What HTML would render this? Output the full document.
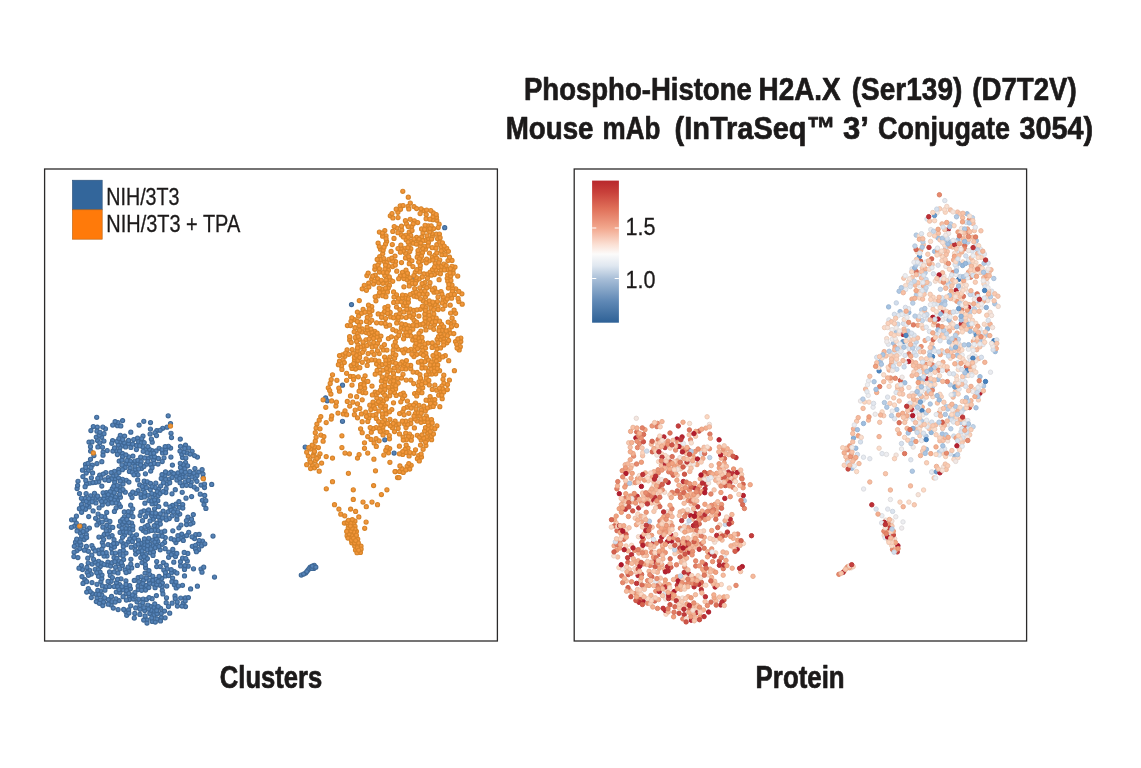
<!DOCTYPE html>
<html><head><meta charset="utf-8"><title>Phospho-Histone H2A.X</title>
<style>
html,body{margin:0;padding:0;background:#fff;}
body{width:1141px;height:768px;overflow:hidden;font-family:"Liberation Sans",sans-serif;}
svg{display:block;will-change:transform;}
text{font-family:"Liberation Sans",sans-serif;fill:#1c1a1a;}
.r{stroke:#1c1a1a;stroke-width:0.3px;}
.b{font-weight:bold;stroke:#1c1a1a;stroke-width:0.7px;stroke-linejoin:round;}
</style></head><body>
<svg width="1141" height="768" viewBox="0 0 1141 768">
<defs><linearGradient id="cb" x1="0" y1="0" x2="0" y2="1"><stop offset="0.000" stop-color="#b8282c"/><stop offset="0.080" stop-color="#c8403a"/><stop offset="0.200" stop-color="#e0715a"/><stop offset="0.333" stop-color="#f2a78d"/><stop offset="0.450" stop-color="#fbe0d4"/><stop offset="0.517" stop-color="#fcfbfa"/><stop offset="0.600" stop-color="#dfe7f0"/><stop offset="0.690" stop-color="#a9bfd8"/><stop offset="0.850" stop-color="#5f88b5"/><stop offset="1.000" stop-color="#2e6196"/></linearGradient></defs>
<rect width="1141" height="768" fill="#fff"/>
<g opacity="0.999"><!-- title -->
<text class="b" x="524.0" y="99.5" font-size="31.6" textLength="227.8" lengthAdjust="spacingAndGlyphs">Phospho-Histone</text>
<text class="b" x="758.5" y="99.5" font-size="31.6" textLength="82.2" lengthAdjust="spacingAndGlyphs">H2A.X</text>
<text class="b" x="851.8" y="99.5" font-size="31.6" textLength="110.5" lengthAdjust="spacingAndGlyphs">(Ser139)</text>
<text class="b" x="972.3" y="99.5" font-size="31.6" textLength="104.4" lengthAdjust="spacingAndGlyphs">(D7T2V)</text>
<text class="b" x="505.7" y="139" font-size="31.6" textLength="87.8" lengthAdjust="spacingAndGlyphs">Mouse</text>
<text class="b" x="602.6" y="139" font-size="31.6" textLength="57.8" lengthAdjust="spacingAndGlyphs">mAb</text>
<text class="b" x="674.6" y="139" font-size="31.6" textLength="160.9" lengthAdjust="spacingAndGlyphs">(InTraSeq&#8482;</text>
<text class="b" x="843.1" y="139" font-size="31.6" textLength="25.9" lengthAdjust="spacingAndGlyphs">3&#8217;</text>
<text class="b" x="878.0" y="139" font-size="31.6" textLength="131.9" lengthAdjust="spacingAndGlyphs">Conjugate</text>
<text class="b" x="1019.6" y="139" font-size="31.6" textLength="73.6" lengthAdjust="spacingAndGlyphs">3054)</text>
</g><!-- frames -->
<rect x="44.6" y="169" width="452.8" height="472" fill="none" stroke="#2b2a2a" stroke-width="1.3"/>
<rect x="574.2" y="169" width="452.4" height="472" fill="none" stroke="#2b2a2a" stroke-width="1.3"/>
<!-- legend left -->
<rect x="72.4" y="180.2" width="29.8" height="29.6" fill="#33669b" stroke="#2a4f78" stroke-width="0.6"/>
<rect x="72.4" y="209.8" width="29.8" height="29.4" fill="#ff7a0a" stroke="#b9600f" stroke-width="0.6"/>
<g opacity="0.999"><text class="r" x="106.3" y="204.9" font-size="23.4" textLength="73.2" lengthAdjust="spacingAndGlyphs">NIH/3T3</text>
<text class="r" x="106.3" y="232.2" font-size="23.4" textLength="133.9" lengthAdjust="spacingAndGlyphs">NIH/3T3 + TPA</text>
<!-- colour bar -->
<rect x="592.1" y="180.6" width="26.8" height="142.1" fill="url(#cb)"/>
<path d="M592.1 228h4.2M614.7 228h4.2M592.1 278.5h4.2M614.7 278.5h4.2" stroke="#fff" stroke-width="1.1"/>
<text class="r" x="625.4" y="234.6" font-size="24.2" textLength="30" lengthAdjust="spacingAndGlyphs">1.5</text>
<text class="r" x="625.4" y="287.5" font-size="24.2" textLength="30" lengthAdjust="spacingAndGlyphs">1.0</text>
<!-- axis titles -->
<text class="b" x="219.8" y="688" font-size="31" textLength="102.4" lengthAdjust="spacingAndGlyphs">Clusters</text>
<text class="b" x="755.6" y="688" font-size="31" textLength="89" lengthAdjust="spacingAndGlyphs">Protein</text>
</g><!-- points -->
<g fill="#5583b8" stroke="#3f6896" stroke-width="1.15"><circle cx="136.4" cy="449.5" r="2.05"/><circle cx="140.7" cy="457" r="2.05"/><circle cx="93.3" cy="426.5" r="2.05"/><circle cx="129.8" cy="528.6" r="2.05"/><circle cx="136.5" cy="445.4" r="2.05"/><circle cx="174.4" cy="571.6" r="2.05"/><circle cx="89.1" cy="506.9" r="2.05"/><circle cx="150.8" cy="457" r="2.05"/><circle cx="185.4" cy="597.9" r="2.05"/><circle cx="180.5" cy="467.4" r="2.05"/><circle cx="153.3" cy="584.1" r="2.05"/><circle cx="165.8" cy="492.5" r="2.05"/><circle cx="161.5" cy="532" r="2.05"/><circle cx="172.2" cy="515.8" r="2.05"/><circle cx="111.4" cy="548.6" r="2.05"/><circle cx="143" cy="436.1" r="2.05"/><circle cx="165.6" cy="479.3" r="2.05"/><circle cx="146.3" cy="464.2" r="2.05"/><circle cx="109.1" cy="536.9" r="2.05"/><circle cx="97" cy="597.8" r="2.05"/><circle cx="131.6" cy="523" r="2.05"/><circle cx="137.5" cy="438.2" r="2.05"/><circle cx="180.7" cy="598" r="2.05"/><circle cx="92.3" cy="465.1" r="2.05"/><circle cx="89.9" cy="483" r="2.05"/><circle cx="86.8" cy="505.1" r="2.05"/><circle cx="95.2" cy="569.3" r="2.05"/><circle cx="351.5" cy="304.6" r="2.05"/><circle cx="97.3" cy="427.1" r="2.05"/><circle cx="155.1" cy="587.7" r="2.05"/><circle cx="95.5" cy="498.2" r="2.05"/><circle cx="142" cy="562.6" r="2.05"/><circle cx="152.9" cy="545.8" r="2.05"/><circle cx="118.7" cy="469.4" r="2.05"/><circle cx="170.6" cy="448.1" r="2.05"/><circle cx="80.4" cy="532.9" r="2.05"/><circle cx="135.4" cy="550.3" r="2.05"/><circle cx="140.8" cy="557.6" r="2.05"/><circle cx="175" cy="595.9" r="2.05"/><circle cx="111.2" cy="581.3" r="2.05"/><circle cx="75.5" cy="542.2" r="2.05"/><circle cx="117.5" cy="425.7" r="2.05"/><circle cx="120.4" cy="497.2" r="2.05"/><circle cx="138.1" cy="490.6" r="2.05"/><circle cx="159.1" cy="448.3" r="2.05"/><circle cx="98.7" cy="481.8" r="2.05"/><circle cx="152.2" cy="442.2" r="2.05"/><circle cx="127" cy="525.7" r="2.05"/><circle cx="176.9" cy="480" r="2.05"/><circle cx="162.1" cy="586.7" r="2.05"/><circle cx="185.5" cy="462.5" r="2.05"/><circle cx="168.6" cy="557.3" r="2.05"/><circle cx="142.5" cy="553.8" r="2.05"/><circle cx="184.5" cy="575.9" r="2.05"/><circle cx="122.4" cy="565.4" r="2.05"/><circle cx="112.6" cy="440.6" r="2.05"/><circle cx="126" cy="553.1" r="2.05"/><circle cx="138.6" cy="441.7" r="2.05"/><circle cx="143.6" cy="542.3" r="2.05"/><circle cx="179.4" cy="507.4" r="2.05"/><circle cx="137.7" cy="463.2" r="2.05"/><circle cx="120.1" cy="442.2" r="2.05"/><circle cx="128.9" cy="571.5" r="2.05"/><circle cx="195.7" cy="534.5" r="2.05"/><circle cx="97.9" cy="446.9" r="2.05"/><circle cx="135.7" cy="607.9" r="2.05"/><circle cx="106.2" cy="519.8" r="2.05"/><circle cx="114.3" cy="571.9" r="2.05"/><circle cx="152" cy="450.7" r="2.05"/><circle cx="171.4" cy="572.7" r="2.05"/><circle cx="199.1" cy="534.4" r="2.05"/><circle cx="198.3" cy="543.9" r="2.05"/><circle cx="86.3" cy="534.6" r="2.05"/><circle cx="171.2" cy="472.1" r="2.05"/><circle cx="88.2" cy="470.4" r="2.05"/><circle cx="152.3" cy="621.4" r="2.05"/><circle cx="120" cy="551.7" r="2.05"/><circle cx="128.7" cy="456.8" r="2.05"/><circle cx="122.2" cy="445.7" r="2.05"/><circle cx="102.3" cy="542.6" r="2.05"/><circle cx="88.3" cy="588.5" r="2.05"/><circle cx="132.9" cy="463" r="2.05"/><circle cx="180.1" cy="475.2" r="2.05"/><circle cx="74.5" cy="526.1" r="2.05"/><circle cx="82.5" cy="470.2" r="2.05"/><circle cx="87.8" cy="558.2" r="2.05"/><circle cx="107.2" cy="450.5" r="2.05"/><circle cx="89.1" cy="502.5" r="2.05"/><circle cx="153.3" cy="519.2" r="2.05"/><circle cx="178.9" cy="527.8" r="2.05"/><circle cx="187.9" cy="517.1" r="2.05"/><circle cx="135" cy="461" r="2.05"/><circle cx="143.8" cy="510.9" r="2.05"/><circle cx="160" cy="520.2" r="2.05"/><circle cx="163.2" cy="511.1" r="2.05"/><circle cx="148.1" cy="458.6" r="2.05"/><circle cx="122.5" cy="524" r="2.05"/><circle cx="122.4" cy="453.4" r="2.05"/><circle cx="120.5" cy="521.2" r="2.05"/><circle cx="202.4" cy="500.3" r="2.05"/><circle cx="147.1" cy="619.9" r="2.05"/><circle cx="91.9" cy="545.7" r="2.05"/><circle cx="144.7" cy="545" r="2.05"/><circle cx="180.6" cy="565.9" r="2.05"/><circle cx="147.7" cy="513" r="2.05"/><circle cx="155.5" cy="516.3" r="2.05"/><circle cx="313.8" cy="568.4" r="2.05"/><circle cx="112.3" cy="488.7" r="2.05"/><circle cx="201" cy="569" r="2.05"/><circle cx="165.4" cy="575.9" r="2.05"/><circle cx="144.4" cy="538.9" r="2.05"/><circle cx="172.1" cy="603.2" r="2.05"/><circle cx="149.2" cy="527.8" r="2.05"/><circle cx="130.9" cy="559.3" r="2.05"/><circle cx="169.4" cy="479" r="2.05"/><circle cx="108.1" cy="544.6" r="2.05"/><circle cx="161.4" cy="617.6" r="2.05"/><circle cx="111.2" cy="604.9" r="2.05"/><circle cx="149.7" cy="544.1" r="2.05"/><circle cx="162.4" cy="583.1" r="2.05"/><circle cx="92.2" cy="564" r="2.05"/><circle cx="182.3" cy="485.7" r="2.05"/><circle cx="119.7" cy="584.6" r="2.05"/><circle cx="156.8" cy="430.6" r="2.05"/><circle cx="172.6" cy="578.1" r="2.05"/><circle cx="157.8" cy="500.7" r="2.05"/><circle cx="124.4" cy="516.8" r="2.05"/><circle cx="154.9" cy="432.8" r="2.05"/><circle cx="97" cy="584.3" r="2.05"/><circle cx="117.5" cy="500.6" r="2.05"/><circle cx="107.2" cy="498" r="2.05"/><circle cx="111.8" cy="443.3" r="2.05"/><circle cx="185.5" cy="445.1" r="2.05"/><circle cx="99.1" cy="507.9" r="2.05"/><circle cx="129.3" cy="596.3" r="2.05"/><circle cx="164.6" cy="542.4" r="2.05"/><circle cx="144.3" cy="587.4" r="2.05"/><circle cx="103.1" cy="452.1" r="2.05"/><circle cx="115.5" cy="497.2" r="2.05"/><circle cx="191.2" cy="482.3" r="2.05"/><circle cx="83.3" cy="500.7" r="2.05"/><circle cx="96.9" cy="463.5" r="2.05"/><circle cx="116.3" cy="592.1" r="2.05"/><circle cx="325.6" cy="397.9" r="2.05"/><circle cx="73.9" cy="556.5" r="2.05"/><circle cx="130.7" cy="605.8" r="2.05"/><circle cx="204.5" cy="487.5" r="2.05"/><circle cx="107" cy="556.1" r="2.05"/><circle cx="145.1" cy="573.1" r="2.05"/><circle cx="167.2" cy="484.1" r="2.05"/><circle cx="98.5" cy="550.1" r="2.05"/><circle cx="159.6" cy="585.1" r="2.05"/><circle cx="194.5" cy="538.6" r="2.05"/><circle cx="101.6" cy="437.3" r="2.05"/><circle cx="108.2" cy="477.5" r="2.05"/><circle cx="152.9" cy="580.2" r="2.05"/><circle cx="130.4" cy="588.7" r="2.05"/><circle cx="172" cy="493.8" r="2.05"/><circle cx="106.3" cy="492.6" r="2.05"/><circle cx="137" cy="601.8" r="2.05"/><circle cx="172.4" cy="465.1" r="2.05"/><circle cx="198.7" cy="472.1" r="2.05"/><circle cx="116.3" cy="450.8" r="2.05"/><circle cx="132.8" cy="526.2" r="2.05"/><circle cx="156.4" cy="595.6" r="2.05"/><circle cx="143.2" cy="530.5" r="2.05"/><circle cx="140.6" cy="548.4" r="2.05"/><circle cx="130.2" cy="468.3" r="2.05"/><circle cx="182.7" cy="504.5" r="2.05"/><circle cx="79.4" cy="508.7" r="2.05"/><circle cx="124.6" cy="535.1" r="2.05"/><circle cx="161.2" cy="478.4" r="2.05"/><circle cx="119.1" cy="600.6" r="2.05"/><circle cx="168.5" cy="606.5" r="2.05"/><circle cx="156.1" cy="450.9" r="2.05"/><circle cx="164.9" cy="475.6" r="2.05"/><circle cx="94.5" cy="493.3" r="2.05"/><circle cx="153.6" cy="460.3" r="2.05"/><circle cx="92.4" cy="593.6" r="2.05"/><circle cx="93.3" cy="548.4" r="2.05"/><circle cx="180.3" cy="439.1" r="2.05"/><circle cx="196.8" cy="489.2" r="2.05"/><circle cx="148.6" cy="531.2" r="2.05"/><circle cx="156.8" cy="523.1" r="2.05"/><circle cx="126.3" cy="480.3" r="2.05"/><circle cx="160.6" cy="608.3" r="2.05"/><circle cx="119.2" cy="461.1" r="2.05"/><circle cx="95.7" cy="482.3" r="2.05"/><circle cx="77" cy="550.6" r="2.05"/><circle cx="188.7" cy="532.3" r="2.05"/><circle cx="141.3" cy="442.7" r="2.05"/><circle cx="103.1" cy="492.8" r="2.05"/><circle cx="148.6" cy="509.9" r="2.05"/><circle cx="156.7" cy="561.5" r="2.05"/><circle cx="157.3" cy="526.2" r="2.05"/><circle cx="202.1" cy="469.7" r="2.05"/><circle cx="152.1" cy="598.7" r="2.05"/><circle cx="165.9" cy="504.2" r="2.05"/><circle cx="114.4" cy="547.1" r="2.05"/><circle cx="145.3" cy="560.6" r="2.05"/><circle cx="160.6" cy="486" r="2.05"/><circle cx="81.5" cy="504.5" r="2.05"/><circle cx="301.3" cy="575" r="2.05"/><circle cx="122.6" cy="456.7" r="2.05"/><circle cx="154.2" cy="463.5" r="2.05"/><circle cx="126.7" cy="615.3" r="2.05"/><circle cx="101.8" cy="595.2" r="2.05"/><circle cx="97.5" cy="440.5" r="2.05"/><circle cx="99.2" cy="553.5" r="2.05"/><circle cx="176.4" cy="475.9" r="2.05"/><circle cx="116.4" cy="489.7" r="2.05"/><circle cx="99.1" cy="523" r="2.05"/><circle cx="125.3" cy="492.2" r="2.05"/><circle cx="121" cy="578.8" r="2.05"/><circle cx="153.6" cy="607.5" r="2.05"/><circle cx="126.1" cy="463.4" r="2.05"/><circle cx="162.3" cy="590.6" r="2.05"/><circle cx="114" cy="557.6" r="2.05"/><circle cx="108.4" cy="500.5" r="2.05"/><circle cx="128.2" cy="541.9" r="2.05"/><circle cx="169.7" cy="613.2" r="2.05"/><circle cx="139.9" cy="614.4" r="2.05"/><circle cx="205.9" cy="508.4" r="2.05"/><circle cx="152.7" cy="540.2" r="2.05"/><circle cx="119.9" cy="447.7" r="2.05"/><circle cx="125.9" cy="454.9" r="2.05"/><circle cx="85.5" cy="464.3" r="2.05"/><circle cx="155.5" cy="503.4" r="2.05"/><circle cx="151.6" cy="515.8" r="2.05"/><circle cx="202.5" cy="541" r="2.05"/><circle cx="104.2" cy="496" r="2.05"/><circle cx="111.6" cy="495.9" r="2.05"/><circle cx="156.9" cy="544.2" r="2.05"/><circle cx="92" cy="582.6" r="2.05"/><circle cx="138.2" cy="589.6" r="2.05"/><circle cx="125.8" cy="611.5" r="2.05"/><circle cx="155.2" cy="547.7" r="2.05"/><circle cx="100.5" cy="591" r="2.05"/><circle cx="327.3" cy="400.8" r="2.05"/><circle cx="130.9" cy="447.4" r="2.05"/><circle cx="135.7" cy="554.1" r="2.05"/><circle cx="168.2" cy="415.8" r="2.05"/><circle cx="90.2" cy="591.5" r="2.05"/><circle cx="174.9" cy="509.5" r="2.05"/><circle cx="86.5" cy="484" r="2.05"/><circle cx="85.1" cy="486.7" r="2.05"/><circle cx="150.3" cy="552.8" r="2.05"/><circle cx="77.1" cy="544.9" r="2.05"/><circle cx="182.5" cy="457.6" r="2.05"/><circle cx="141.5" cy="468.4" r="2.05"/><circle cx="182.8" cy="508.1" r="2.05"/><circle cx="92.2" cy="498.5" r="2.05"/><circle cx="89.7" cy="570.3" r="2.05"/><circle cx="96.2" cy="594.2" r="2.05"/><circle cx="184.9" cy="468.7" r="2.05"/><circle cx="145.6" cy="567.8" r="2.05"/><circle cx="162.5" cy="452.9" r="2.05"/><circle cx="116.1" cy="508" r="2.05"/><circle cx="99.7" cy="475.2" r="2.05"/><circle cx="111.3" cy="545.3" r="2.05"/><circle cx="119.3" cy="526" r="2.05"/><circle cx="107.9" cy="562.1" r="2.05"/><circle cx="140.1" cy="515.6" r="2.05"/><circle cx="165.3" cy="537.6" r="2.05"/><circle cx="137.9" cy="460.4" r="2.05"/><circle cx="168.6" cy="575.5" r="2.05"/><circle cx="104.7" cy="516.9" r="2.05"/><circle cx="158.6" cy="536" r="2.05"/><circle cx="112.2" cy="552.9" r="2.05"/><circle cx="129.4" cy="471.4" r="2.05"/><circle cx="169.7" cy="482.7" r="2.05"/><circle cx="189.8" cy="474.6" r="2.05"/><circle cx="131.1" cy="512.6" r="2.05"/><circle cx="183" cy="473.8" r="2.05"/><circle cx="141.1" cy="461.7" r="2.05"/><circle cx="136.3" cy="472.5" r="2.05"/><circle cx="102.3" cy="505.1" r="2.05"/><circle cx="115.5" cy="553" r="2.05"/><circle cx="162" cy="474.6" r="2.05"/><circle cx="129.3" cy="599.6" r="2.05"/><circle cx="77.1" cy="530.9" r="2.05"/><circle cx="85.7" cy="467.4" r="2.05"/><circle cx="160.2" cy="549.8" r="2.05"/><circle cx="136.5" cy="534.8" r="2.05"/><circle cx="141.2" cy="497.4" r="2.05"/><circle cx="98.6" cy="561.3" r="2.05"/><circle cx="104" cy="433.7" r="2.05"/><circle cx="153.9" cy="611.3" r="2.05"/><circle cx="108.1" cy="581.4" r="2.05"/><circle cx="132.6" cy="444.1" r="2.05"/><circle cx="143.7" cy="620.1" r="2.05"/><circle cx="140.9" cy="543.4" r="2.05"/><circle cx="149.8" cy="613.4" r="2.05"/><circle cx="150.4" cy="453.6" r="2.05"/><circle cx="185.4" cy="472.3" r="2.05"/><circle cx="89.4" cy="528.1" r="2.05"/><circle cx="154.7" cy="603.9" r="2.05"/><circle cx="147.5" cy="545.8" r="2.05"/><circle cx="384.8" cy="439.8" r="2.05"/><circle cx="115.6" cy="567.3" r="2.05"/><circle cx="187.3" cy="561" r="2.05"/><circle cx="82.9" cy="476.6" r="2.05"/><circle cx="151.4" cy="439" r="2.05"/><circle cx="123.1" cy="543.7" r="2.05"/><circle cx="173.2" cy="552.3" r="2.05"/><circle cx="114.7" cy="482.2" r="2.05"/><circle cx="193.9" cy="473.2" r="2.05"/><circle cx="168.8" cy="552.2" r="2.05"/><circle cx="140.1" cy="609.3" r="2.05"/><circle cx="80.5" cy="539" r="2.05"/><circle cx="102.7" cy="536.8" r="2.05"/><circle cx="180.5" cy="561.7" r="2.05"/><circle cx="171.1" cy="538.7" r="2.05"/><circle cx="104.9" cy="479.8" r="2.05"/><circle cx="163.3" cy="562.6" r="2.05"/><circle cx="187" cy="452.9" r="2.05"/><circle cx="156.2" cy="579.4" r="2.05"/><circle cx="144" cy="548.4" r="2.05"/><circle cx="314.2" cy="565.3" r="2.05"/><circle cx="177.9" cy="472.9" r="2.05"/><circle cx="152.9" cy="497.3" r="2.05"/><circle cx="172.1" cy="477.4" r="2.05"/><circle cx="166.3" cy="565.1" r="2.05"/><circle cx="122" cy="465" r="2.05"/><circle cx="166.1" cy="488.7" r="2.05"/><circle cx="211.7" cy="484.4" r="2.05"/><circle cx="310.3" cy="567.2" r="2.05"/><circle cx="120.3" cy="554.8" r="2.05"/><circle cx="146.3" cy="585.4" r="2.05"/><circle cx="149.5" cy="583.3" r="2.05"/><circle cx="165.2" cy="548.7" r="2.05"/><circle cx="162.7" cy="428.3" r="2.05"/><circle cx="135.2" cy="469.3" r="2.05"/><circle cx="92.6" cy="472.9" r="2.05"/><circle cx="197" cy="475.6" r="2.05"/><circle cx="171.9" cy="581.7" r="2.05"/><circle cx="96.3" cy="437.1" r="2.05"/><circle cx="167.2" cy="568.8" r="2.05"/><circle cx="118" cy="422.5" r="2.05"/><circle cx="145.1" cy="615.9" r="2.05"/><circle cx="116.8" cy="558.4" r="2.05"/><circle cx="124.2" cy="442.7" r="2.05"/><circle cx="105.5" cy="428.8" r="2.05"/><circle cx="118.9" cy="472.5" r="2.05"/><circle cx="126.3" cy="587.8" r="2.05"/><circle cx="309.2" cy="568.6" r="2.05"/><circle cx="165.1" cy="617.8" r="2.05"/><circle cx="185.2" cy="482" r="2.05"/><circle cx="100.3" cy="566.6" r="2.05"/><circle cx="183.2" cy="603.2" r="2.05"/><circle cx="138.1" cy="577.6" r="2.05"/><circle cx="86.7" cy="592.1" r="2.05"/><circle cx="203" cy="474.1" r="2.05"/><circle cx="90.5" cy="459.3" r="2.05"/><circle cx="92.9" cy="482.6" r="2.05"/><circle cx="106.8" cy="525.4" r="2.05"/><circle cx="98.1" cy="520" r="2.05"/><circle cx="154.8" cy="494.4" r="2.05"/><circle cx="98.5" cy="576.3" r="2.05"/><circle cx="170.5" cy="423.5" r="2.05"/><circle cx="85.2" cy="498.4" r="2.05"/><circle cx="145.5" cy="590" r="2.05"/><circle cx="132.2" cy="472.2" r="2.05"/><circle cx="162.5" cy="517.9" r="2.05"/><circle cx="145.7" cy="532.2" r="2.05"/><circle cx="154.6" cy="508.8" r="2.05"/><circle cx="119.8" cy="486.6" r="2.05"/><circle cx="145.6" cy="516.6" r="2.05"/><circle cx="158" cy="464.1" r="2.05"/><circle cx="129.8" cy="538.9" r="2.05"/><circle cx="88.1" cy="463.4" r="2.05"/><circle cx="111.9" cy="601.7" r="2.05"/><circle cx="99.9" cy="499.2" r="2.05"/><circle cx="126.1" cy="544.7" r="2.05"/><circle cx="98.5" cy="569.7" r="2.05"/><circle cx="174.4" cy="584.7" r="2.05"/><circle cx="154.3" cy="525.7" r="2.05"/><circle cx="109.3" cy="530.6" r="2.05"/><circle cx="143.2" cy="489.2" r="2.05"/><circle cx="88.7" cy="516.6" r="2.05"/><circle cx="141" cy="512.1" r="2.05"/><circle cx="130.5" cy="461.3" r="2.05"/><circle cx="158.5" cy="489.1" r="2.05"/><circle cx="132.4" cy="536" r="2.05"/><circle cx="138.8" cy="581.8" r="2.05"/><circle cx="183.4" cy="536.3" r="2.05"/><circle cx="128.6" cy="609.9" r="2.05"/><circle cx="103.9" cy="441" r="2.05"/><circle cx="180.1" cy="482.7" r="2.05"/><circle cx="115.9" cy="598.8" r="2.05"/><circle cx="132.9" cy="516.7" r="2.05"/><circle cx="123.3" cy="550.3" r="2.05"/><circle cx="162" cy="449.8" r="2.05"/><circle cx="108.2" cy="604.2" r="2.05"/><circle cx="164" cy="457.8" r="2.05"/><circle cx="131.3" cy="547.2" r="2.05"/><circle cx="112.1" cy="535.6" r="2.05"/><circle cx="123.6" cy="559.5" r="2.05"/><circle cx="181" cy="525" r="2.05"/><circle cx="102.8" cy="605.5" r="2.05"/><circle cx="153.5" cy="552.1" r="2.05"/><circle cx="157.8" cy="530.5" r="2.05"/><circle cx="149" cy="500.5" r="2.05"/><circle cx="82.5" cy="569.6" r="2.05"/><circle cx="131.7" cy="567.9" r="2.05"/><circle cx="120.1" cy="532.4" r="2.05"/><circle cx="121.1" cy="541.3" r="2.05"/><circle cx="150.6" cy="464.4" r="2.05"/><circle cx="85.5" cy="509.3" r="2.05"/><circle cx="160.3" cy="524" r="2.05"/><circle cx="104.1" cy="556" r="2.05"/><circle cx="149.4" cy="449.3" r="2.05"/><circle cx="176.9" cy="519.4" r="2.05"/><circle cx="122.5" cy="479.3" r="2.05"/><circle cx="114.3" cy="492.7" r="2.05"/><circle cx="152" cy="503.8" r="2.05"/><circle cx="100.9" cy="581.6" r="2.05"/><circle cx="145.1" cy="484.2" r="2.05"/><circle cx="88.2" cy="563" r="2.05"/><circle cx="150.1" cy="434" r="2.05"/><circle cx="144.2" cy="481.2" r="2.05"/><circle cx="95.6" cy="518.3" r="2.05"/><circle cx="169.3" cy="518.5" r="2.05"/><circle cx="181.7" cy="534.1" r="2.05"/><circle cx="187.8" cy="553.4" r="2.05"/><circle cx="165.8" cy="449.6" r="2.05"/><circle cx="157.3" cy="491.7" r="2.05"/><circle cx="154.5" cy="456.8" r="2.05"/><circle cx="163.8" cy="570" r="2.05"/><circle cx="101.8" cy="578.5" r="2.05"/><circle cx="123.1" cy="589.7" r="2.05"/><circle cx="105.8" cy="472.5" r="2.05"/><circle cx="444.7" cy="227.7" r="2.05"/><circle cx="123.1" cy="555.8" r="2.05"/><circle cx="151.8" cy="500.9" r="2.05"/><circle cx="194.2" cy="487" r="2.05"/><circle cx="182.2" cy="492.3" r="2.05"/><circle cx="308" cy="570" r="2.05"/><circle cx="168.3" cy="511.7" r="2.05"/><circle cx="81.1" cy="529.3" r="2.05"/><circle cx="128.8" cy="522.4" r="2.05"/><circle cx="305.6" cy="573.1" r="2.05"/><circle cx="118.2" cy="563.7" r="2.05"/><circle cx="118.3" cy="445.1" r="2.05"/><circle cx="102.4" cy="585.9" r="2.05"/><circle cx="145.6" cy="449.7" r="2.05"/><circle cx="183.2" cy="464.7" r="2.05"/><circle cx="119.8" cy="568.8" r="2.05"/><circle cx="123.3" cy="546.6" r="2.05"/><circle cx="96.9" cy="524.9" r="2.05"/><circle cx="168.4" cy="446.3" r="2.05"/><circle cx="184.5" cy="569.4" r="2.05"/><circle cx="125.8" cy="528.7" r="2.05"/><circle cx="123" cy="484.1" r="2.05"/><circle cx="157.8" cy="541.3" r="2.05"/><circle cx="188.4" cy="597.6" r="2.05"/><circle cx="139.7" cy="484.9" r="2.05"/><circle cx="100.4" cy="600.2" r="2.05"/><circle cx="185.8" cy="458" r="2.05"/><circle cx="79.8" cy="548.5" r="2.05"/><circle cx="100.7" cy="477.9" r="2.05"/><circle cx="192" cy="536.8" r="2.05"/><circle cx="158.4" cy="516.9" r="2.05"/><circle cx="112.9" cy="451.1" r="2.05"/><circle cx="158.1" cy="495.7" r="2.05"/><circle cx="102.8" cy="427" r="2.05"/><circle cx="186.6" cy="524.6" r="2.05"/><circle cx="125.2" cy="467.6" r="2.05"/><circle cx="143.5" cy="580.3" r="2.05"/><circle cx="128.3" cy="515.8" r="2.05"/><circle cx="311.9" cy="568.4" r="2.05"/><circle cx="106.1" cy="586.7" r="2.05"/><circle cx="134.8" cy="613.4" r="2.05"/><circle cx="150.3" cy="606.4" r="2.05"/><circle cx="160.1" cy="493.4" r="2.05"/><circle cx="114.4" cy="500.2" r="2.05"/><circle cx="192.3" cy="546.3" r="2.05"/><circle cx="138.8" cy="599.3" r="2.05"/><circle cx="114.5" cy="471.3" r="2.05"/><circle cx="115.1" cy="478.7" r="2.05"/><circle cx="182.6" cy="558.2" r="2.05"/><circle cx="85.8" cy="480.4" r="2.05"/><circle cx="133.7" cy="439.5" r="2.05"/><circle cx="76.4" cy="516.2" r="2.05"/><circle cx="102.9" cy="527.2" r="2.05"/><circle cx="89" cy="442.1" r="2.05"/><circle cx="148.8" cy="580" r="2.05"/><circle cx="192.9" cy="522.8" r="2.05"/><circle cx="123.6" cy="531.8" r="2.05"/><circle cx="191.6" cy="496.5" r="2.05"/><circle cx="77.1" cy="488.6" r="2.05"/><circle cx="112.7" cy="425" r="2.05"/><circle cx="153" cy="555.4" r="2.05"/><circle cx="172.8" cy="549.4" r="2.05"/><circle cx="305.2" cy="447" r="2.05"/><circle cx="138.5" cy="540.2" r="2.05"/><circle cx="160.1" cy="430.3" r="2.05"/><circle cx="91" cy="467.7" r="2.05"/><circle cx="125.1" cy="569.9" r="2.05"/><circle cx="135.7" cy="493.4" r="2.05"/><circle cx="181.8" cy="454.3" r="2.05"/><circle cx="201.6" cy="545.8" r="2.05"/><circle cx="185.8" cy="558.5" r="2.05"/><circle cx="77.8" cy="526.7" r="2.05"/><circle cx="117.1" cy="441.4" r="2.05"/><circle cx="145.4" cy="473.8" r="2.05"/><circle cx="195.3" cy="478.8" r="2.05"/><circle cx="80.9" cy="544.9" r="2.05"/><circle cx="114.2" cy="586.5" r="2.05"/><circle cx="167" cy="427.2" r="2.05"/><circle cx="86.7" cy="530.1" r="2.05"/><circle cx="147" cy="623.1" r="2.05"/><circle cx="102" cy="575.1" r="2.05"/><circle cx="97.8" cy="564.5" r="2.05"/><circle cx="110" cy="526.8" r="2.05"/><circle cx="116.3" cy="475.8" r="2.05"/><circle cx="202" cy="572.2" r="2.05"/><circle cx="158.2" cy="606.5" r="2.05"/><circle cx="156.2" cy="538.7" r="2.05"/><circle cx="117.7" cy="586.7" r="2.05"/><circle cx="121.9" cy="586.8" r="2.05"/><circle cx="134.9" cy="592.5" r="2.05"/><circle cx="95" cy="562" r="2.05"/><circle cx="74.3" cy="546.3" r="2.05"/><circle cx="98.1" cy="514" r="2.05"/><circle cx="101.7" cy="563.1" r="2.05"/><circle cx="99" cy="594.5" r="2.05"/><circle cx="138.1" cy="586.1" r="2.05"/><circle cx="160.3" cy="513.8" r="2.05"/><circle cx="165.6" cy="452.8" r="2.05"/><circle cx="135.6" cy="545.7" r="2.05"/><circle cx="173.8" cy="562.2" r="2.05"/><circle cx="100.1" cy="572.1" r="2.05"/><circle cx="92" cy="441.9" r="2.05"/><circle cx="143.2" cy="599" r="2.05"/><circle cx="166.8" cy="586" r="2.05"/><circle cx="144.7" cy="457.9" r="2.05"/><circle cx="186" cy="498.2" r="2.05"/><circle cx="86.1" cy="493.5" r="2.05"/><circle cx="81.4" cy="565.5" r="2.05"/><circle cx="147.6" cy="541.6" r="2.05"/><circle cx="148.7" cy="538.3" r="2.05"/><circle cx="177" cy="515.9" r="2.05"/><circle cx="137.3" cy="565.4" r="2.05"/><circle cx="176.2" cy="587.9" r="2.05"/><circle cx="110.2" cy="491.7" r="2.05"/><circle cx="171" cy="433.3" r="2.05"/><circle cx="98.9" cy="537" r="2.05"/><circle cx="101.8" cy="461.7" r="2.05"/><circle cx="146.5" cy="599.5" r="2.05"/><circle cx="177.4" cy="606.1" r="2.05"/><circle cx="112.7" cy="527.4" r="2.05"/><circle cx="145.9" cy="554.5" r="2.05"/><circle cx="96.3" cy="601.6" r="2.05"/><circle cx="82.6" cy="507.7" r="2.05"/><circle cx="146.3" cy="577.9" r="2.05"/><circle cx="182.4" cy="477.3" r="2.05"/><circle cx="150.3" cy="489.6" r="2.05"/><circle cx="84.1" cy="525.9" r="2.05"/><circle cx="107.1" cy="565.1" r="2.05"/><circle cx="79.5" cy="493.6" r="2.05"/><circle cx="96.7" cy="417.3" r="2.05"/><circle cx="83.1" cy="531.5" r="2.05"/><circle cx="158.4" cy="458.4" r="2.05"/><circle cx="152" cy="467.7" r="2.05"/><circle cx="132.7" cy="508.8" r="2.05"/><circle cx="146.4" cy="487.7" r="2.05"/><circle cx="201.1" cy="485.1" r="2.05"/><circle cx="114.5" cy="447.9" r="2.05"/><circle cx="150.4" cy="429" r="2.05"/><circle cx="213" cy="536" r="2.05"/><circle cx="148.2" cy="495.3" r="2.05"/><circle cx="144.2" cy="442.7" r="2.05"/><circle cx="171.5" cy="437.5" r="2.05"/><circle cx="71.4" cy="527.3" r="2.05"/><circle cx="97.8" cy="590.4" r="2.05"/><circle cx="147.1" cy="452.8" r="2.05"/><circle cx="97" cy="431.2" r="2.05"/><circle cx="126.1" cy="593.6" r="2.05"/><circle cx="176" cy="504.2" r="2.05"/><circle cx="147.2" cy="549.7" r="2.05"/><circle cx="103.3" cy="545.7" r="2.05"/><circle cx="149" cy="597.6" r="2.05"/><circle cx="185.9" cy="477" r="2.05"/><circle cx="190.6" cy="485.5" r="2.05"/><circle cx="74.1" cy="552.3" r="2.05"/><circle cx="77.6" cy="485.6" r="2.05"/><circle cx="114.4" cy="511.4" r="2.05"/><circle cx="195.5" cy="545.3" r="2.05"/><circle cx="119" cy="561" r="2.05"/><circle cx="120.4" cy="506.6" r="2.05"/><circle cx="106.2" cy="552.7" r="2.05"/><circle cx="162.9" cy="593.9" r="2.05"/><circle cx="181.3" cy="471.3" r="2.05"/><circle cx="126.4" cy="600" r="2.05"/><circle cx="81.4" cy="498.3" r="2.05"/><circle cx="165.9" cy="514.9" r="2.05"/><circle cx="119.5" cy="451.1" r="2.05"/><circle cx="91.3" cy="574" r="2.05"/><circle cx="154.2" cy="615" r="2.05"/><circle cx="185.5" cy="606.6" r="2.05"/><circle cx="143.9" cy="466.6" r="2.05"/><circle cx="113.3" cy="608.1" r="2.05"/><circle cx="161.7" cy="578.4" r="2.05"/><circle cx="86.9" cy="567.4" r="2.05"/><circle cx="196.9" cy="481.3" r="2.05"/><circle cx="189.7" cy="471.7" r="2.05"/><circle cx="109.6" cy="571.9" r="2.05"/><circle cx="147.8" cy="605" r="2.05"/><circle cx="132.4" cy="541.4" r="2.05"/><circle cx="83" cy="583.4" r="2.05"/><circle cx="121.4" cy="562.7" r="2.05"/><circle cx="79" cy="568.2" r="2.05"/><circle cx="141.2" cy="528.5" r="2.05"/><circle cx="134.3" cy="580.4" r="2.05"/><circle cx="133.3" cy="599.1" r="2.05"/><circle cx="119.9" cy="592.6" r="2.05"/><circle cx="134.9" cy="596.2" r="2.05"/><circle cx="159" cy="546.5" r="2.05"/><circle cx="170.9" cy="457" r="2.05"/><circle cx="179.7" cy="514" r="2.05"/><circle cx="118.9" cy="504" r="2.05"/><circle cx="198.6" cy="549.7" r="2.05"/><circle cx="148.8" cy="587.6" r="2.05"/><circle cx="124.3" cy="511.9" r="2.05"/><circle cx="160.5" cy="620.9" r="2.05"/><circle cx="162.3" cy="536.2" r="2.05"/><circle cx="145.4" cy="564.8" r="2.05"/><circle cx="147.3" cy="481.8" r="2.05"/><circle cx="129.3" cy="464.3" r="2.05"/><circle cx="150.7" cy="471.1" r="2.05"/><circle cx="132.3" cy="595" r="2.05"/><circle cx="154.9" cy="542.1" r="2.05"/><circle cx="90.9" cy="430.6" r="2.05"/><circle cx="86.3" cy="501.4" r="2.05"/><circle cx="192.1" cy="451.3" r="2.05"/><circle cx="158.7" cy="506.7" r="2.05"/><circle cx="124.6" cy="436.1" r="2.05"/><circle cx="154.7" cy="530.3" r="2.05"/><circle cx="117.2" cy="485.5" r="2.05"/><circle cx="128.9" cy="482.1" r="2.05"/><circle cx="151.4" cy="530.4" r="2.05"/><circle cx="204.8" cy="543.8" r="2.05"/><circle cx="144.7" cy="610.5" r="2.05"/><circle cx="175.5" cy="556.6" r="2.05"/><circle cx="142.7" cy="446.8" r="2.05"/><circle cx="120.5" cy="491.2" r="2.05"/><circle cx="116" cy="503" r="2.05"/><circle cx="150" cy="520.9" r="2.05"/><circle cx="104.3" cy="534.4" r="2.05"/><circle cx="132.9" cy="456.1" r="2.05"/><circle cx="87.2" cy="572.4" r="2.05"/><circle cx="112.9" cy="476.1" r="2.05"/><circle cx="139.1" cy="425.1" r="2.05"/><circle cx="76.7" cy="539.2" r="2.05"/><circle cx="149.7" cy="574.5" r="2.05"/><circle cx="140" cy="605.3" r="2.05"/><circle cx="148.9" cy="570.6" r="2.05"/><circle cx="143.8" cy="421.3" r="2.05"/><circle cx="122.5" cy="537.3" r="2.05"/><circle cx="147.4" cy="558.6" r="2.05"/><circle cx="151.7" cy="617.9" r="2.05"/><circle cx="84.2" cy="539.6" r="2.05"/><circle cx="116.4" cy="582.5" r="2.05"/><circle cx="171.2" cy="569.7" r="2.05"/><circle cx="142" cy="550.9" r="2.05"/><circle cx="173.7" cy="473.6" r="2.05"/><circle cx="183.9" cy="452.1" r="2.05"/><circle cx="90.6" cy="495.8" r="2.05"/><circle cx="175.3" cy="598.7" r="2.05"/><circle cx="111.5" cy="478.9" r="2.05"/><circle cx="152.8" cy="576.3" r="2.05"/><circle cx="118.1" cy="609.5" r="2.05"/><circle cx="141.3" cy="576.8" r="2.05"/><circle cx="147.8" cy="446.7" r="2.05"/><circle cx="126.7" cy="590.7" r="2.05"/><circle cx="159.1" cy="576.4" r="2.05"/><circle cx="122" cy="528.3" r="2.05"/><circle cx="177.7" cy="512" r="2.05"/><circle cx="101.9" cy="549.1" r="2.05"/><circle cx="110.6" cy="566" r="2.05"/><circle cx="122.4" cy="469.7" r="2.05"/><circle cx="171.3" cy="554.7" r="2.05"/><circle cx="118" cy="572.9" r="2.05"/><circle cx="122.7" cy="519.2" r="2.05"/><circle cx="109.9" cy="521.4" r="2.05"/><circle cx="214.5" cy="577" r="2.05"/><circle cx="128.9" cy="613.1" r="2.05"/><circle cx="120.3" cy="435.3" r="2.05"/><circle cx="99.2" cy="435.2" r="2.05"/><circle cx="109.5" cy="586.4" r="2.05"/><circle cx="178.5" cy="586" r="2.05"/><circle cx="145" cy="526.9" r="2.05"/><circle cx="84.8" cy="579.6" r="2.05"/><circle cx="186.7" cy="535.6" r="2.05"/><circle cx="141.4" cy="586.8" r="2.05"/><circle cx="181.2" cy="538.5" r="2.05"/><circle cx="172.5" cy="505.4" r="2.05"/><circle cx="129.7" cy="585.5" r="2.05"/><circle cx="180" cy="451.1" r="2.05"/><circle cx="166.3" cy="519.8" r="2.05"/><circle cx="108.8" cy="480.4" r="2.05"/><circle cx="125.9" cy="580.8" r="2.05"/><circle cx="107.3" cy="534.1" r="2.05"/><circle cx="124.5" cy="521.8" r="2.05"/><circle cx="103.9" cy="499.1" r="2.05"/><circle cx="144" cy="556.6" r="2.05"/><circle cx="195.5" cy="548.9" r="2.05"/><circle cx="108.4" cy="599.6" r="2.05"/><circle cx="123" cy="489.5" r="2.05"/><circle cx="106.7" cy="512.4" r="2.05"/><circle cx="130.6" cy="494.6" r="2.05"/><circle cx="97.8" cy="478.3" r="2.05"/><circle cx="150.5" cy="483.4" r="2.05"/><circle cx="155.8" cy="483.2" r="2.05"/><circle cx="81.6" cy="512.3" r="2.05"/><circle cx="204" cy="504.6" r="2.05"/><circle cx="134.4" cy="538.2" r="2.05"/><circle cx="193.5" cy="568.8" r="2.05"/><circle cx="101.8" cy="486.1" r="2.05"/><circle cx="177.2" cy="602" r="2.05"/><circle cx="76.3" cy="523" r="2.05"/><circle cx="188.2" cy="566.2" r="2.05"/><circle cx="99.9" cy="432.3" r="2.05"/><circle cx="104.6" cy="597.8" r="2.05"/><circle cx="164.5" cy="611.1" r="2.05"/><circle cx="175.3" cy="489.7" r="2.05"/><circle cx="184.2" cy="552.4" r="2.05"/><circle cx="180.3" cy="463.3" r="2.05"/><circle cx="185" cy="565.6" r="2.05"/><circle cx="130.8" cy="432.2" r="2.05"/><circle cx="303.6" cy="574" r="2.05"/><circle cx="90.5" cy="446.7" r="2.05"/><circle cx="141.6" cy="590.3" r="2.05"/><circle cx="80" cy="542" r="2.05"/><circle cx="185.2" cy="601" r="2.05"/><circle cx="78" cy="481.3" r="2.05"/><circle cx="191.9" cy="476.9" r="2.05"/><circle cx="162.2" cy="461.5" r="2.05"/><circle cx="123.7" cy="609.4" r="2.05"/><circle cx="128.3" cy="511.7" r="2.05"/><circle cx="312.3" cy="566.2" r="2.05"/><circle cx="95.9" cy="502.9" r="2.05"/><circle cx="80.6" cy="525.8" r="2.05"/><circle cx="88.5" cy="575.3" r="2.05"/><circle cx="150.5" cy="422.5" r="2.05"/><circle cx="119" cy="589.8" r="2.05"/><circle cx="170" cy="506.9" r="2.05"/><circle cx="315.8" cy="567.2" r="2.05"/><circle cx="91.3" cy="597.6" r="2.05"/><circle cx="138" cy="474.8" r="2.05"/><circle cx="188.6" cy="448" r="2.05"/><circle cx="168.5" cy="473.3" r="2.05"/><circle cx="132.8" cy="529.7" r="2.05"/><circle cx="113.7" cy="486.2" r="2.05"/><circle cx="164.7" cy="531.2" r="2.05"/><circle cx="165.4" cy="572.6" r="2.05"/><circle cx="102.2" cy="522" r="2.05"/><circle cx="81.7" cy="536.3" r="2.05"/><circle cx="151" cy="610.3" r="2.05"/><circle cx="91.4" cy="477.8" r="2.05"/><circle cx="103.7" cy="539.5" r="2.05"/><circle cx="126.3" cy="532.2" r="2.05"/><circle cx="93.1" cy="510.9" r="2.05"/><circle cx="90.6" cy="451.1" r="2.05"/><circle cx="161.2" cy="613.4" r="2.05"/><circle cx="175.9" cy="582.1" r="2.05"/><circle cx="106.2" cy="530.7" r="2.05"/><circle cx="126.1" cy="572.5" r="2.05"/><circle cx="186.4" cy="520.7" r="2.05"/><circle cx="104.9" cy="590.2" r="2.05"/><circle cx="180.5" cy="446.3" r="2.05"/><circle cx="162.3" cy="544.3" r="2.05"/><circle cx="200.3" cy="494.2" r="2.05"/><circle cx="194.9" cy="468.5" r="2.05"/><circle cx="179.7" cy="478.4" r="2.05"/><circle cx="132.7" cy="492.2" r="2.05"/><circle cx="125.6" cy="446.9" r="2.05"/><circle cx="144.8" cy="492.5" r="2.05"/><circle cx="77.9" cy="557.6" r="2.05"/><circle cx="108.2" cy="494.6" r="2.05"/><circle cx="132" cy="497.5" r="2.05"/><circle cx="122.6" cy="420.6" r="2.05"/><circle cx="140.6" cy="464.9" r="2.05"/><circle cx="203.1" cy="477.9" r="2.05"/><circle cx="142.5" cy="520.7" r="2.05"/><circle cx="178.9" cy="501.7" r="2.05"/><circle cx="190.4" cy="524.1" r="2.05"/><circle cx="84.4" cy="550.2" r="2.05"/><circle cx="151.8" cy="493.5" r="2.05"/><circle cx="147.9" cy="461.5" r="2.05"/><circle cx="184.7" cy="448.4" r="2.05"/><circle cx="142.8" cy="602.7" r="2.05"/><circle cx="188.5" cy="480.4" r="2.05"/><circle cx="110.3" cy="575.5" r="2.05"/><circle cx="156.8" cy="618.9" r="2.05"/><circle cx="99.4" cy="603.3" r="2.05"/><circle cx="92.1" cy="501.8" r="2.05"/><circle cx="172.8" cy="530.8" r="2.05"/><circle cx="105.8" cy="501.6" r="2.05"/><circle cx="166.5" cy="597.8" r="2.05"/><circle cx="121.9" cy="460.2" r="2.05"/><circle cx="110.8" cy="498.7" r="2.05"/><circle cx="71.6" cy="519.8" r="2.05"/><circle cx="116.8" cy="543.6" r="2.05"/><circle cx="196.4" cy="551.7" r="2.05"/><circle cx="117.4" cy="454.5" r="2.05"/><circle cx="115.1" cy="421.6" r="2.05"/><circle cx="104.1" cy="564.5" r="2.05"/><circle cx="155" cy="535.8" r="2.05"/><circle cx="117.5" cy="579.4" r="2.05"/><circle cx="197.4" cy="457.1" r="2.05"/><circle cx="203.7" cy="567.2" r="2.05"/><circle cx="126" cy="584.4" r="2.05"/><circle cx="113.7" cy="543.4" r="2.05"/><circle cx="171.2" cy="510.3" r="2.05"/><circle cx="141.7" cy="438.8" r="2.05"/><circle cx="86.6" cy="581.7" r="2.05"/><circle cx="112" cy="562.7" r="2.05"/><circle cx="115.2" cy="602" r="2.05"/><circle cx="190.1" cy="454.1" r="2.05"/><circle cx="138.2" cy="544.2" r="2.05"/><circle cx="111.5" cy="596.4" r="2.05"/><circle cx="190.6" cy="588.9" r="2.05"/><circle cx="154.7" cy="499.9" r="2.05"/><circle cx="204.5" cy="484" r="2.05"/><circle cx="93.9" cy="455.5" r="2.05"/><circle cx="197.4" cy="586.2" r="2.05"/><circle cx="120.8" cy="425.9" r="2.05"/><circle cx="152.2" cy="513.1" r="2.05"/><circle cx="187.6" cy="465.8" r="2.05"/><circle cx="128.1" cy="567.2" r="2.05"/><circle cx="139.7" cy="445.8" r="2.05"/><circle cx="140.7" cy="494.2" r="2.05"/><circle cx="118.6" cy="478.1" r="2.05"/><circle cx="126.8" cy="519.4" r="2.05"/><circle cx="176.9" cy="573" r="2.05"/><circle cx="186.5" cy="485.3" r="2.05"/><circle cx="204.7" cy="495.4" r="2.05"/><circle cx="156.7" cy="566.6" r="2.05"/><circle cx="156.8" cy="584.5" r="2.05"/><circle cx="413.5" cy="279.3" r="2.05"/><circle cx="166.2" cy="602.7" r="2.05"/><circle cx="155.2" cy="487.5" r="2.05"/><circle cx="118.9" cy="438.6" r="2.05"/><circle cx="143.9" cy="607.7" r="2.05"/><circle cx="103" cy="455.2" r="2.05"/><circle cx="137.7" cy="479.9" r="2.05"/><circle cx="86.6" cy="537.5" r="2.05"/><circle cx="155.7" cy="513.3" r="2.05"/><circle cx="182.5" cy="585.3" r="2.05"/><circle cx="102.8" cy="553.2" r="2.05"/><circle cx="155.3" cy="622.1" r="2.05"/><circle cx="97.6" cy="496.2" r="2.05"/><circle cx="74.5" cy="519.8" r="2.05"/><circle cx="138.7" cy="469" r="2.05"/><circle cx="142.3" cy="486.5" r="2.05"/><circle cx="99.8" cy="442.8" r="2.05"/><circle cx="111.1" cy="472.6" r="2.05"/><circle cx="102.5" cy="447.3" r="2.05"/><circle cx="177.9" cy="535.7" r="2.05"/><circle cx="306.8" cy="571.6" r="2.05"/><circle cx="175.9" cy="542.6" r="2.05"/><circle cx="205.8" cy="500.7" r="2.05"/><circle cx="163" cy="491.5" r="2.05"/><circle cx="156.5" cy="435.5" r="2.05"/><circle cx="191.5" cy="519.2" r="2.05"/><circle cx="128.5" cy="443.5" r="2.05"/><circle cx="174.3" cy="539.9" r="2.05"/><circle cx="91.8" cy="555.2" r="2.05"/><circle cx="147.7" cy="525.4" r="2.05"/><circle cx="93.6" cy="559.3" r="2.05"/><circle cx="119.6" cy="494.3" r="2.05"/><circle cx="128.9" cy="593.4" r="2.05"/><circle cx="157" cy="613.8" r="2.05"/><circle cx="160.3" cy="566.6" r="2.05"/><circle cx="194.5" cy="455.6" r="2.05"/><circle cx="122.7" cy="439.7" r="2.05"/><circle cx="82" cy="576.6" r="2.05"/><circle cx="144.9" cy="503.2" r="2.05"/><circle cx="120.2" cy="481.1" r="2.05"/><circle cx="86.2" cy="473.1" r="2.05"/><circle cx="152" cy="486.6" r="2.05"/><circle cx="103.2" cy="474.1" r="2.05"/><circle cx="199.2" cy="540.5" r="2.05"/><circle cx="138.3" cy="552.1" r="2.05"/><circle cx="103.6" cy="602.1" r="2.05"/><circle cx="114.9" cy="561.8" r="2.05"/><circle cx="153.8" cy="453.3" r="2.05"/><circle cx="342.5" cy="421.3" r="2.05"/><circle cx="183.3" cy="540.4" r="2.05"/><circle cx="165.2" cy="446.6" r="2.05"/><circle cx="128.6" cy="440.4" r="2.05"/><circle cx="163.4" cy="482.8" r="2.05"/><circle cx="193.3" cy="514.6" r="2.05"/><circle cx="126.8" cy="460.5" r="2.05"/><circle cx="394.1" cy="453" r="2.05"/><circle cx="107.9" cy="503.8" r="2.05"/><circle cx="86.4" cy="546.4" r="2.05"/><circle cx="114" cy="539.7" r="2.05"/><circle cx="133.9" cy="474.8" r="2.05"/><circle cx="165.5" cy="471.9" r="2.05"/><circle cx="176.8" cy="553.4" r="2.05"/><circle cx="134.3" cy="618" r="2.05"/><circle cx="156.7" cy="610.6" r="2.05"/><circle cx="143.2" cy="451.3" r="2.05"/><circle cx="95.1" cy="550.9" r="2.05"/><circle cx="101.6" cy="501.5" r="2.05"/><circle cx="130.7" cy="505.2" r="2.05"/><circle cx="148.4" cy="609" r="2.05"/><circle cx="88.4" cy="551.3" r="2.05"/><circle cx="112.4" cy="577.5" r="2.05"/><circle cx="182" cy="606.1" r="2.05"/><circle cx="88.8" cy="498.6" r="2.05"/><circle cx="178.2" cy="539.5" r="2.05"/><circle cx="144.4" cy="496.9" r="2.05"/><circle cx="173.5" cy="512" r="2.05"/><circle cx="101.5" cy="516.3" r="2.05"/><circle cx="342.5" cy="385.2" r="2.05"/><circle cx="142.8" cy="583.6" r="2.05"/><circle cx="130.1" cy="533" r="2.05"/><circle cx="130.8" cy="564.2" r="2.05"/><circle cx="112.1" cy="502.9" r="2.05"/><circle cx="96.7" cy="572.8" r="2.05"/><circle cx="134.9" cy="466.2" r="2.05"/><circle cx="150.8" cy="549" r="2.05"/><circle cx="158.1" cy="581.4" r="2.05"/><circle cx="123.1" cy="596.7" r="2.05"/></g>
<g fill="#f2963a" stroke="#d78429" stroke-width="1.15"><circle cx="383.4" cy="292" r="2.05"/><circle cx="396.9" cy="228.1" r="2.05"/><circle cx="375.2" cy="392.1" r="2.05"/><circle cx="375.5" cy="470.8" r="2.05"/><circle cx="420.4" cy="309.3" r="2.05"/><circle cx="348.2" cy="528" r="2.05"/><circle cx="455.7" cy="288.8" r="2.05"/><circle cx="437.1" cy="339.3" r="2.05"/><circle cx="431.6" cy="439.7" r="2.05"/><circle cx="436.2" cy="318.2" r="2.05"/><circle cx="376.3" cy="446.4" r="2.05"/><circle cx="362.3" cy="328.9" r="2.05"/><circle cx="440.7" cy="339.4" r="2.05"/><circle cx="364.7" cy="528.3" r="2.05"/><circle cx="376.3" cy="418.4" r="2.05"/><circle cx="448.7" cy="360.7" r="2.05"/><circle cx="395.5" cy="471.6" r="2.05"/><circle cx="360.4" cy="552.4" r="2.05"/><circle cx="381.4" cy="381.1" r="2.05"/><circle cx="383.7" cy="400.8" r="2.05"/><circle cx="424.9" cy="317.9" r="2.05"/><circle cx="412.8" cy="329.2" r="2.05"/><circle cx="360.6" cy="385" r="2.05"/><circle cx="387.7" cy="371.8" r="2.05"/><circle cx="376.2" cy="394.7" r="2.05"/><circle cx="406.1" cy="317.5" r="2.05"/><circle cx="457.7" cy="276" r="2.05"/><circle cx="400.2" cy="205.8" r="2.05"/><circle cx="319.2" cy="420.2" r="2.05"/><circle cx="351.8" cy="542.8" r="2.05"/><circle cx="396.2" cy="315.1" r="2.05"/><circle cx="396.2" cy="331" r="2.05"/><circle cx="433.9" cy="364.8" r="2.05"/><circle cx="411.7" cy="226.5" r="2.05"/><circle cx="427.9" cy="343.1" r="2.05"/><circle cx="422.5" cy="252.6" r="2.05"/><circle cx="366.3" cy="506.7" r="2.05"/><circle cx="422.5" cy="341.7" r="2.05"/><circle cx="374.8" cy="269.3" r="2.05"/><circle cx="421.9" cy="347.1" r="2.05"/><circle cx="393.5" cy="373.2" r="2.05"/><circle cx="435.7" cy="373.8" r="2.05"/><circle cx="420" cy="268.4" r="2.05"/><circle cx="431.9" cy="374" r="2.05"/><circle cx="376.4" cy="403.7" r="2.05"/><circle cx="382.6" cy="404.1" r="2.05"/><circle cx="438.9" cy="354.7" r="2.05"/><circle cx="354.9" cy="521.2" r="2.05"/><circle cx="452.6" cy="288.5" r="2.05"/><circle cx="432.3" cy="305.1" r="2.05"/><circle cx="381.8" cy="347.2" r="2.05"/><circle cx="414.6" cy="393.5" r="2.05"/><circle cx="411.2" cy="465.3" r="2.05"/><circle cx="420.5" cy="445.1" r="2.05"/><circle cx="447.2" cy="278.3" r="2.05"/><circle cx="353.5" cy="523.9" r="2.05"/><circle cx="440.9" cy="391.3" r="2.05"/><circle cx="409.2" cy="232.2" r="2.05"/><circle cx="429.5" cy="253.1" r="2.05"/><circle cx="349.7" cy="339.9" r="2.05"/><circle cx="429.2" cy="286.3" r="2.05"/><circle cx="437.7" cy="364.9" r="2.05"/><circle cx="436.8" cy="220.3" r="2.05"/><circle cx="368.9" cy="418.1" r="2.05"/><circle cx="371.7" cy="279.1" r="2.05"/><circle cx="452.4" cy="291.5" r="2.05"/><circle cx="425.5" cy="348.1" r="2.05"/><circle cx="344.9" cy="356.3" r="2.05"/><circle cx="426.2" cy="214.6" r="2.05"/><circle cx="341.9" cy="447.5" r="2.05"/><circle cx="434.8" cy="385" r="2.05"/><circle cx="406.2" cy="380" r="2.05"/><circle cx="355.6" cy="511.4" r="2.05"/><circle cx="461.9" cy="293.8" r="2.05"/><circle cx="373.7" cy="342.5" r="2.05"/><circle cx="434.6" cy="288.2" r="2.05"/><circle cx="421.9" cy="260.5" r="2.05"/><circle cx="359.8" cy="408.4" r="2.05"/><circle cx="335.9" cy="406.1" r="2.05"/><circle cx="365.1" cy="375.8" r="2.05"/><circle cx="389.8" cy="357.2" r="2.05"/><circle cx="369.3" cy="343.8" r="2.05"/><circle cx="316.9" cy="424.1" r="2.05"/><circle cx="453.1" cy="269.7" r="2.05"/><circle cx="342.5" cy="354.9" r="2.05"/><circle cx="361.8" cy="331.9" r="2.05"/><circle cx="410.1" cy="309.2" r="2.05"/><circle cx="410" cy="331.7" r="2.05"/><circle cx="428.3" cy="225.8" r="2.05"/><circle cx="383.5" cy="349.9" r="2.05"/><circle cx="423.8" cy="406.2" r="2.05"/><circle cx="443.9" cy="383.3" r="2.05"/><circle cx="354.7" cy="546" r="2.05"/><circle cx="361.5" cy="313.3" r="2.05"/><circle cx="383.8" cy="455" r="2.05"/><circle cx="451.7" cy="298.2" r="2.05"/><circle cx="379.2" cy="353.5" r="2.05"/><circle cx="443" cy="300.2" r="2.05"/><circle cx="425.8" cy="240.3" r="2.05"/><circle cx="412.7" cy="340.1" r="2.05"/><circle cx="434.5" cy="368.2" r="2.05"/><circle cx="388.4" cy="270.2" r="2.05"/><circle cx="399.8" cy="309.5" r="2.05"/><circle cx="443.7" cy="338.6" r="2.05"/><circle cx="314.5" cy="467.8" r="2.05"/><circle cx="436.8" cy="244.7" r="2.05"/><circle cx="350.4" cy="537.2" r="2.05"/><circle cx="368.2" cy="360.8" r="2.05"/><circle cx="354.4" cy="414.7" r="2.05"/><circle cx="354.5" cy="360.5" r="2.05"/><circle cx="396.2" cy="395.4" r="2.05"/><circle cx="441.3" cy="269.9" r="2.05"/><circle cx="392.7" cy="362.1" r="2.05"/><circle cx="383" cy="430.3" r="2.05"/><circle cx="414" cy="206.6" r="2.05"/><circle cx="403.6" cy="305.5" r="2.05"/><circle cx="435" cy="403.6" r="2.05"/><circle cx="331.2" cy="379.5" r="2.05"/><circle cx="439.6" cy="370.7" r="2.05"/><circle cx="419.2" cy="345.3" r="2.05"/><circle cx="439.2" cy="359.5" r="2.05"/><circle cx="408.1" cy="206.4" r="2.05"/><circle cx="432.3" cy="236.4" r="2.05"/><circle cx="429" cy="312.2" r="2.05"/><circle cx="441" cy="291.5" r="2.05"/><circle cx="344.4" cy="523.1" r="2.05"/><circle cx="441.9" cy="254.7" r="2.05"/><circle cx="417.1" cy="372.4" r="2.05"/><circle cx="386.9" cy="350.1" r="2.05"/><circle cx="436.4" cy="234.2" r="2.05"/><circle cx="357.2" cy="333.3" r="2.05"/><circle cx="422.7" cy="350.7" r="2.05"/><circle cx="397.9" cy="320" r="2.05"/><circle cx="362.2" cy="288.8" r="2.05"/><circle cx="413" cy="293.1" r="2.05"/><circle cx="420.8" cy="331.2" r="2.05"/><circle cx="370.1" cy="315.2" r="2.05"/><circle cx="316.9" cy="465.5" r="2.05"/><circle cx="440.5" cy="347.9" r="2.05"/><circle cx="437.6" cy="238.8" r="2.05"/><circle cx="402.6" cy="398.6" r="2.05"/><circle cx="395" cy="471.6" r="2.05"/><circle cx="405.7" cy="235.3" r="2.05"/><circle cx="436.9" cy="348.7" r="2.05"/><circle cx="421.7" cy="236.9" r="2.05"/><circle cx="407.3" cy="276.2" r="2.05"/><circle cx="406.8" cy="305.5" r="2.05"/><circle cx="405.7" cy="368.9" r="2.05"/><circle cx="408" cy="448.1" r="2.05"/><circle cx="414.7" cy="350.5" r="2.05"/><circle cx="405.5" cy="257.9" r="2.05"/><circle cx="422.7" cy="387.7" r="2.05"/><circle cx="360.8" cy="322.1" r="2.05"/><circle cx="417.6" cy="392.9" r="2.05"/><circle cx="376.1" cy="427.5" r="2.05"/><circle cx="379.5" cy="428.7" r="2.05"/><circle cx="460.8" cy="341.6" r="2.05"/><circle cx="331.2" cy="419.1" r="2.05"/><circle cx="398.2" cy="383" r="2.05"/><circle cx="399.8" cy="471.4" r="2.05"/><circle cx="458.8" cy="301.5" r="2.05"/><circle cx="375.9" cy="414.5" r="2.05"/><circle cx="418.1" cy="253.5" r="2.05"/><circle cx="425.8" cy="353.4" r="2.05"/><circle cx="411.4" cy="241.1" r="2.05"/><circle cx="359.3" cy="300.6" r="2.05"/><circle cx="359.8" cy="367.7" r="2.05"/><circle cx="348.2" cy="524.7" r="2.05"/><circle cx="377.5" cy="278.6" r="2.05"/><circle cx="382.5" cy="417" r="2.05"/><circle cx="441.4" cy="247" r="2.05"/><circle cx="398.3" cy="370.8" r="2.05"/><circle cx="410.9" cy="349.3" r="2.05"/><circle cx="352" cy="385" r="2.05"/><circle cx="338.9" cy="509.1" r="2.05"/><circle cx="425.1" cy="225.3" r="2.05"/><circle cx="414.1" cy="296.2" r="2.05"/><circle cx="451" cy="323.7" r="2.05"/><circle cx="411.3" cy="440.2" r="2.05"/><circle cx="416.1" cy="409" r="2.05"/><circle cx="378.1" cy="392.6" r="2.05"/><circle cx="359.3" cy="339.3" r="2.05"/><circle cx="439.4" cy="234" r="2.05"/><circle cx="455" cy="267.1" r="2.05"/><circle cx="424.7" cy="361.7" r="2.05"/><circle cx="405.4" cy="220.7" r="2.05"/><circle cx="367.7" cy="436.6" r="2.05"/><circle cx="392" cy="386.3" r="2.05"/><circle cx="440.4" cy="273.8" r="2.05"/><circle cx="450.2" cy="305.2" r="2.05"/><circle cx="402.5" cy="272.3" r="2.05"/><circle cx="363.4" cy="379.1" r="2.05"/><circle cx="403" cy="374.3" r="2.05"/><circle cx="326.3" cy="488.8" r="2.05"/><circle cx="388.7" cy="365.7" r="2.05"/><circle cx="354.4" cy="357.5" r="2.05"/><circle cx="347.4" cy="325.6" r="2.05"/><circle cx="357.7" cy="539.1" r="2.05"/><circle cx="366.1" cy="358.8" r="2.05"/><circle cx="374.1" cy="442.9" r="2.05"/><circle cx="350.5" cy="325.5" r="2.05"/><circle cx="409.4" cy="259.4" r="2.05"/><circle cx="364.5" cy="442.8" r="2.05"/><circle cx="445.3" cy="301.8" r="2.05"/><circle cx="348.4" cy="473.3" r="2.05"/><circle cx="375.9" cy="300.8" r="2.05"/><circle cx="403.3" cy="366.1" r="2.05"/><circle cx="417.3" cy="435.3" r="2.05"/><circle cx="420.8" cy="353.6" r="2.05"/><circle cx="386" cy="235.8" r="2.05"/><circle cx="380.9" cy="336.1" r="2.05"/><circle cx="405.1" cy="302.8" r="2.05"/><circle cx="429.2" cy="260.8" r="2.05"/><circle cx="425.5" cy="249.2" r="2.05"/><circle cx="355.5" cy="369.1" r="2.05"/><circle cx="370.1" cy="414.8" r="2.05"/><circle cx="354.4" cy="319.6" r="2.05"/><circle cx="424.2" cy="421.4" r="2.05"/><circle cx="393.7" cy="302.4" r="2.05"/><circle cx="362.2" cy="421.7" r="2.05"/><circle cx="405.1" cy="449.4" r="2.05"/><circle cx="408.3" cy="350.7" r="2.05"/><circle cx="385.2" cy="381.7" r="2.05"/><circle cx="401.4" cy="234.9" r="2.05"/><circle cx="422.8" cy="240.7" r="2.05"/><circle cx="423.3" cy="301" r="2.05"/><circle cx="392.6" cy="266.5" r="2.05"/><circle cx="447.7" cy="275" r="2.05"/><circle cx="372.2" cy="346.9" r="2.05"/><circle cx="403.1" cy="437.1" r="2.05"/><circle cx="397.9" cy="212.3" r="2.05"/><circle cx="361" cy="546.1" r="2.05"/><circle cx="396.2" cy="209.2" r="2.05"/><circle cx="358.3" cy="376.8" r="2.05"/><circle cx="442.9" cy="309.1" r="2.05"/><circle cx="441.6" cy="324.3" r="2.05"/><circle cx="403.1" cy="205.5" r="2.05"/><circle cx="369.5" cy="322.4" r="2.05"/><circle cx="334.5" cy="504.7" r="2.05"/><circle cx="423.7" cy="210.6" r="2.05"/><circle cx="401.3" cy="327.9" r="2.05"/><circle cx="443.3" cy="297" r="2.05"/><circle cx="383" cy="407.7" r="2.05"/><circle cx="399.6" cy="413.5" r="2.05"/><circle cx="438" cy="297" r="2.05"/><circle cx="393.6" cy="291.9" r="2.05"/><circle cx="427.4" cy="278.3" r="2.05"/><circle cx="344.7" cy="515.8" r="2.05"/><circle cx="421.9" cy="392.7" r="2.05"/><circle cx="417.1" cy="421" r="2.05"/><circle cx="328.3" cy="387.8" r="2.05"/><circle cx="434" cy="292.2" r="2.05"/><circle cx="386.3" cy="326.2" r="2.05"/><circle cx="438.5" cy="336.5" r="2.05"/><circle cx="429.1" cy="374.1" r="2.05"/><circle cx="430" cy="406.9" r="2.05"/><circle cx="382.7" cy="253.7" r="2.05"/><circle cx="413.9" cy="310.4" r="2.05"/><circle cx="415.1" cy="346.2" r="2.05"/><circle cx="447.3" cy="389.5" r="2.05"/><circle cx="388.5" cy="452.8" r="2.05"/><circle cx="401.3" cy="301.8" r="2.05"/><circle cx="380.5" cy="249.2" r="2.05"/><circle cx="428.3" cy="238.5" r="2.05"/><circle cx="386.9" cy="489.8" r="2.05"/><circle cx="390.3" cy="279.9" r="2.05"/><circle cx="410.7" cy="368.7" r="2.05"/><circle cx="396.3" cy="424.9" r="2.05"/><circle cx="382.2" cy="314.2" r="2.05"/><circle cx="434" cy="358.9" r="2.05"/><circle cx="419.5" cy="341.1" r="2.05"/><circle cx="421" cy="422.3" r="2.05"/><circle cx="316.1" cy="428" r="2.05"/><circle cx="418.7" cy="455.7" r="2.05"/><circle cx="403.9" cy="286.8" r="2.05"/><circle cx="443.9" cy="249.5" r="2.05"/><circle cx="391.8" cy="409.5" r="2.05"/><circle cx="399.5" cy="332.3" r="2.05"/><circle cx="399" cy="424" r="2.05"/><circle cx="421.2" cy="440" r="2.05"/><circle cx="397.4" cy="366.2" r="2.05"/><circle cx="431.7" cy="399.7" r="2.05"/><circle cx="432.3" cy="342.9" r="2.05"/><circle cx="385.1" cy="323.4" r="2.05"/><circle cx="445.3" cy="355.7" r="2.05"/><circle cx="357.9" cy="360.4" r="2.05"/><circle cx="436.8" cy="272.8" r="2.05"/><circle cx="381.5" cy="386.6" r="2.05"/><circle cx="416.9" cy="309.8" r="2.05"/><circle cx="409.1" cy="455.9" r="2.05"/><circle cx="425.5" cy="307.6" r="2.05"/><circle cx="456.5" cy="325.5" r="2.05"/><circle cx="384.7" cy="385.4" r="2.05"/><circle cx="427.6" cy="433" r="2.05"/><circle cx="321.6" cy="463.1" r="2.05"/><circle cx="326.2" cy="422.5" r="2.05"/><circle cx="386.8" cy="283.3" r="2.05"/><circle cx="450.7" cy="276" r="2.05"/><circle cx="351.7" cy="535" r="2.05"/><circle cx="450.6" cy="313" r="2.05"/><circle cx="319.2" cy="471.2" r="2.05"/><circle cx="441.9" cy="294.1" r="2.05"/><circle cx="412.9" cy="266.5" r="2.05"/><circle cx="404" cy="329.2" r="2.05"/><circle cx="424.6" cy="431" r="2.05"/><circle cx="367.8" cy="381.4" r="2.05"/><circle cx="379.7" cy="256.7" r="2.05"/><circle cx="420.1" cy="213.5" r="2.05"/><circle cx="398.6" cy="298.7" r="2.05"/><circle cx="402" cy="368.8" r="2.05"/><circle cx="402.8" cy="411.6" r="2.05"/><circle cx="432.3" cy="389.4" r="2.05"/><circle cx="357.3" cy="321.4" r="2.05"/><circle cx="425.5" cy="427.7" r="2.05"/><circle cx="384.8" cy="390" r="2.05"/><circle cx="339.5" cy="361.1" r="2.05"/><circle cx="396.5" cy="294.8" r="2.05"/><circle cx="428.5" cy="242.6" r="2.05"/><circle cx="416.6" cy="237.4" r="2.05"/><circle cx="449.4" cy="380.1" r="2.05"/><circle cx="357.5" cy="403.8" r="2.05"/><circle cx="416.6" cy="354.6" r="2.05"/><circle cx="433.6" cy="228.6" r="2.05"/><circle cx="366.1" cy="522" r="2.05"/><circle cx="395.6" cy="261.6" r="2.05"/><circle cx="419" cy="333.4" r="2.05"/><circle cx="364.5" cy="448.3" r="2.05"/><circle cx="386.9" cy="432.4" r="2.05"/><circle cx="439.7" cy="242.2" r="2.05"/><circle cx="395.1" cy="421.2" r="2.05"/><circle cx="93.3" cy="452.9" r="2.05"/><circle cx="389.7" cy="448.6" r="2.05"/><circle cx="339.5" cy="391.2" r="2.05"/><circle cx="355.5" cy="550" r="2.05"/><circle cx="446.9" cy="342.8" r="2.05"/><circle cx="381.5" cy="317.3" r="2.05"/><circle cx="421.1" cy="208.8" r="2.05"/><circle cx="427.2" cy="274.1" r="2.05"/><circle cx="411.4" cy="280.5" r="2.05"/><circle cx="361.1" cy="549" r="2.05"/><circle cx="436.5" cy="217.3" r="2.05"/><circle cx="341.5" cy="365.9" r="2.05"/><circle cx="425.4" cy="297" r="2.05"/><circle cx="371.3" cy="432.2" r="2.05"/><circle cx="310.6" cy="449.1" r="2.05"/><circle cx="432.1" cy="347.4" r="2.05"/><circle cx="447.8" cy="281.3" r="2.05"/><circle cx="315.3" cy="460.8" r="2.05"/><circle cx="443.7" cy="342.2" r="2.05"/><circle cx="362.8" cy="392.5" r="2.05"/><circle cx="413.9" cy="356.5" r="2.05"/><circle cx="406.5" cy="223.9" r="2.05"/><circle cx="374.7" cy="334.5" r="2.05"/><circle cx="441.9" cy="386" r="2.05"/><circle cx="356.4" cy="531.4" r="2.05"/><circle cx="428.5" cy="425.2" r="2.05"/><circle cx="416.9" cy="415.9" r="2.05"/><circle cx="431.5" cy="419.5" r="2.05"/><circle cx="448.2" cy="295.7" r="2.05"/><circle cx="424.2" cy="286" r="2.05"/><circle cx="424.9" cy="282.6" r="2.05"/><circle cx="427" cy="439.7" r="2.05"/><circle cx="426.1" cy="218.7" r="2.05"/><circle cx="406" cy="427.6" r="2.05"/><circle cx="442.3" cy="303" r="2.05"/><circle cx="349.4" cy="453.8" r="2.05"/><circle cx="406.1" cy="239.7" r="2.05"/><circle cx="403.9" cy="311.9" r="2.05"/><circle cx="357.5" cy="545.3" r="2.05"/><circle cx="409.3" cy="263.7" r="2.05"/><circle cx="355" cy="526.3" r="2.05"/><circle cx="394" cy="238.4" r="2.05"/><circle cx="386.6" cy="241.6" r="2.05"/><circle cx="452.1" cy="318.2" r="2.05"/><circle cx="373.1" cy="428.7" r="2.05"/><circle cx="384.6" cy="419.9" r="2.05"/><circle cx="347.3" cy="401.4" r="2.05"/><circle cx="448" cy="260.6" r="2.05"/><circle cx="364.1" cy="349.5" r="2.05"/><circle cx="442.5" cy="388.9" r="2.05"/><circle cx="384.3" cy="261.4" r="2.05"/><circle cx="441.4" cy="266.5" r="2.05"/><circle cx="354.2" cy="331.8" r="2.05"/><circle cx="432.3" cy="257.1" r="2.05"/><circle cx="382.1" cy="289.1" r="2.05"/><circle cx="314.5" cy="446.7" r="2.05"/><circle cx="376.6" cy="364.1" r="2.05"/><circle cx="441.6" cy="335.9" r="2.05"/><circle cx="411.7" cy="436.5" r="2.05"/><circle cx="347.2" cy="522.4" r="2.05"/><circle cx="359.8" cy="354" r="2.05"/><circle cx="380.4" cy="399.1" r="2.05"/><circle cx="382.6" cy="236.2" r="2.05"/><circle cx="436.7" cy="390.2" r="2.05"/><circle cx="392.4" cy="427.7" r="2.05"/><circle cx="415.1" cy="418.9" r="2.05"/><circle cx="366.2" cy="332.5" r="2.05"/><circle cx="351" cy="321.3" r="2.05"/><circle cx="435.2" cy="263.3" r="2.05"/><circle cx="443.7" cy="345" r="2.05"/><circle cx="393.1" cy="350.3" r="2.05"/><circle cx="405.7" cy="433.1" r="2.05"/><circle cx="374.7" cy="331.3" r="2.05"/><circle cx="400.5" cy="209.3" r="2.05"/><circle cx="422.1" cy="283.6" r="2.05"/><circle cx="401.5" cy="317" r="2.05"/><circle cx="366.9" cy="275.6" r="2.05"/><circle cx="405.5" cy="295.5" r="2.05"/><circle cx="418" cy="250.5" r="2.05"/><circle cx="410.8" cy="248.7" r="2.05"/><circle cx="367.5" cy="329.9" r="2.05"/><circle cx="386.1" cy="238.8" r="2.05"/><circle cx="415.3" cy="413.5" r="2.05"/><circle cx="382.8" cy="392.7" r="2.05"/><circle cx="424" cy="273.9" r="2.05"/><circle cx="404.8" cy="363.6" r="2.05"/><circle cx="411.9" cy="260.8" r="2.05"/><circle cx="378" cy="295.9" r="2.05"/><circle cx="418.2" cy="241.8" r="2.05"/><circle cx="405.2" cy="349" r="2.05"/><circle cx="428.9" cy="400.4" r="2.05"/><circle cx="443.8" cy="375.2" r="2.05"/><circle cx="422.1" cy="365.2" r="2.05"/><circle cx="418.4" cy="412.9" r="2.05"/><circle cx="398" cy="217.5" r="2.05"/><circle cx="365.7" cy="412.2" r="2.05"/><circle cx="332.5" cy="374.8" r="2.05"/><circle cx="435" cy="255.1" r="2.05"/><circle cx="434.4" cy="274.6" r="2.05"/><circle cx="378.4" cy="401.6" r="2.05"/><circle cx="351.2" cy="342.4" r="2.05"/><circle cx="379.1" cy="262.4" r="2.05"/><circle cx="392.5" cy="261.1" r="2.05"/><circle cx="389.1" cy="362.8" r="2.05"/><circle cx="366" cy="339.8" r="2.05"/><circle cx="390.3" cy="425.7" r="2.05"/><circle cx="362.5" cy="352.3" r="2.05"/><circle cx="384.4" cy="344.7" r="2.05"/><circle cx="416.5" cy="280.4" r="2.05"/><circle cx="375" cy="360" r="2.05"/><circle cx="413.7" cy="314.7" r="2.05"/><circle cx="442.4" cy="242.8" r="2.05"/><circle cx="407" cy="407.2" r="2.05"/><circle cx="420.4" cy="298.8" r="2.05"/><circle cx="405.2" cy="298.3" r="2.05"/><circle cx="355" cy="327.7" r="2.05"/><circle cx="355.2" cy="410" r="2.05"/><circle cx="377" cy="337.2" r="2.05"/><circle cx="393.2" cy="423.4" r="2.05"/><circle cx="359.1" cy="391.2" r="2.05"/><circle cx="377.5" cy="350.8" r="2.05"/><circle cx="426.6" cy="210" r="2.05"/><circle cx="359.6" cy="357.4" r="2.05"/><circle cx="426.3" cy="416" r="2.05"/><circle cx="438" cy="267.6" r="2.05"/><circle cx="352" cy="368.4" r="2.05"/><circle cx="363" cy="502" r="2.05"/><circle cx="394.2" cy="368.1" r="2.05"/><circle cx="320" cy="428.8" r="2.05"/><circle cx="388.7" cy="360" r="2.05"/><circle cx="408.8" cy="325.9" r="2.05"/><circle cx="418.4" cy="362.2" r="2.05"/><circle cx="385.8" cy="450.4" r="2.05"/><circle cx="435.1" cy="304.7" r="2.05"/><circle cx="427.1" cy="294" r="2.05"/><circle cx="402.3" cy="298" r="2.05"/><circle cx="412" cy="230.4" r="2.05"/><circle cx="462.2" cy="304.2" r="2.05"/><circle cx="438" cy="306.7" r="2.05"/><circle cx="379.5" cy="272.1" r="2.05"/><circle cx="437.4" cy="301.5" r="2.05"/><circle cx="416.6" cy="208.6" r="2.05"/><circle cx="378.9" cy="361.2" r="2.05"/><circle cx="320.8" cy="435" r="2.05"/><circle cx="427" cy="235.8" r="2.05"/><circle cx="347.1" cy="349.8" r="2.05"/><circle cx="345" cy="453" r="2.05"/><circle cx="409.5" cy="434" r="2.05"/><circle cx="349.7" cy="406.1" r="2.05"/><circle cx="420.3" cy="324.7" r="2.05"/><circle cx="426.5" cy="357.2" r="2.05"/><circle cx="398.1" cy="428.4" r="2.05"/><circle cx="418.9" cy="316.1" r="2.05"/><circle cx="409.8" cy="405.5" r="2.05"/><circle cx="420.9" cy="291.4" r="2.05"/><circle cx="323.1" cy="399.8" r="2.05"/><circle cx="378.2" cy="313.9" r="2.05"/><circle cx="431.4" cy="436.3" r="2.05"/><circle cx="413.9" cy="453.3" r="2.05"/><circle cx="400.8" cy="401.8" r="2.05"/><circle cx="439.1" cy="279.7" r="2.05"/><circle cx="379.3" cy="366.4" r="2.05"/><circle cx="401.8" cy="230.1" r="2.05"/><circle cx="425" cy="325.9" r="2.05"/><circle cx="380.7" cy="259.4" r="2.05"/><circle cx="372" cy="386.1" r="2.05"/><circle cx="394.2" cy="377.3" r="2.05"/><circle cx="341.9" cy="435.8" r="2.05"/><circle cx="439.3" cy="388.3" r="2.05"/><circle cx="389.5" cy="438.8" r="2.05"/><circle cx="355" cy="529.2" r="2.05"/><circle cx="377.2" cy="259.4" r="2.05"/><circle cx="387.1" cy="447.3" r="2.05"/><circle cx="367.2" cy="365.4" r="2.05"/><circle cx="410.7" cy="235.4" r="2.05"/><circle cx="414.3" cy="220.8" r="2.05"/><circle cx="372" cy="352.1" r="2.05"/><circle cx="395.6" cy="388.9" r="2.05"/><circle cx="375.3" cy="275.1" r="2.05"/><circle cx="385.8" cy="378.8" r="2.05"/><circle cx="432.3" cy="247.7" r="2.05"/><circle cx="384.7" cy="424.2" r="2.05"/><circle cx="376.8" cy="398.1" r="2.05"/><circle cx="395.7" cy="363.3" r="2.05"/><circle cx="401.5" cy="226.2" r="2.05"/><circle cx="356.3" cy="355.2" r="2.05"/><circle cx="403.9" cy="408.5" r="2.05"/><circle cx="426.1" cy="400.2" r="2.05"/><circle cx="351.1" cy="365.6" r="2.05"/><circle cx="425.3" cy="411" r="2.05"/><circle cx="417.5" cy="348.8" r="2.05"/><circle cx="410.8" cy="380.1" r="2.05"/><circle cx="364.3" cy="285.3" r="2.05"/><circle cx="414.4" cy="427.9" r="2.05"/><circle cx="443.7" cy="326.8" r="2.05"/><circle cx="407.1" cy="466.3" r="2.05"/><circle cx="421.5" cy="457.1" r="2.05"/><circle cx="431.6" cy="239.1" r="2.05"/><circle cx="404.4" cy="335" r="2.05"/><circle cx="412.5" cy="317.9" r="2.05"/><circle cx="362.2" cy="432.7" r="2.05"/><circle cx="358.3" cy="542.9" r="2.05"/><circle cx="436.8" cy="252.9" r="2.05"/><circle cx="409.2" cy="282.5" r="2.05"/><circle cx="426.3" cy="262.8" r="2.05"/><circle cx="320.8" cy="416.6" r="2.05"/><circle cx="170.5" cy="426" r="2.05"/><circle cx="419" cy="381.8" r="2.05"/><circle cx="323.1" cy="441.2" r="2.05"/><circle cx="421.3" cy="361.1" r="2.05"/><circle cx="379.4" cy="232" r="2.05"/><circle cx="405.5" cy="253.3" r="2.05"/><circle cx="363.8" cy="383.4" r="2.05"/><circle cx="363.2" cy="346.1" r="2.05"/><circle cx="419.7" cy="271.9" r="2.05"/><circle cx="360.7" cy="384.5" r="2.05"/><circle cx="354.6" cy="543" r="2.05"/><circle cx="410.2" cy="219.3" r="2.05"/><circle cx="393.6" cy="345.7" r="2.05"/><circle cx="373.6" cy="485.6" r="2.05"/><circle cx="386.4" cy="398.9" r="2.05"/><circle cx="378.8" cy="411" r="2.05"/><circle cx="424.7" cy="246.3" r="2.05"/><circle cx="427.6" cy="230" r="2.05"/><circle cx="432.3" cy="289.9" r="2.05"/><circle cx="392.8" cy="329.5" r="2.05"/><circle cx="320" cy="453.8" r="2.05"/><circle cx="382.6" cy="413.9" r="2.05"/><circle cx="403.4" cy="236.9" r="2.05"/><circle cx="402.7" cy="454.4" r="2.05"/><circle cx="356.6" cy="341.4" r="2.05"/><circle cx="433.4" cy="433.9" r="2.05"/><circle cx="392.3" cy="244.5" r="2.05"/><circle cx="368.7" cy="283.1" r="2.05"/><circle cx="379.4" cy="340.1" r="2.05"/><circle cx="370.7" cy="336.3" r="2.05"/><circle cx="447.4" cy="269.6" r="2.05"/><circle cx="393.2" cy="353.5" r="2.05"/><circle cx="425.9" cy="445.6" r="2.05"/><circle cx="423.2" cy="293.9" r="2.05"/><circle cx="395" cy="256.1" r="2.05"/><circle cx="436" cy="248.2" r="2.05"/><circle cx="329.7" cy="390.5" r="2.05"/><circle cx="409.1" cy="245" r="2.05"/><circle cx="443" cy="379.3" r="2.05"/><circle cx="447.5" cy="384.6" r="2.05"/><circle cx="325.8" cy="407.3" r="2.05"/><circle cx="390.5" cy="381.9" r="2.05"/><circle cx="408.7" cy="256.6" r="2.05"/><circle cx="338.8" cy="388.1" r="2.05"/><circle cx="379.6" cy="292.6" r="2.05"/><circle cx="448.2" cy="322.1" r="2.05"/><circle cx="432.2" cy="233.5" r="2.05"/><circle cx="432.6" cy="317.8" r="2.05"/><circle cx="351.4" cy="540.3" r="2.05"/><circle cx="363.1" cy="342" r="2.05"/><circle cx="408.8" cy="413.3" r="2.05"/><circle cx="458.1" cy="298.4" r="2.05"/><circle cx="430.2" cy="272.2" r="2.05"/><circle cx="371.9" cy="310.4" r="2.05"/><circle cx="331.7" cy="415.9" r="2.05"/><circle cx="387.6" cy="423.5" r="2.05"/><circle cx="436.5" cy="258.2" r="2.05"/><circle cx="388.6" cy="387.3" r="2.05"/><circle cx="403.3" cy="472.4" r="2.05"/><circle cx="343.4" cy="413.9" r="2.05"/><circle cx="313.8" cy="453.8" r="2.05"/><circle cx="426.7" cy="287.8" r="2.05"/><circle cx="428.6" cy="360.2" r="2.05"/><circle cx="417.4" cy="458.7" r="2.05"/><circle cx="348.4" cy="520.3" r="2.05"/><circle cx="389.7" cy="395.8" r="2.05"/><circle cx="390.7" cy="316.9" r="2.05"/><circle cx="340.8" cy="514.2" r="2.05"/><circle cx="394.6" cy="358.2" r="2.05"/><circle cx="405" cy="248.3" r="2.05"/><circle cx="393.6" cy="317.8" r="2.05"/><circle cx="375.2" cy="296.8" r="2.05"/><circle cx="440.2" cy="333.4" r="2.05"/><circle cx="385.6" cy="406" r="2.05"/><circle cx="415.8" cy="340.5" r="2.05"/><circle cx="435.8" cy="270" r="2.05"/><circle cx="455.6" cy="313.3" r="2.05"/><circle cx="315.3" cy="441.2" r="2.05"/><circle cx="460.3" cy="346.7" r="2.05"/><circle cx="434.8" cy="399.6" r="2.05"/><circle cx="432.9" cy="219.7" r="2.05"/><circle cx="332.5" cy="481.7" r="2.05"/><circle cx="402.5" cy="295" r="2.05"/><circle cx="420.3" cy="265.4" r="2.05"/><circle cx="401.9" cy="468.7" r="2.05"/><circle cx="409" cy="312.9" r="2.05"/><circle cx="438.7" cy="395.2" r="2.05"/><circle cx="421.5" cy="256.1" r="2.05"/><circle cx="356.3" cy="364.6" r="2.05"/><circle cx="451.5" cy="326.8" r="2.05"/><circle cx="366.9" cy="345.5" r="2.05"/><circle cx="369.2" cy="312" r="2.05"/><circle cx="384.8" cy="275.4" r="2.05"/><circle cx="365.7" cy="392.8" r="2.05"/><circle cx="427.9" cy="422.2" r="2.05"/><circle cx="406" cy="452.4" r="2.05"/><circle cx="347.1" cy="535.7" r="2.05"/><circle cx="310.6" cy="468.6" r="2.05"/><circle cx="427.3" cy="418.9" r="2.05"/><circle cx="419.3" cy="278.8" r="2.05"/><circle cx="389.3" cy="435.5" r="2.05"/><circle cx="450.9" cy="294.5" r="2.05"/><circle cx="384.9" cy="269" r="2.05"/><circle cx="385.6" cy="318.5" r="2.05"/><circle cx="428.4" cy="429.5" r="2.05"/><circle cx="452" cy="260.4" r="2.05"/><circle cx="430.3" cy="431.7" r="2.05"/><circle cx="375.1" cy="266.2" r="2.05"/><circle cx="419.8" cy="287.8" r="2.05"/><circle cx="396.7" cy="322.9" r="2.05"/><circle cx="449.5" cy="257.2" r="2.05"/><circle cx="413.3" cy="223.7" r="2.05"/><circle cx="336.9" cy="380.3" r="2.05"/><circle cx="445.2" cy="254.6" r="2.05"/><circle cx="422.3" cy="276.9" r="2.05"/><circle cx="389.9" cy="419.3" r="2.05"/><circle cx="430.1" cy="396.6" r="2.05"/><circle cx="423.3" cy="355.3" r="2.05"/><circle cx="400.4" cy="275.9" r="2.05"/><circle cx="357.5" cy="458.1" r="2.05"/><circle cx="419.9" cy="416.1" r="2.05"/><circle cx="406.9" cy="279.6" r="2.05"/><circle cx="421.9" cy="337.4" r="2.05"/><circle cx="382.2" cy="377" r="2.05"/><circle cx="336.4" cy="402.2" r="2.05"/><circle cx="443.7" cy="392" r="2.05"/><circle cx="395.8" cy="354.9" r="2.05"/><circle cx="425.9" cy="329.9" r="2.05"/><circle cx="427.4" cy="408" r="2.05"/><circle cx="425.5" cy="367.9" r="2.05"/><circle cx="359.4" cy="330.2" r="2.05"/><circle cx="446.7" cy="248.3" r="2.05"/><circle cx="382.3" cy="422" r="2.05"/><circle cx="408.5" cy="436.6" r="2.05"/><circle cx="355.1" cy="337.5" r="2.05"/><circle cx="392.8" cy="231.4" r="2.05"/><circle cx="439.4" cy="327.6" r="2.05"/><circle cx="434.3" cy="371.3" r="2.05"/><circle cx="308.3" cy="456.1" r="2.05"/><circle cx="350.6" cy="509.1" r="2.05"/><circle cx="394.4" cy="392.5" r="2.05"/><circle cx="408.2" cy="226.6" r="2.05"/><circle cx="439.7" cy="260" r="2.05"/><circle cx="429.6" cy="304.2" r="2.05"/><circle cx="350.5" cy="376.4" r="2.05"/><circle cx="448.4" cy="251.3" r="2.05"/><circle cx="306.7" cy="464.7" r="2.05"/><circle cx="453.2" cy="273.2" r="2.05"/><circle cx="402.1" cy="361.9" r="2.05"/><circle cx="403.3" cy="393.1" r="2.05"/><circle cx="430.6" cy="403.4" r="2.05"/><circle cx="401.5" cy="262.5" r="2.05"/><circle cx="389.4" cy="285.4" r="2.05"/><circle cx="408.2" cy="237.3" r="2.05"/><circle cx="386" cy="280.1" r="2.05"/><circle cx="384.8" cy="230.6" r="2.05"/><circle cx="433.8" cy="314" r="2.05"/><circle cx="395.3" cy="341.9" r="2.05"/><circle cx="364.7" cy="388.1" r="2.05"/><circle cx="358.8" cy="516.9" r="2.05"/><circle cx="427.7" cy="323.2" r="2.05"/><circle cx="422.4" cy="306.3" r="2.05"/><circle cx="353.2" cy="353.3" r="2.05"/><circle cx="407.4" cy="401" r="2.05"/><circle cx="406.5" cy="439.7" r="2.05"/><circle cx="371" cy="439.4" r="2.05"/><circle cx="424.8" cy="314.1" r="2.05"/><circle cx="452" cy="266.3" r="2.05"/><circle cx="398" cy="349.2" r="2.05"/><circle cx="402.2" cy="350.2" r="2.05"/><circle cx="418.4" cy="385.6" r="2.05"/><circle cx="382.9" cy="370.2" r="2.05"/><circle cx="414.2" cy="320.4" r="2.05"/><circle cx="417.2" cy="257.2" r="2.05"/><circle cx="362.2" cy="399.8" r="2.05"/><circle cx="459.2" cy="349.9" r="2.05"/><circle cx="384.9" cy="307.7" r="2.05"/><circle cx="417.7" cy="222.5" r="2.05"/><circle cx="370.8" cy="409.6" r="2.05"/><circle cx="399.5" cy="314" r="2.05"/><circle cx="368.8" cy="287.1" r="2.05"/><circle cx="378.1" cy="243.1" r="2.05"/><circle cx="410.1" cy="294.5" r="2.05"/><circle cx="353.6" cy="538.3" r="2.05"/><circle cx="388.3" cy="288.1" r="2.05"/><circle cx="383.1" cy="250.3" r="2.05"/><circle cx="406.8" cy="309.3" r="2.05"/><circle cx="433.8" cy="329.3" r="2.05"/><circle cx="345" cy="410.8" r="2.05"/><circle cx="401.6" cy="323.9" r="2.05"/><circle cx="377.5" cy="343.5" r="2.05"/><circle cx="413.1" cy="372" r="2.05"/><circle cx="387" cy="262.5" r="2.05"/><circle cx="428.6" cy="371.2" r="2.05"/><circle cx="353.7" cy="363.7" r="2.05"/><circle cx="395.3" cy="265" r="2.05"/><circle cx="387" cy="375.3" r="2.05"/><circle cx="443.8" cy="264" r="2.05"/><circle cx="449.2" cy="330" r="2.05"/><circle cx="375.9" cy="346.3" r="2.05"/><circle cx="409.9" cy="452.5" r="2.05"/><circle cx="433.2" cy="406.4" r="2.05"/><circle cx="373.4" cy="338.4" r="2.05"/><circle cx="438.8" cy="262.8" r="2.05"/><circle cx="430.9" cy="368.9" r="2.05"/><circle cx="353.8" cy="532" r="2.05"/><circle cx="460.8" cy="338" r="2.05"/><circle cx="447.2" cy="299" r="2.05"/><circle cx="424.9" cy="291.1" r="2.05"/><circle cx="419.6" cy="437.2" r="2.05"/><circle cx="404.6" cy="424" r="2.05"/><circle cx="369.1" cy="333.5" r="2.05"/><circle cx="400.5" cy="394.3" r="2.05"/><circle cx="389.9" cy="462.3" r="2.05"/><circle cx="432.4" cy="269.5" r="2.05"/><circle cx="383.2" cy="272.5" r="2.05"/><circle cx="422.3" cy="381.7" r="2.05"/><circle cx="410.7" cy="420" r="2.05"/><circle cx="403.3" cy="440.1" r="2.05"/><circle cx="371.7" cy="306.5" r="2.05"/><circle cx="429.2" cy="315.5" r="2.05"/><circle cx="316.1" cy="437.3" r="2.05"/><circle cx="387.4" cy="291.9" r="2.05"/><circle cx="422.6" cy="248.5" r="2.05"/><circle cx="313" cy="456.1" r="2.05"/><circle cx="423" cy="232.8" r="2.05"/><circle cx="390.2" cy="370" r="2.05"/><circle cx="367.7" cy="453" r="2.05"/><circle cx="389" cy="259.3" r="2.05"/><circle cx="433" cy="216.8" r="2.05"/><circle cx="410.8" cy="423.6" r="2.05"/><circle cx="384.6" cy="311.6" r="2.05"/><circle cx="444.8" cy="334.8" r="2.05"/><circle cx="426.6" cy="259.1" r="2.05"/><circle cx="444.4" cy="269.9" r="2.05"/><circle cx="426.5" cy="436.9" r="2.05"/><circle cx="430.9" cy="307.9" r="2.05"/><circle cx="418.3" cy="338.1" r="2.05"/><circle cx="350.5" cy="395.9" r="2.05"/><circle cx="448.4" cy="288" r="2.05"/><circle cx="357.4" cy="312.1" r="2.05"/><circle cx="450.3" cy="333.2" r="2.05"/><circle cx="433.7" cy="309.7" r="2.05"/><circle cx="386.1" cy="413.9" r="2.05"/><circle cx="331.7" cy="400.9" r="2.05"/><circle cx="382.9" cy="283.3" r="2.05"/><circle cx="361.4" cy="413.9" r="2.05"/><circle cx="390.3" cy="215.8" r="2.05"/><circle cx="357.3" cy="350.8" r="2.05"/><circle cx="429.8" cy="231.9" r="2.05"/><circle cx="410.8" cy="335.9" r="2.05"/><circle cx="425.5" cy="382.8" r="2.05"/><circle cx="378.6" cy="282.7" r="2.05"/><circle cx="454.1" cy="310.1" r="2.05"/><circle cx="421.4" cy="409.9" r="2.05"/><circle cx="388.6" cy="266.1" r="2.05"/><circle cx="359.1" cy="325.8" r="2.05"/><circle cx="436.7" cy="356.6" r="2.05"/><circle cx="358.6" cy="316.2" r="2.05"/><circle cx="419.9" cy="374.6" r="2.05"/><circle cx="408.3" cy="197.2" r="2.05"/><circle cx="363.1" cy="309.4" r="2.05"/><circle cx="379.9" cy="373.1" r="2.05"/><circle cx="346.6" cy="380.3" r="2.05"/><circle cx="380.3" cy="431.6" r="2.05"/><circle cx="368.5" cy="305.2" r="2.05"/><circle cx="341.9" cy="369.4" r="2.05"/><circle cx="433.3" cy="212.9" r="2.05"/><circle cx="381.2" cy="323.1" r="2.05"/><circle cx="371.6" cy="359.8" r="2.05"/><circle cx="408.4" cy="302.3" r="2.05"/><circle cx="360.7" cy="387.5" r="2.05"/><circle cx="406" cy="270.2" r="2.05"/><circle cx="362.3" cy="362.3" r="2.05"/><circle cx="358" cy="345.1" r="2.05"/><circle cx="368.1" cy="353.6" r="2.05"/><circle cx="393.5" cy="383.9" r="2.05"/><circle cx="412.3" cy="283.5" r="2.05"/><circle cx="392.7" cy="281.3" r="2.05"/><circle cx="396.8" cy="271.2" r="2.05"/><circle cx="376.1" cy="438.7" r="2.05"/><circle cx="429.5" cy="319.2" r="2.05"/><circle cx="348" cy="538.1" r="2.05"/><circle cx="426.3" cy="375" r="2.05"/><circle cx="377.2" cy="333.2" r="2.05"/><circle cx="415.5" cy="403" r="2.05"/><circle cx="365" cy="312.2" r="2.05"/><circle cx="399.4" cy="446.2" r="2.05"/><circle cx="410.7" cy="365.4" r="2.05"/><circle cx="413.3" cy="243.2" r="2.05"/><circle cx="420.5" cy="378.1" r="2.05"/><circle cx="382.8" cy="295.7" r="2.05"/><circle cx="377.5" cy="504.7" r="2.05"/><circle cx="429.3" cy="384.9" r="2.05"/><circle cx="406.1" cy="332.6" r="2.05"/><circle cx="385.5" cy="265.1" r="2.05"/><circle cx="408.8" cy="463.6" r="2.05"/><circle cx="450.4" cy="268.7" r="2.05"/><circle cx="404.7" cy="395.6" r="2.05"/><circle cx="388.4" cy="338.6" r="2.05"/><circle cx="419.4" cy="259" r="2.05"/><circle cx="382.3" cy="364.6" r="2.05"/><circle cx="373" cy="402.1" r="2.05"/><circle cx="349.6" cy="336.7" r="2.05"/><circle cx="408.8" cy="208.9" r="2.05"/><circle cx="408.3" cy="299" r="2.05"/><circle cx="384.7" cy="395.2" r="2.05"/><circle cx="393.5" cy="402.8" r="2.05"/><circle cx="435.9" cy="345.6" r="2.05"/><circle cx="426.1" cy="302.7" r="2.05"/><circle cx="425" cy="321.9" r="2.05"/><circle cx="318.4" cy="447.5" r="2.05"/><circle cx="364" cy="384.9" r="2.05"/><circle cx="384.6" cy="357" r="2.05"/><circle cx="411.9" cy="354.3" r="2.05"/><circle cx="326.2" cy="456.6" r="2.05"/><circle cx="416.6" cy="322.1" r="2.05"/><circle cx="454" cy="322" r="2.05"/><circle cx="385.8" cy="360.5" r="2.05"/><circle cx="444.2" cy="246" r="2.05"/><circle cx="392.4" cy="390.1" r="2.05"/><circle cx="372.9" cy="415.3" r="2.05"/><circle cx="434.4" cy="324.6" r="2.05"/><circle cx="343" cy="360" r="2.05"/><circle cx="338.4" cy="364.7" r="2.05"/><circle cx="436.9" cy="292.2" r="2.05"/><circle cx="407.2" cy="328.4" r="2.05"/><circle cx="350.9" cy="523.5" r="2.05"/><circle cx="416" cy="343.3" r="2.05"/><circle cx="442.1" cy="330.4" r="2.05"/><circle cx="420.1" cy="246" r="2.05"/><circle cx="421.1" cy="419" r="2.05"/><circle cx="318.4" cy="456.9" r="2.05"/><circle cx="373.3" cy="406.1" r="2.05"/><circle cx="398.3" cy="317.2" r="2.05"/><circle cx="413.7" cy="383.5" r="2.05"/><circle cx="352.8" cy="402.2" r="2.05"/><circle cx="413.5" cy="405.1" r="2.05"/><circle cx="367.3" cy="317.4" r="2.05"/><circle cx="452" cy="285.2" r="2.05"/><circle cx="403.3" cy="250.9" r="2.05"/><circle cx="424.1" cy="418.3" r="2.05"/><circle cx="390.3" cy="392.1" r="2.05"/><circle cx="453.8" cy="333.6" r="2.05"/><circle cx="404.1" cy="414.8" r="2.05"/><circle cx="349.1" cy="533.9" r="2.05"/><circle cx="431.9" cy="427.7" r="2.05"/><circle cx="423" cy="323.9" r="2.05"/><circle cx="431.3" cy="362.3" r="2.05"/><circle cx="350.9" cy="530.9" r="2.05"/><circle cx="360.5" cy="347.1" r="2.05"/><circle cx="416.1" cy="292.1" r="2.05"/><circle cx="438.9" cy="330.8" r="2.05"/><circle cx="405.5" cy="324.6" r="2.05"/><circle cx="332.5" cy="458.1" r="2.05"/><circle cx="414.7" cy="288.5" r="2.05"/><circle cx="409.7" cy="469.1" r="2.05"/><circle cx="394.2" cy="226.5" r="2.05"/><circle cx="359.1" cy="454.5" r="2.05"/><circle cx="419" cy="239.1" r="2.05"/><circle cx="351.8" cy="317.8" r="2.05"/><circle cx="356.7" cy="396.7" r="2.05"/><circle cx="415.4" cy="283.4" r="2.05"/><circle cx="446.2" cy="330.9" r="2.05"/><circle cx="369.2" cy="309" r="2.05"/><circle cx="398.7" cy="278.7" r="2.05"/><circle cx="409.9" cy="277.8" r="2.05"/><circle cx="403.8" cy="278.6" r="2.05"/><circle cx="368.2" cy="273.1" r="2.05"/><circle cx="416.8" cy="325.7" r="2.05"/><circle cx="382.9" cy="427.1" r="2.05"/><circle cx="430.8" cy="210.5" r="2.05"/><circle cx="392.9" cy="217.9" r="2.05"/><circle cx="385.5" cy="244.2" r="2.05"/><circle cx="385.9" cy="296.7" r="2.05"/><circle cx="378.7" cy="421.6" r="2.05"/><circle cx="312.2" cy="445.2" r="2.05"/><circle cx="429.3" cy="300.9" r="2.05"/><circle cx="407.8" cy="424.5" r="2.05"/><circle cx="423.1" cy="449.3" r="2.05"/><circle cx="346.6" cy="373.3" r="2.05"/><circle cx="418.8" cy="390.3" r="2.05"/><circle cx="395.8" cy="385.7" r="2.05"/><circle cx="404.1" cy="275.5" r="2.05"/><circle cx="402.8" cy="191.3" r="2.05"/><circle cx="371.9" cy="332.1" r="2.05"/><circle cx="454.4" cy="294.4" r="2.05"/><circle cx="447.4" cy="335.8" r="2.05"/><circle cx="396.5" cy="307.1" r="2.05"/><circle cx="430" cy="282.7" r="2.05"/><circle cx="421.2" cy="413.2" r="2.05"/><circle cx="391.8" cy="258.1" r="2.05"/><circle cx="407.9" cy="247.7" r="2.05"/><circle cx="371" cy="329.1" r="2.05"/><circle cx="434.4" cy="267" r="2.05"/><circle cx="371.8" cy="320.3" r="2.05"/><circle cx="369.2" cy="339" r="2.05"/><circle cx="385.5" cy="288.3" r="2.05"/><circle cx="421.6" cy="228.9" r="2.05"/><circle cx="455.5" cy="341.6" r="2.05"/><circle cx="438.2" cy="309.5" r="2.05"/><circle cx="424.8" cy="344" r="2.05"/><circle cx="380.6" cy="406.2" r="2.05"/><circle cx="457.1" cy="348.1" r="2.05"/><circle cx="425.6" cy="442.3" r="2.05"/><circle cx="431.2" cy="225.8" r="2.05"/><circle cx="352.2" cy="349.5" r="2.05"/><circle cx="432.3" cy="322.3" r="2.05"/><circle cx="388" cy="306.3" r="2.05"/><circle cx="448.9" cy="284.4" r="2.05"/><circle cx="346.7" cy="531.4" r="2.05"/><circle cx="416.9" cy="296.8" r="2.05"/><circle cx="426.3" cy="378.2" r="2.05"/><circle cx="437.3" cy="368.4" r="2.05"/><circle cx="315.3" cy="432.7" r="2.05"/><circle cx="402.7" cy="451.6" r="2.05"/><circle cx="409.2" cy="285.9" r="2.05"/><circle cx="431.3" cy="275.2" r="2.05"/><circle cx="416.7" cy="395.9" r="2.05"/><circle cx="430.1" cy="365" r="2.05"/><circle cx="401.1" cy="248.2" r="2.05"/><circle cx="377.9" cy="265.3" r="2.05"/><circle cx="397.7" cy="378.5" r="2.05"/><circle cx="437.9" cy="342.7" r="2.05"/><circle cx="345.6" cy="353" r="2.05"/><circle cx="399.5" cy="433.9" r="2.05"/><circle cx="439.8" cy="406.7" r="2.05"/><circle cx="316.9" cy="458.4" r="2.05"/><circle cx="396.4" cy="346.5" r="2.05"/><circle cx="439.1" cy="224.2" r="2.05"/><circle cx="338" cy="413.1" r="2.05"/><circle cx="366.4" cy="416.4" r="2.05"/><circle cx="366.5" cy="321.4" r="2.05"/><circle cx="421.9" cy="368.1" r="2.05"/><circle cx="314.5" cy="451.4" r="2.05"/><circle cx="386.6" cy="368.4" r="2.05"/><circle cx="376.6" cy="322.8" r="2.05"/><circle cx="424.6" cy="229.5" r="2.05"/><circle cx="357.4" cy="547.8" r="2.05"/><circle cx="435.5" cy="321.7" r="2.05"/><circle cx="372.7" cy="276.2" r="2.05"/><circle cx="375.2" cy="374.2" r="2.05"/><circle cx="442.2" cy="398.7" r="2.05"/><circle cx="403.8" cy="352.8" r="2.05"/><circle cx="309.8" cy="460" r="2.05"/><circle cx="400" cy="364" r="2.05"/><circle cx="428.1" cy="245.9" r="2.05"/><circle cx="401.5" cy="378.1" r="2.05"/><circle cx="423.7" cy="438.2" r="2.05"/><circle cx="372" cy="502" r="2.05"/><circle cx="433" cy="355.6" r="2.05"/><circle cx="380.8" cy="425.1" r="2.05"/><circle cx="436.2" cy="214.5" r="2.05"/><circle cx="357.5" cy="347.9" r="2.05"/><circle cx="438.2" cy="227.5" r="2.05"/><circle cx="398" cy="248.5" r="2.05"/><circle cx="381.4" cy="494.5" r="2.05"/><circle cx="360.6" cy="428.8" r="2.05"/><circle cx="390.2" cy="312.4" r="2.05"/><circle cx="383.9" cy="258.5" r="2.05"/><circle cx="367.1" cy="327.1" r="2.05"/><circle cx="203.4" cy="478.7" r="2.05"/><circle cx="389.3" cy="276.9" r="2.05"/><circle cx="353.4" cy="376.5" r="2.05"/><circle cx="312.2" cy="464.7" r="2.05"/><circle cx="419.1" cy="294.2" r="2.05"/><circle cx="357.5" cy="417.8" r="2.05"/><circle cx="357" cy="552.7" r="2.05"/><circle cx="355.6" cy="540.6" r="2.05"/><circle cx="306.7" cy="452.2" r="2.05"/><circle cx="432.8" cy="302.2" r="2.05"/><circle cx="396.4" cy="337.7" r="2.05"/><circle cx="407.3" cy="335.6" r="2.05"/><circle cx="370.2" cy="427.5" r="2.05"/><circle cx="448.6" cy="340.4" r="2.05"/><circle cx="330.9" cy="394.1" r="2.05"/><circle cx="430.2" cy="327.2" r="2.05"/><circle cx="400.4" cy="252.2" r="2.05"/><circle cx="415.4" cy="336.9" r="2.05"/><circle cx="352.1" cy="528.2" r="2.05"/><circle cx="419" cy="405.3" r="2.05"/><circle cx="407.8" cy="365" r="2.05"/><circle cx="353.6" cy="379.5" r="2.05"/><circle cx="422" cy="434.9" r="2.05"/><circle cx="409.7" cy="251.6" r="2.05"/><circle cx="436.9" cy="425.8" r="2.05"/><circle cx="399.9" cy="465.9" r="2.05"/><circle cx="406.4" cy="360.5" r="2.05"/><circle cx="421.1" cy="454" r="2.05"/><circle cx="387.1" cy="272.7" r="2.05"/><circle cx="429.9" cy="219.2" r="2.05"/><circle cx="450.9" cy="280.4" r="2.05"/><circle cx="425.4" cy="310.5" r="2.05"/><circle cx="414" cy="416.2" r="2.05"/><circle cx="358.2" cy="336.6" r="2.05"/><circle cx="391.4" cy="336.8" r="2.05"/><circle cx="352.3" cy="519.6" r="2.05"/><circle cx="385.4" cy="409.7" r="2.05"/><circle cx="446.2" cy="265.6" r="2.05"/><circle cx="369.8" cy="405.2" r="2.05"/><circle cx="436.2" cy="353.2" r="2.05"/><circle cx="387.8" cy="309.7" r="2.05"/><circle cx="374.2" cy="281.3" r="2.05"/><circle cx="409.7" cy="316.2" r="2.05"/><circle cx="416.3" cy="277.5" r="2.05"/><circle cx="450" cy="272.9" r="2.05"/><circle cx="353.3" cy="489.8" r="2.05"/><circle cx="436.3" cy="361.1" r="2.05"/><circle cx="384" cy="247.2" r="2.05"/><circle cx="457.9" cy="338.9" r="2.05"/><circle cx="403.6" cy="338.8" r="2.05"/><circle cx="356.4" cy="535.3" r="2.05"/><circle cx="308.8" cy="447.5" r="2.05"/><circle cx="385.6" cy="364" r="2.05"/><circle cx="415.2" cy="272.3" r="2.05"/><circle cx="416.3" cy="244.1" r="2.05"/><circle cx="393.7" cy="380.9" r="2.05"/><circle cx="434.8" cy="428.8" r="2.05"/><circle cx="405.8" cy="421.2" r="2.05"/><circle cx="348.8" cy="354.3" r="2.05"/><circle cx="398.7" cy="335.5" r="2.05"/><circle cx="379.4" cy="268.8" r="2.05"/><circle cx="456.7" cy="344.3" r="2.05"/><circle cx="415.5" cy="449.8" r="2.05"/><circle cx="344.3" cy="362.6" r="2.05"/><circle cx="442.6" cy="356.9" r="2.05"/><circle cx="366.4" cy="290.3" r="2.05"/><circle cx="397.3" cy="302" r="2.05"/><circle cx="405.8" cy="469.9" r="2.05"/><circle cx="416.8" cy="269.7" r="2.05"/><circle cx="412.9" cy="325.3" r="2.05"/><circle cx="350.4" cy="526" r="2.05"/><circle cx="323.9" cy="436.6" r="2.05"/><circle cx="373.5" cy="284.1" r="2.05"/><circle cx="367.8" cy="421.4" r="2.05"/><circle cx="394" cy="297.1" r="2.05"/><circle cx="397.9" cy="232.7" r="2.05"/><circle cx="377.1" cy="370.4" r="2.05"/><circle cx="410.3" cy="203" r="2.05"/><circle cx="310.6" cy="462.3" r="2.05"/><circle cx="394.5" cy="431.6" r="2.05"/><circle cx="397.5" cy="477.5" r="2.05"/><circle cx="382.4" cy="233.1" r="2.05"/><circle cx="392" cy="213.5" r="2.05"/><circle cx="419.3" cy="460.9" r="2.05"/><circle cx="408.1" cy="242" r="2.05"/><circle cx="389.6" cy="325.2" r="2.05"/><circle cx="374.1" cy="354.5" r="2.05"/><circle cx="391.1" cy="251.4" r="2.05"/><circle cx="420.8" cy="243.1" r="2.05"/><circle cx="380.3" cy="390.3" r="2.05"/><circle cx="389.5" cy="411.8" r="2.05"/><circle cx="330.2" cy="383.4" r="2.05"/><circle cx="379.3" cy="288.2" r="2.05"/><circle cx="339.5" cy="355.6" r="2.05"/><circle cx="353.3" cy="499.4" r="2.05"/><circle cx="440.1" cy="237.7" r="2.05"/><circle cx="400.9" cy="245.2" r="2.05"/><circle cx="358.7" cy="550.3" r="2.05"/><circle cx="387.5" cy="313.5" r="2.05"/><circle cx="389.9" cy="377.3" r="2.05"/><circle cx="441.3" cy="250.9" r="2.05"/><circle cx="445.1" cy="305.4" r="2.05"/><circle cx="383" cy="434.9" r="2.05"/><circle cx="381.3" cy="280.3" r="2.05"/><circle cx="406.2" cy="445.1" r="2.05"/><circle cx="439.6" cy="321.2" r="2.05"/><circle cx="379.1" cy="440.8" r="2.05"/><circle cx="372.4" cy="394.9" r="2.05"/><circle cx="430" cy="228.6" r="2.05"/><circle cx="432.9" cy="259.9" r="2.05"/><circle cx="418.7" cy="262" r="2.05"/><circle cx="375" cy="408.6" r="2.05"/><circle cx="411.2" cy="408" r="2.05"/><circle cx="79.7" cy="526" r="2.05"/><circle cx="441.8" cy="395.2" r="2.05"/><circle cx="407.5" cy="273.3" r="2.05"/><circle cx="402.4" cy="421.2" r="2.05"/><circle cx="346.6" cy="414.7" r="2.05"/><circle cx="373.9" cy="459.2" r="2.05"/><circle cx="414" cy="239" r="2.05"/><circle cx="432.2" cy="422.9" r="2.05"/><circle cx="421.6" cy="384.5" r="2.05"/><circle cx="454.4" cy="370.7" r="2.05"/><circle cx="413.9" cy="275.6" r="2.05"/><circle cx="399.4" cy="453.8" r="2.05"/><circle cx="458.8" cy="291.4" r="2.05"/><circle cx="428.8" cy="380.4" r="2.05"/><circle cx="379.3" cy="246.6" r="2.05"/><circle cx="399" cy="477.6" r="2.05"/></g>
<g stroke-width="1"><circle cx="853.5" cy="428.9" r="2.2" fill="#f6b293" stroke="#e7a78a"/><circle cx="704.1" cy="447.3" r="2.2" fill="#f9c1a6" stroke="#eab69c"/><circle cx="916.4" cy="295" r="2.2" fill="#b7cde6" stroke="#acc1d9"/><circle cx="715.7" cy="552.9" r="2.2" fill="#fcd8c3" stroke="#edcbb7"/><circle cx="680.2" cy="512" r="2.2" fill="#f7b799" stroke="#e8ac8f"/><circle cx="725.5" cy="535.3" r="2.2" fill="#e8896c" stroke="#da8066"/><circle cx="684.2" cy="614.7" r="2.2" fill="#c43c3c" stroke="#b83938"/><circle cx="913.3" cy="404.9" r="2.2" fill="#fac8af" stroke="#ebbca5"/><circle cx="931.6" cy="258.9" r="2.2" fill="#d86551" stroke="#cb5f4c"/><circle cx="637.2" cy="496.3" r="2.2" fill="#c03438" stroke="#b53135"/><circle cx="922.3" cy="407.1" r="2.2" fill="#f7b495" stroke="#e8a98c"/><circle cx="963.3" cy="440.4" r="2.2" fill="#f9c5ab" stroke="#eab9a0"/><circle cx="661.3" cy="585.9" r="2.2" fill="#e98c6e" stroke="#db8368"/><circle cx="932.4" cy="364.9" r="2.2" fill="#e48066" stroke="#d67860"/><circle cx="956.8" cy="301.2" r="2.2" fill="#f3a27f" stroke="#e49878"/><circle cx="980" cy="376.7" r="2.2" fill="#a4c2e2" stroke="#9ab6d4"/><circle cx="912" cy="299.1" r="2.2" fill="#f6b292" stroke="#e7a78a"/><circle cx="722.7" cy="452.7" r="2.2" fill="#f8bb9d" stroke="#e9af94"/><circle cx="744.3" cy="500.8" r="2.2" fill="#bacfe7" stroke="#afc3d9"/><circle cx="880.2" cy="361.7" r="2.2" fill="#9ebee0" stroke="#95b3d3"/><circle cx="679.3" cy="515.5" r="2.2" fill="#fac7ad" stroke="#ebbba2"/><circle cx="943.3" cy="311.5" r="2.2" fill="#bf3237" stroke="#b32f34"/><circle cx="693.7" cy="530.1" r="2.2" fill="#f5ad8d" stroke="#e7a384"/><circle cx="975.1" cy="356.4" r="2.2" fill="#dee5ef" stroke="#d0d7e1"/><circle cx="995.2" cy="351.6" r="2.2" fill="#9ebee0" stroke="#95b3d3"/><circle cx="890.6" cy="523.7" r="2.2" fill="#f5a987" stroke="#e69f7f"/><circle cx="851.3" cy="567.8" r="2.2" fill="#f8e1d5" stroke="#e9d4c8"/><circle cx="942.1" cy="256.2" r="2.2" fill="#fdd9c4" stroke="#edccb8"/><circle cx="666" cy="614.2" r="2.2" fill="#fddac6" stroke="#eecdba"/><circle cx="955.1" cy="456.3" r="2.2" fill="#8bb1d9" stroke="#83a7cc"/><circle cx="952.7" cy="247" r="2.2" fill="#f9c2a7" stroke="#eab79d"/><circle cx="973.4" cy="341.2" r="2.2" fill="#f6af8f" stroke="#e7a587"/><circle cx="674.9" cy="606.8" r="2.2" fill="#dc6e58" stroke="#cf6753"/><circle cx="651.3" cy="444.1" r="2.2" fill="#f8bb9e" stroke="#e9b095"/><circle cx="626.4" cy="529.8" r="2.2" fill="#fddbc7" stroke="#eecebb"/><circle cx="733.9" cy="479.2" r="2.2" fill="#f09b7a" stroke="#e19273"/><circle cx="920.7" cy="261.3" r="2.2" fill="#d6614d" stroke="#c95b49"/><circle cx="723.6" cy="469.1" r="2.2" fill="#f9c1a6" stroke="#eab59c"/><circle cx="730.5" cy="477.3" r="2.2" fill="#facab2" stroke="#ebbea7"/><circle cx="626.3" cy="581" r="2.2" fill="#f9c3a9" stroke="#eab89f"/><circle cx="691.1" cy="503.9" r="2.2" fill="#fbcdb5" stroke="#ecc0aa"/><circle cx="707.4" cy="473.7" r="2.2" fill="#db6c56" stroke="#ce6551"/><circle cx="975.1" cy="332.7" r="2.2" fill="#a6c3e2" stroke="#9cb7d5"/><circle cx="664.4" cy="569.2" r="2.2" fill="#f7b496" stroke="#e8aa8d"/><circle cx="868.5" cy="380.9" r="2.2" fill="#ebecf1" stroke="#dddee2"/><circle cx="661.8" cy="564.7" r="2.2" fill="#f5ab8a" stroke="#e6a182"/><circle cx="718.2" cy="507.4" r="2.2" fill="#f5aa88" stroke="#e6a080"/><circle cx="675.6" cy="450.1" r="2.2" fill="#eb9172" stroke="#dd886c"/><circle cx="945.8" cy="266.4" r="2.2" fill="#f2e9e5" stroke="#e4dbd8"/><circle cx="958" cy="232" r="2.2" fill="#f4a683" stroke="#e59c7b"/><circle cx="906.2" cy="345.6" r="2.2" fill="#e6eaf0" stroke="#d8dce2"/><circle cx="900.1" cy="311.6" r="2.2" fill="#a6c3e2" stroke="#9cb8d5"/><circle cx="702.7" cy="569.3" r="2.2" fill="#f3a280" stroke="#e49878"/><circle cx="895.3" cy="378.3" r="2.2" fill="#ea8d70" stroke="#dc8569"/><circle cx="956.8" cy="311.5" r="2.2" fill="#dee5ef" stroke="#d0d7e0"/><circle cx="669.1" cy="528.4" r="2.2" fill="#f7b597" stroke="#e8aa8e"/><circle cx="960.6" cy="422.4" r="2.2" fill="#b5cce6" stroke="#aac0d8"/><circle cx="969.9" cy="311.9" r="2.2" fill="#bdd1e8" stroke="#b1c5da"/><circle cx="634.6" cy="561.4" r="2.2" fill="#f5aa89" stroke="#e6a081"/><circle cx="659.9" cy="521.1" r="2.2" fill="#e58368" stroke="#d87c62"/><circle cx="950.4" cy="358.2" r="2.2" fill="#fbdecd" stroke="#ecd0c1"/><circle cx="919" cy="378.4" r="2.2" fill="#9bbcdf" stroke="#92b1d1"/><circle cx="968.6" cy="272.1" r="2.2" fill="#f6af8f" stroke="#e7a486"/><circle cx="987" cy="282.9" r="2.2" fill="#f0ebeb" stroke="#e2dddd"/><circle cx="704.5" cy="472.4" r="2.2" fill="#d45d4b" stroke="#c85747"/><circle cx="920.7" cy="250.1" r="2.2" fill="#f4a684" stroke="#e69c7c"/><circle cx="671.7" cy="541" r="2.2" fill="#b51d2d" stroke="#aa1b2b"/><circle cx="894.3" cy="352.6" r="2.2" fill="#dce4ef" stroke="#ced6e0"/><circle cx="898.5" cy="315.4" r="2.2" fill="#e9ebf0" stroke="#dbdde2"/><circle cx="701.1" cy="585.9" r="2.2" fill="#f6b495" stroke="#e8a98c"/><circle cx="941.8" cy="350.8" r="2.2" fill="#fbcfb7" stroke="#ecc2ac"/><circle cx="741.6" cy="474.5" r="2.2" fill="#faccb3" stroke="#ebc0a9"/><circle cx="946.6" cy="311.4" r="2.2" fill="#fbd0b9" stroke="#ecc3ae"/><circle cx="897.7" cy="388.9" r="2.2" fill="#fbceb7" stroke="#ecc2ac"/><circle cx="845.8" cy="456.7" r="2.2" fill="#fac8af" stroke="#ebbca5"/><circle cx="965.5" cy="288.8" r="2.2" fill="#fbdecd" stroke="#ecd0c1"/><circle cx="968.9" cy="320" r="2.2" fill="#f2e9e6" stroke="#e3dbd9"/><circle cx="921.3" cy="358.7" r="2.2" fill="#fbd1ba" stroke="#ecc5af"/><circle cx="938" cy="237.9" r="2.2" fill="#a1c0e1" stroke="#98b5d3"/><circle cx="913.2" cy="447.1" r="2.2" fill="#f1eae8" stroke="#e3dcda"/><circle cx="912.1" cy="375.7" r="2.2" fill="#f8bda1" stroke="#e9b297"/><circle cx="944.8" cy="301.3" r="2.2" fill="#acc6e4" stroke="#a1bbd6"/><circle cx="688.5" cy="450" r="2.2" fill="#d55d4c" stroke="#c85847"/><circle cx="905.6" cy="285.6" r="2.2" fill="#fadfcf" stroke="#ebd1c3"/><circle cx="972.4" cy="217.7" r="2.2" fill="#c3d5ea" stroke="#b7c8dc"/><circle cx="682.1" cy="436.9" r="2.2" fill="#b92531" stroke="#ae232e"/><circle cx="660.7" cy="562.1" r="2.2" fill="#fcd4be" stroke="#edc7b3"/><circle cx="680.8" cy="589.4" r="2.2" fill="#f6b191" stroke="#e7a689"/><circle cx="983" cy="344.6" r="2.2" fill="#e8eaf0" stroke="#dadce2"/><circle cx="964.8" cy="426.1" r="2.2" fill="#e0775f" stroke="#d37059"/><circle cx="626" cy="534.4" r="2.2" fill="#d15648" stroke="#c55144"/><circle cx="737.7" cy="534.1" r="2.2" fill="#e98c6f" stroke="#db8368"/><circle cx="921.1" cy="346.6" r="2.2" fill="#ec9374" stroke="#de8a6d"/><circle cx="986.4" cy="335.1" r="2.2" fill="#adc7e4" stroke="#a3bbd6"/><circle cx="627.9" cy="562.4" r="2.2" fill="#dd6f59" stroke="#cf6954"/><circle cx="950.4" cy="453.9" r="2.2" fill="#dbe3ef" stroke="#ced6e0"/><circle cx="893.6" cy="343.2" r="2.2" fill="#a6c3e2" stroke="#9cb7d5"/><circle cx="904.6" cy="437.4" r="2.2" fill="#fddbc7" stroke="#eecebb"/><circle cx="973.1" cy="426.7" r="2.2" fill="#c1d4e9" stroke="#b6c7db"/><circle cx="974.7" cy="338.4" r="2.2" fill="#f7e3d9" stroke="#e8d6cc"/><circle cx="969" cy="304.5" r="2.2" fill="#f9c5ab" stroke="#eab9a1"/><circle cx="714.7" cy="542.2" r="2.2" fill="#f8e1d5" stroke="#e9d4c8"/><circle cx="655" cy="497.3" r="2.2" fill="#bf3137" stroke="#b32e34"/><circle cx="953.1" cy="397.1" r="2.2" fill="#f8bfa4" stroke="#e9b49a"/><circle cx="932.2" cy="264.4" r="2.2" fill="#facbb3" stroke="#ebbfa8"/><circle cx="724.5" cy="458.5" r="2.2" fill="#dc6e58" stroke="#cf6853"/><circle cx="919.8" cy="431.2" r="2.2" fill="#f9e0d1" stroke="#ead2c5"/><circle cx="973.1" cy="294.6" r="2.2" fill="#dce4ef" stroke="#cfd6e0"/><circle cx="643.1" cy="601.1" r="2.2" fill="#b51e2e" stroke="#aa1c2b"/><circle cx="670.6" cy="546.8" r="2.2" fill="#fdd9c4" stroke="#edccb8"/><circle cx="715.1" cy="587" r="2.2" fill="#b92531" stroke="#ad232e"/><circle cx="648.3" cy="480.8" r="2.2" fill="#fbd0b9" stroke="#ecc3ae"/><circle cx="679.9" cy="457.6" r="2.2" fill="#f5e5dc" stroke="#e7d7cf"/><circle cx="942.9" cy="362.2" r="2.2" fill="#f7b596" stroke="#e8aa8d"/><circle cx="879.1" cy="370.9" r="2.2" fill="#4c86c1" stroke="#487eb6"/><circle cx="685.4" cy="464.7" r="2.2" fill="#f8e1d5" stroke="#e9d4c8"/><circle cx="665" cy="447.6" r="2.2" fill="#c63f3e" stroke="#ba3c3a"/><circle cx="919.8" cy="435.7" r="2.2" fill="#fcd2bc" stroke="#ecc5b0"/><circle cx="637.4" cy="478.7" r="2.2" fill="#f4a683" stroke="#e59c7b"/><circle cx="721.2" cy="477.7" r="2.2" fill="#dc6e58" stroke="#cf6853"/><circle cx="932.1" cy="472" r="2.2" fill="#ecedf1" stroke="#dedfe2"/><circle cx="688.1" cy="596.6" r="2.2" fill="#f7b496" stroke="#e8a98d"/><circle cx="926.6" cy="462.8" r="2.2" fill="#fbd0b9" stroke="#ecc4ae"/><circle cx="905.7" cy="289.5" r="2.2" fill="#e9ebf0" stroke="#dbdde2"/><circle cx="737.2" cy="549.2" r="2.2" fill="#b6202f" stroke="#ab1e2c"/><circle cx="963.6" cy="419.9" r="2.2" fill="#facbb2" stroke="#ebbea7"/><circle cx="688.8" cy="573.8" r="2.2" fill="#bf3237" stroke="#b42f34"/><circle cx="715.2" cy="476.3" r="2.2" fill="#facbb2" stroke="#ebbea7"/><circle cx="690.5" cy="530.1" r="2.2" fill="#f5ab89" stroke="#e6a181"/><circle cx="662.9" cy="531.6" r="2.2" fill="#e88a6d" stroke="#da8267"/><circle cx="637.8" cy="514" r="2.2" fill="#fcd7c1" stroke="#edcab6"/><circle cx="654.1" cy="482.5" r="2.2" fill="#f9c0a5" stroke="#eab59b"/><circle cx="946.3" cy="406.6" r="2.2" fill="#b8cee7" stroke="#adc2d9"/><circle cx="976.4" cy="335.3" r="2.2" fill="#6296ca" stroke="#5c8dbe"/><circle cx="988.1" cy="263.2" r="2.2" fill="#dde4ef" stroke="#cfd6e0"/><circle cx="713.3" cy="570.9" r="2.2" fill="#f6b191" stroke="#e7a688"/><circle cx="891.9" cy="521" r="2.2" fill="#f7e3d9" stroke="#e8d5cc"/><circle cx="983.9" cy="283.8" r="2.2" fill="#fdd9c4" stroke="#edccb8"/><circle cx="686.4" cy="549.2" r="2.2" fill="#f09c7b" stroke="#e29273"/><circle cx="969.5" cy="407.5" r="2.2" fill="#d65f4d" stroke="#c95a48"/><circle cx="912" cy="268.9" r="2.2" fill="#e1e7ef" stroke="#d4d9e1"/><circle cx="972.7" cy="237.2" r="2.2" fill="#f8bda0" stroke="#e9b196"/><circle cx="925.7" cy="262" r="2.2" fill="#efeced" stroke="#e1dedf"/><circle cx="659.2" cy="568.2" r="2.2" fill="#f5ac8c" stroke="#e7a283"/><circle cx="936.6" cy="365.6" r="2.2" fill="#dae3ee" stroke="#cdd5e0"/><circle cx="653.9" cy="471.7" r="2.2" fill="#f7b496" stroke="#e8aa8d"/><circle cx="641.1" cy="516.2" r="2.2" fill="#f6b192" stroke="#e7a789"/><circle cx="883.7" cy="374.8" r="2.2" fill="#fbddcb" stroke="#ecd0bf"/><circle cx="710.1" cy="569.1" r="2.2" fill="#f7b99b" stroke="#e8ae92"/><circle cx="888.3" cy="344.2" r="2.2" fill="#e5e9f0" stroke="#d8dbe1"/><circle cx="926.6" cy="420.2" r="2.2" fill="#ecedf1" stroke="#dddee2"/><circle cx="682.6" cy="579.5" r="2.2" fill="#fbcdb5" stroke="#ecc1aa"/><circle cx="876.7" cy="362.8" r="2.2" fill="#f9c4aa" stroke="#eab8a0"/><circle cx="967.5" cy="229" r="2.2" fill="#f5ab89" stroke="#e6a081"/><circle cx="640" cy="599.2" r="2.2" fill="#d7624e" stroke="#ca5c4a"/><circle cx="676.8" cy="439" r="2.2" fill="#b2192b" stroke="#a81729"/><circle cx="974.4" cy="230.6" r="2.2" fill="#facab2" stroke="#ebbea7"/><circle cx="926.4" cy="449.3" r="2.2" fill="#a1c0e1" stroke="#98b5d3"/><circle cx="911.8" cy="361.6" r="2.2" fill="#f8bb9f" stroke="#e9b095"/><circle cx="679.8" cy="465.4" r="2.2" fill="#f9c2a6" stroke="#eab69c"/><circle cx="972.4" cy="354.9" r="2.2" fill="#efedef" stroke="#e0dfe1"/><circle cx="731.6" cy="522.6" r="2.2" fill="#e68469" stroke="#d87c63"/><circle cx="721.3" cy="458.2" r="2.2" fill="#f7b496" stroke="#e8aa8d"/><circle cx="635.1" cy="498.3" r="2.2" fill="#d25849" stroke="#c55345"/><circle cx="996.3" cy="348.5" r="2.2" fill="#f7b697" stroke="#e8ab8e"/><circle cx="750.2" cy="484.7" r="2.2" fill="#f5aa89" stroke="#e6a081"/><circle cx="629.9" cy="590.6" r="2.2" fill="#f5aa89" stroke="#e6a081"/><circle cx="972" cy="272.6" r="2.2" fill="#f8e1d5" stroke="#e9d4c8"/><circle cx="937.1" cy="212.6" r="2.2" fill="#f2e9e5" stroke="#e4dbd7"/><circle cx="677.5" cy="551.6" r="2.2" fill="#f6b293" stroke="#e7a78a"/><circle cx="697.6" cy="535.7" r="2.2" fill="#f9c3a8" stroke="#eab79e"/><circle cx="649.4" cy="521.2" r="2.2" fill="#b7cee7" stroke="#acc1d9"/><circle cx="718.5" cy="514" r="2.2" fill="#c13539" stroke="#b53235"/><circle cx="942.6" cy="319.7" r="2.2" fill="#f2e9e6" stroke="#e3dbd8"/><circle cx="972.1" cy="347.4" r="2.2" fill="#fcdcc8" stroke="#edcebc"/><circle cx="945.6" cy="247.9" r="2.2" fill="#d1dded" stroke="#c4d0df"/><circle cx="879.7" cy="422.3" r="2.2" fill="#faccb3" stroke="#ebbfa9"/><circle cx="931.6" cy="472" r="2.2" fill="#e5e9f0" stroke="#d7dbe1"/><circle cx="915.2" cy="402.8" r="2.2" fill="#fddbc7" stroke="#eecebb"/><circle cx="683.1" cy="556" r="2.2" fill="#f2a07e" stroke="#e39676"/><circle cx="966.4" cy="366.6" r="2.2" fill="#de725b" stroke="#d16b55"/><circle cx="701.3" cy="543.9" r="2.2" fill="#dd7059" stroke="#d06954"/><circle cx="869" cy="402.1" r="2.2" fill="#fddcc8" stroke="#edcebc"/><circle cx="630.3" cy="496" r="2.2" fill="#f09b7a" stroke="#e19173"/><circle cx="965.4" cy="375.6" r="2.2" fill="#c6d7ea" stroke="#bacadc"/><circle cx="847.8" cy="566.6" r="2.2" fill="#f6ae8e" stroke="#e7a485"/><circle cx="903.8" cy="278.2" r="2.2" fill="#facbb3" stroke="#ebbfa8"/><circle cx="622.3" cy="569" r="2.2" fill="#f3e8e3" stroke="#e4dad5"/><circle cx="962.9" cy="261.9" r="2.2" fill="#f9e0d2" stroke="#ead3c5"/><circle cx="976.3" cy="240.7" r="2.2" fill="#aac5e3" stroke="#a0b9d5"/><circle cx="939.9" cy="440.8" r="2.2" fill="#f9c2a7" stroke="#eab69d"/><circle cx="650.1" cy="565.4" r="2.2" fill="#e6866a" stroke="#d97e64"/><circle cx="945.9" cy="262.2" r="2.2" fill="#f8bfa4" stroke="#e9b49a"/><circle cx="642.6" cy="455.8" r="2.2" fill="#f9c4aa" stroke="#eab8a0"/><circle cx="844.3" cy="570.9" r="2.2" fill="#f7ba9d" stroke="#e9af93"/><circle cx="938.2" cy="325.9" r="2.2" fill="#d7624f" stroke="#ca5d4a"/><circle cx="669.8" cy="461.8" r="2.2" fill="#d65f4d" stroke="#c95a48"/><circle cx="957.9" cy="457.7" r="2.2" fill="#fcddcb" stroke="#edcfbf"/><circle cx="983.6" cy="386" r="2.2" fill="#b3cbe6" stroke="#a9bfd8"/><circle cx="923.1" cy="400.1" r="2.2" fill="#e1e7ef" stroke="#d4d9e1"/><circle cx="981.2" cy="307.7" r="2.2" fill="#f0ecec" stroke="#e1ddde"/><circle cx="638.1" cy="575.6" r="2.2" fill="#bb2a33" stroke="#b02730"/><circle cx="700.4" cy="616.4" r="2.2" fill="#f09b7a" stroke="#e19273"/><circle cx="944" cy="275.9" r="2.2" fill="#f3e7e2" stroke="#e5dad5"/><circle cx="661.8" cy="454" r="2.2" fill="#fddac6" stroke="#eecdba"/><circle cx="857.4" cy="454.4" r="2.2" fill="#d4dfee" stroke="#c7d2df"/><circle cx="940.4" cy="314" r="2.2" fill="#9fbee0" stroke="#95b3d3"/><circle cx="628" cy="587.6" r="2.2" fill="#d6614e" stroke="#c95b49"/><circle cx="632.5" cy="482.8" r="2.2" fill="#fddac5" stroke="#eeccb9"/><circle cx="926" cy="436.3" r="2.2" fill="#b2cae5" stroke="#a7bed7"/><circle cx="886.7" cy="338.6" r="2.2" fill="#f9e0d1" stroke="#ead2c5"/><circle cx="628.1" cy="550.9" r="2.2" fill="#f6b293" stroke="#e7a88a"/><circle cx="651" cy="595.4" r="2.2" fill="#f7b495" stroke="#e8a98c"/><circle cx="733.6" cy="469" r="2.2" fill="#ef9a79" stroke="#e19072"/><circle cx="677.1" cy="460.9" r="2.2" fill="#f6af8f" stroke="#e7a587"/><circle cx="686.6" cy="545.4" r="2.2" fill="#bc2c34" stroke="#b12931"/><circle cx="681.5" cy="486.8" r="2.2" fill="#facbb3" stroke="#ebbfa8"/><circle cx="654.4" cy="561.3" r="2.2" fill="#c2383a" stroke="#b73537"/><circle cx="933.4" cy="324.9" r="2.2" fill="#fcd7c2" stroke="#edcab6"/><circle cx="927.8" cy="254.2" r="2.2" fill="#fbceb7" stroke="#ecc2ac"/><circle cx="978.4" cy="399.9" r="2.2" fill="#fcd6c1" stroke="#edc9b5"/><circle cx="934.5" cy="235.8" r="2.2" fill="#fcd3bc" stroke="#edc6b1"/><circle cx="925.4" cy="361.6" r="2.2" fill="#efedee" stroke="#e1dfe0"/><circle cx="958.7" cy="279.4" r="2.2" fill="#427dbb" stroke="#3e76b0"/><circle cx="724" cy="600" r="2.2" fill="#d6604d" stroke="#c95b49"/><circle cx="914.8" cy="298.3" r="2.2" fill="#f7b799" stroke="#e8ac90"/><circle cx="718.9" cy="483" r="2.2" fill="#fbcfb8" stroke="#ecc3ad"/><circle cx="618.9" cy="567.6" r="2.2" fill="#fddac5" stroke="#eecdba"/><circle cx="918.9" cy="291.5" r="2.2" fill="#fbd1ba" stroke="#ecc5af"/><circle cx="680" cy="543" r="2.2" fill="#c3393b" stroke="#b73637"/><circle cx="901.5" cy="449" r="2.2" fill="#efedee" stroke="#e1dfe0"/><circle cx="633" cy="427.4" r="2.2" fill="#f9c1a6" stroke="#eab69c"/><circle cx="680.4" cy="528.3" r="2.2" fill="#eb8f71" stroke="#dc876b"/><circle cx="900.2" cy="347.9" r="2.2" fill="#fddbc7" stroke="#eecebb"/><circle cx="626.3" cy="484.3" r="2.2" fill="#f09b7b" stroke="#e19273"/><circle cx="917.2" cy="400.3" r="2.2" fill="#f9c5ab" stroke="#eabaa1"/><circle cx="687.5" cy="607.9" r="2.2" fill="#fac7ae" stroke="#ebbba4"/><circle cx="635.9" cy="437.9" r="2.2" fill="#b6212f" stroke="#ab1f2c"/><circle cx="659.2" cy="486.9" r="2.2" fill="#d15548" stroke="#c45044"/><circle cx="646.6" cy="564.5" r="2.2" fill="#f8bea2" stroke="#e9b399"/><circle cx="634.7" cy="550.4" r="2.2" fill="#eb9173" stroke="#dd896c"/><circle cx="975.9" cy="245.2" r="2.2" fill="#d7e1ee" stroke="#cad4e0"/><circle cx="686.8" cy="525.2" r="2.2" fill="#e2e7ef" stroke="#d4d9e1"/><circle cx="657.5" cy="608.4" r="2.2" fill="#ea8e70" stroke="#dc866a"/><circle cx="670.9" cy="522.8" r="2.2" fill="#f7b89a" stroke="#e8ad91"/><circle cx="944.8" cy="240.3" r="2.2" fill="#abc6e3" stroke="#a1bad6"/><circle cx="926.6" cy="378.7" r="2.2" fill="#c03438" stroke="#b53135"/><circle cx="651" cy="479.3" r="2.2" fill="#fcd2bc" stroke="#ecc5b0"/><circle cx="699.3" cy="523.9" r="2.2" fill="#db6c56" stroke="#ce6551"/><circle cx="672.5" cy="598.1" r="2.2" fill="#f19f7d" stroke="#e39576"/><circle cx="911.5" cy="336.4" r="2.2" fill="#ecedf1" stroke="#dddee2"/><circle cx="979.9" cy="266.7" r="2.2" fill="#f6b393" stroke="#e7a88a"/><circle cx="889.1" cy="386.4" r="2.2" fill="#fcdcc9" stroke="#edcfbd"/><circle cx="677.8" cy="442.4" r="2.2" fill="#f09b7b" stroke="#e19273"/><circle cx="700.2" cy="478.7" r="2.2" fill="#f7b596" stroke="#e8aa8d"/><circle cx="719.3" cy="467.9" r="2.2" fill="#f19f7d" stroke="#e39576"/><circle cx="635.8" cy="593.2" r="2.2" fill="#ea8e71" stroke="#dc866a"/><circle cx="942.3" cy="434" r="2.2" fill="#a8c4e3" stroke="#9eb9d5"/><circle cx="950.4" cy="209.9" r="2.2" fill="#f9c4a9" stroke="#eab89f"/><circle cx="916.2" cy="235.1" r="2.2" fill="#b6cde6" stroke="#abc1d8"/><circle cx="962.2" cy="243.3" r="2.2" fill="#fac9b0" stroke="#ebbda6"/><circle cx="680.5" cy="443.5" r="2.2" fill="#f9e0d3" stroke="#ead3c6"/><circle cx="639.4" cy="443.6" r="2.2" fill="#eb9173" stroke="#dd886c"/><circle cx="971.4" cy="307" r="2.2" fill="#ebecf1" stroke="#dddee2"/><circle cx="968.2" cy="428.6" r="2.2" fill="#d7e1ee" stroke="#cad3e0"/><circle cx="714.7" cy="581.3" r="2.2" fill="#f9c3a8" stroke="#eab79e"/><circle cx="693.5" cy="457.3" r="2.2" fill="#f5ac8a" stroke="#e6a182"/><circle cx="686.8" cy="541.3" r="2.2" fill="#c43c3c" stroke="#b83838"/><circle cx="844.2" cy="465.2" r="2.2" fill="#fcd3bd" stroke="#edc6b2"/><circle cx="893.3" cy="356.9" r="2.2" fill="#fac9b0" stroke="#ebbda5"/><circle cx="956.2" cy="290.2" r="2.2" fill="#b31b2c" stroke="#a9192a"/><circle cx="892" cy="526.1" r="2.2" fill="#fbcdb5" stroke="#ecc0aa"/><circle cx="617.7" cy="557" r="2.2" fill="#f9c4aa" stroke="#eab8a0"/><circle cx="915.4" cy="285.2" r="2.2" fill="#f8bea2" stroke="#e9b398"/><circle cx="889.1" cy="370" r="2.2" fill="#f7b99b" stroke="#e8ae92"/><circle cx="922.5" cy="380.3" r="2.2" fill="#a6c3e2" stroke="#9cb7d4"/><circle cx="984.3" cy="324.2" r="2.2" fill="#fbddcc" stroke="#ecd0c0"/><circle cx="932.5" cy="356.6" r="2.2" fill="#4883bf" stroke="#447bb3"/><circle cx="651.6" cy="503" r="2.2" fill="#fac8af" stroke="#ebbca5"/><circle cx="983.6" cy="337.7" r="2.2" fill="#fddbc8" stroke="#eecebc"/><circle cx="921.4" cy="420.9" r="2.2" fill="#b7cee7" stroke="#acc1d9"/><circle cx="723.2" cy="575.2" r="2.2" fill="#f8ba9d" stroke="#e9af93"/><circle cx="951.9" cy="450.5" r="2.2" fill="#faccb4" stroke="#ebc0a9"/><circle cx="925.3" cy="388.6" r="2.2" fill="#ecedf1" stroke="#dedfe2"/><circle cx="957.4" cy="420" r="2.2" fill="#e6e9f0" stroke="#d8dbe2"/><circle cx="962.6" cy="217.8" r="2.2" fill="#f8bfa3" stroke="#e9b399"/><circle cx="945.3" cy="212.2" r="2.2" fill="#fdd9c4" stroke="#edccb8"/><circle cx="667.6" cy="511.7" r="2.2" fill="#f5e6df" stroke="#e6d8d1"/><circle cx="939.3" cy="412.7" r="2.2" fill="#f4a785" stroke="#e69d7d"/><circle cx="965.8" cy="321.3" r="2.2" fill="#facbb3" stroke="#ebbfa8"/><circle cx="716.5" cy="511.9" r="2.2" fill="#f5ac8b" stroke="#e6a283"/><circle cx="984.8" cy="362.3" r="2.2" fill="#f7b698" stroke="#e8ab8f"/><circle cx="965.6" cy="386.3" r="2.2" fill="#e0e6ef" stroke="#d3d8e1"/><circle cx="980.3" cy="248.9" r="2.2" fill="#e4e8f0" stroke="#d6dae1"/><circle cx="949.4" cy="269.2" r="2.2" fill="#fddbc7" stroke="#eecebb"/><circle cx="848.1" cy="449.8" r="2.2" fill="#ea8e70" stroke="#dc8569"/><circle cx="673.6" cy="616.8" r="2.2" fill="#f19e7c" stroke="#e29475"/><circle cx="726.5" cy="552.9" r="2.2" fill="#f8bc9f" stroke="#e9b196"/><circle cx="623.9" cy="539.3" r="2.2" fill="#de735c" stroke="#d16d56"/><circle cx="695.7" cy="609.5" r="2.2" fill="#facab2" stroke="#ebbea7"/><circle cx="689.8" cy="471.5" r="2.2" fill="#f8bfa3" stroke="#e9b399"/><circle cx="696.1" cy="612.7" r="2.2" fill="#c33a3b" stroke="#b73738"/><circle cx="908.8" cy="312.5" r="2.2" fill="#9fbfe0" stroke="#96b3d3"/><circle cx="869.8" cy="376.3" r="2.2" fill="#fac7ae" stroke="#ebbba3"/><circle cx="920" cy="275.1" r="2.2" fill="#d9e2ee" stroke="#ccd4e0"/><circle cx="704.9" cy="504.3" r="2.2" fill="#f4a582" stroke="#e59b7b"/><circle cx="941.3" cy="365.2" r="2.2" fill="#fadece" stroke="#ebd1c2"/><circle cx="676.5" cy="564.8" r="2.2" fill="#e7876b" stroke="#d97f65"/><circle cx="918.6" cy="348.9" r="2.2" fill="#d8e2ee" stroke="#cbd4e0"/><circle cx="954" cy="350.6" r="2.2" fill="#fac9b0" stroke="#ebbda5"/><circle cx="614.1" cy="545.8" r="2.2" fill="#f6ae8e" stroke="#e7a485"/><circle cx="930.8" cy="229.6" r="2.2" fill="#e8eaf0" stroke="#dadce2"/><circle cx="961.9" cy="428.6" r="2.2" fill="#e1e7ef" stroke="#d4d9e1"/><circle cx="934.6" cy="251.4" r="2.2" fill="#a5c2e2" stroke="#9bb6d4"/><circle cx="677.3" cy="576.9" r="2.2" fill="#f2a07e" stroke="#e39677"/><circle cx="693.3" cy="613.9" r="2.2" fill="#f6b293" stroke="#e7a78a"/><circle cx="700.9" cy="450.5" r="2.2" fill="#f9c1a6" stroke="#eab69c"/><circle cx="725.3" cy="485.6" r="2.2" fill="#d6604d" stroke="#c95a48"/><circle cx="917.5" cy="426.1" r="2.2" fill="#e8ebf0" stroke="#dadce2"/><circle cx="734.1" cy="544.9" r="2.2" fill="#f7ba9c" stroke="#e9af93"/><circle cx="702.2" cy="511.1" r="2.2" fill="#f5ae8d" stroke="#e7a385"/><circle cx="622.7" cy="582.6" r="2.2" fill="#e88a6d" stroke="#da8166"/><circle cx="947.3" cy="251.6" r="2.2" fill="#fac6ac" stroke="#ebbaa2"/><circle cx="640.5" cy="580.8" r="2.2" fill="#facab2" stroke="#ebbea7"/><circle cx="979.9" cy="328.8" r="2.2" fill="#eeeef1" stroke="#e0e0e2"/><circle cx="921.5" cy="278" r="2.2" fill="#fac6ad" stroke="#ebbaa2"/><circle cx="631.8" cy="501.9" r="2.2" fill="#f5ad8d" stroke="#e7a384"/><circle cx="922.3" cy="267.8" r="2.2" fill="#facab2" stroke="#ebbea7"/><circle cx="961.8" cy="299.3" r="2.2" fill="#fdd8c3" stroke="#edcbb8"/><circle cx="931.9" cy="343.8" r="2.2" fill="#fac7ad" stroke="#ebbba3"/><circle cx="937.9" cy="329.9" r="2.2" fill="#a7c3e2" stroke="#9db8d5"/><circle cx="979.9" cy="340.4" r="2.2" fill="#abc6e3" stroke="#a0bad6"/><circle cx="955.4" cy="383.2" r="2.2" fill="#fcd4be" stroke="#edc7b3"/><circle cx="638.5" cy="536.7" r="2.2" fill="#fadfd0" stroke="#ebd2c3"/><circle cx="684.7" cy="516.5" r="2.2" fill="#e6866a" stroke="#d97e64"/><circle cx="975.9" cy="262.7" r="2.2" fill="#fbddcc" stroke="#ecd0bf"/><circle cx="971" cy="429.7" r="2.2" fill="#fbcfb7" stroke="#ecc2ac"/><circle cx="722.1" cy="540.1" r="2.2" fill="#f8c0a4" stroke="#eab49a"/><circle cx="684.3" cy="484.5" r="2.2" fill="#f8bfa3" stroke="#e9b49a"/><circle cx="916.3" cy="429.6" r="2.2" fill="#fac6ad" stroke="#ebbaa2"/><circle cx="933.1" cy="297.2" r="2.2" fill="#fcd6c0" stroke="#edc9b4"/><circle cx="953.8" cy="436.1" r="2.2" fill="#d7e1ee" stroke="#cad4e0"/><circle cx="982.3" cy="268.3" r="2.2" fill="#fddbc8" stroke="#eecebc"/><circle cx="938.7" cy="363.5" r="2.2" fill="#f3e8e4" stroke="#e4dad6"/><circle cx="941.1" cy="424.9" r="2.2" fill="#fbddcc" stroke="#ecd0bf"/><circle cx="665.3" cy="583.5" r="2.2" fill="#f6ae8e" stroke="#e7a485"/><circle cx="917.1" cy="432.4" r="2.2" fill="#cedcec" stroke="#c2cfde"/><circle cx="616.8" cy="550.1" r="2.2" fill="#ee9777" stroke="#e08e70"/><circle cx="962" cy="443" r="2.2" fill="#faccb4" stroke="#ebc0a9"/><circle cx="987.1" cy="325.7" r="2.2" fill="#fbddcb" stroke="#ecd0bf"/><circle cx="860.5" cy="401" r="2.2" fill="#f0ebeb" stroke="#e2dddd"/><circle cx="646.2" cy="512.3" r="2.2" fill="#ee9677" stroke="#df8d70"/><circle cx="959" cy="352.5" r="2.2" fill="#facab2" stroke="#ebbea7"/><circle cx="908.5" cy="308.7" r="2.2" fill="#e8ebf0" stroke="#dadce2"/><circle cx="932.4" cy="387.1" r="2.2" fill="#acc6e4" stroke="#a1bad6"/><circle cx="914.9" cy="393.9" r="2.2" fill="#fac9b0" stroke="#ebbda6"/><circle cx="931.2" cy="432.5" r="2.2" fill="#96b9dd" stroke="#8daed0"/><circle cx="884.2" cy="535.4" r="2.2" fill="#fadece" stroke="#ebd1c2"/><circle cx="887.4" cy="525.9" r="2.2" fill="#c84440" stroke="#bc403c"/><circle cx="956" cy="437.9" r="2.2" fill="#f4a684" stroke="#e69c7c"/><circle cx="989.2" cy="272.3" r="2.2" fill="#facab2" stroke="#ebbea7"/><circle cx="890.4" cy="499.5" r="2.2" fill="#efedee" stroke="#e1dfe0"/><circle cx="959.4" cy="325.9" r="2.2" fill="#fcddcb" stroke="#ecd0bf"/><circle cx="919.7" cy="285.8" r="2.2" fill="#efedef" stroke="#e0dfe1"/><circle cx="709.4" cy="424.4" r="2.2" fill="#f5e5dd" stroke="#e6d7d0"/><circle cx="919.7" cy="408.8" r="2.2" fill="#d6e0ee" stroke="#c9d3e0"/><circle cx="659.1" cy="583.8" r="2.2" fill="#fac9b1" stroke="#ebbda6"/><circle cx="942" cy="260.6" r="2.2" fill="#fcd2bc" stroke="#ecc6b1"/><circle cx="921.6" cy="440.6" r="2.2" fill="#eeeef1" stroke="#e0e0e2"/><circle cx="940.6" cy="331.2" r="2.2" fill="#e2e7ef" stroke="#d4d9e1"/><circle cx="908.6" cy="281.7" r="2.2" fill="#fcdcc9" stroke="#edcfbd"/><circle cx="689.4" cy="489.8" r="2.2" fill="#e7866a" stroke="#d97e64"/><circle cx="665.2" cy="610.4" r="2.2" fill="#b72230" stroke="#ac202d"/><circle cx="958.3" cy="339.3" r="2.2" fill="#c0d3e9" stroke="#b5c6db"/><circle cx="934.1" cy="367.8" r="2.2" fill="#bed2e8" stroke="#b3c6da"/><circle cx="868.5" cy="420.1" r="2.2" fill="#f8bb9e" stroke="#e9b095"/><circle cx="975" cy="265.5" r="2.2" fill="#fcdcc9" stroke="#edcfbc"/><circle cx="904.6" cy="453.6" r="2.2" fill="#e17a61" stroke="#d4725b"/><circle cx="694.3" cy="487.7" r="2.2" fill="#b82431" stroke="#ad222e"/><circle cx="895.1" cy="346.9" r="2.2" fill="#f5ac8c" stroke="#e7a283"/><circle cx="980.6" cy="272.5" r="2.2" fill="#fbd1ba" stroke="#ecc4af"/><circle cx="987" cy="296.9" r="2.2" fill="#fcd6c1" stroke="#edc9b5"/><circle cx="670.2" cy="558.8" r="2.2" fill="#db6b55" stroke="#cd6450"/><circle cx="926.5" cy="358.8" r="2.2" fill="#fcd3bd" stroke="#edc6b1"/><circle cx="846.7" cy="567.9" r="2.2" fill="#ee9878" stroke="#e08f71"/><circle cx="913" cy="428.4" r="2.2" fill="#8cb2da" stroke="#84a8cd"/><circle cx="947.7" cy="409.1" r="2.2" fill="#b5cce6" stroke="#aac0d8"/><circle cx="969.2" cy="220" r="2.2" fill="#ea8f71" stroke="#dc866a"/><circle cx="947.3" cy="424.6" r="2.2" fill="#f0ebeb" stroke="#e2dddd"/><circle cx="962.2" cy="446.3" r="2.2" fill="#e8ebf0" stroke="#dadce2"/><circle cx="710.1" cy="472.5" r="2.2" fill="#ec9273" stroke="#de896c"/><circle cx="959" cy="251.4" r="2.2" fill="#dce4ef" stroke="#ced6e0"/><circle cx="724.8" cy="498.4" r="2.2" fill="#ba2832" stroke="#af252f"/><circle cx="903.2" cy="506.7" r="2.2" fill="#f7b799" stroke="#e8ac90"/><circle cx="659.7" cy="554.3" r="2.2" fill="#d65f4d" stroke="#c95948"/><circle cx="929.4" cy="331.5" r="2.2" fill="#e3e8f0" stroke="#d6dae1"/><circle cx="977.5" cy="272.5" r="2.2" fill="#f9e1d4" stroke="#ead3c7"/><circle cx="670.4" cy="512.5" r="2.2" fill="#f9c4aa" stroke="#eab89f"/><circle cx="964.8" cy="245.6" r="2.2" fill="#dd7059" stroke="#d06954"/><circle cx="673.2" cy="475.2" r="2.2" fill="#db6c56" stroke="#ce6551"/><circle cx="941" cy="336.9" r="2.2" fill="#f9c1a6" stroke="#eab59c"/><circle cx="977.2" cy="293.9" r="2.2" fill="#df755d" stroke="#d26e57"/><circle cx="882.1" cy="411.9" r="2.2" fill="#fddac5" stroke="#eecdb9"/><circle cx="897.3" cy="551.9" r="2.2" fill="#c94540" stroke="#bd413d"/><circle cx="972.4" cy="320.3" r="2.2" fill="#fcd8c3" stroke="#edcbb7"/><circle cx="946.2" cy="318.4" r="2.2" fill="#f0eced" stroke="#e1dede"/><circle cx="939.8" cy="367.7" r="2.2" fill="#fddbc7" stroke="#eecebb"/><circle cx="900.4" cy="380.5" r="2.2" fill="#d7624f" stroke="#ca5c4a"/><circle cx="989.8" cy="335.6" r="2.2" fill="#f7b799" stroke="#e8ac8f"/><circle cx="682.4" cy="489.4" r="2.2" fill="#f3a380" stroke="#e49979"/><circle cx="674.1" cy="591.6" r="2.2" fill="#b31b2c" stroke="#a9192a"/><circle cx="648" cy="500.6" r="2.2" fill="#f09b7a" stroke="#e19273"/><circle cx="904.8" cy="382.8" r="2.2" fill="#a2c1e1" stroke="#98b5d4"/><circle cx="936.5" cy="466.4" r="2.2" fill="#f8bc9f" stroke="#e9b095"/><circle cx="639" cy="602.3" r="2.2" fill="#be3037" stroke="#b32d33"/><circle cx="694.3" cy="547.3" r="2.2" fill="#f8bda1" stroke="#e9b297"/><circle cx="695.6" cy="436.3" r="2.2" fill="#fac9b0" stroke="#ebbda5"/><circle cx="947.7" cy="440.9" r="2.2" fill="#f5e5dd" stroke="#e6d7d0"/><circle cx="974.3" cy="308.9" r="2.2" fill="#bdd1e8" stroke="#b2c5da"/><circle cx="671.6" cy="594" r="2.2" fill="#e98b6e" stroke="#db8367"/><circle cx="929.8" cy="352.1" r="2.2" fill="#c5d6ea" stroke="#b9c9dc"/><circle cx="643.2" cy="539.2" r="2.2" fill="#e37f64" stroke="#d6775e"/><circle cx="704.8" cy="514.9" r="2.2" fill="#bc2d35" stroke="#b12a32"/><circle cx="885.6" cy="520.1" r="2.2" fill="#f5e5dc" stroke="#e7d7cf"/><circle cx="699.6" cy="486.2" r="2.2" fill="#f3a381" stroke="#e59979"/><circle cx="925.1" cy="272.8" r="2.2" fill="#bbd0e7" stroke="#afc3da"/><circle cx="970.7" cy="326.7" r="2.2" fill="#f6b292" stroke="#e7a78a"/><circle cx="955.4" cy="406.5" r="2.2" fill="#b2cae5" stroke="#a7bed7"/><circle cx="679.8" cy="547.9" r="2.2" fill="#c53e3d" stroke="#b93a39"/><circle cx="907.1" cy="428.4" r="2.2" fill="#f7b99c" stroke="#e9ae92"/><circle cx="894.9" cy="362" r="2.2" fill="#e3e8ef" stroke="#d5dae1"/><circle cx="933.5" cy="231.2" r="2.2" fill="#c8d8eb" stroke="#bccbdd"/><circle cx="912.2" cy="277.6" r="2.2" fill="#fac6ac" stroke="#ebbaa2"/><circle cx="743.4" cy="543.5" r="2.2" fill="#fddac6" stroke="#eecdba"/><circle cx="663.8" cy="516.7" r="2.2" fill="#f4a784" stroke="#e69d7c"/><circle cx="642.3" cy="536.5" r="2.2" fill="#b51e2e" stroke="#aa1c2b"/><circle cx="969.2" cy="262.6" r="2.2" fill="#bcd0e8" stroke="#b0c4da"/><circle cx="980.1" cy="384.7" r="2.2" fill="#f1eae9" stroke="#e2dcdb"/><circle cx="617" cy="530.7" r="2.2" fill="#dd7059" stroke="#d06954"/><circle cx="940.5" cy="409.6" r="2.2" fill="#f6e4db" stroke="#e7d6ce"/><circle cx="925.4" cy="268.8" r="2.2" fill="#f7b596" stroke="#e8aa8d"/><circle cx="919.5" cy="256.5" r="2.2" fill="#5e93c9" stroke="#588bbd"/><circle cx="951.2" cy="290.9" r="2.2" fill="#f5ab8a" stroke="#e6a182"/><circle cx="616.2" cy="516.1" r="2.2" fill="#f2a07e" stroke="#e39676"/><circle cx="647.6" cy="580.6" r="2.2" fill="#eb9072" stroke="#dd876b"/><circle cx="991.7" cy="291.2" r="2.2" fill="#e2e7ef" stroke="#d4d9e1"/><circle cx="871.8" cy="504.8" r="2.2" fill="#bd2d35" stroke="#b12b32"/><circle cx="672.1" cy="526" r="2.2" fill="#ec9374" stroke="#de8b6e"/><circle cx="683.6" cy="538.6" r="2.2" fill="#f6b292" stroke="#e7a789"/><circle cx="732.6" cy="473.6" r="2.2" fill="#bf3338" stroke="#b43034"/><circle cx="733.2" cy="538.3" r="2.2" fill="#f7b698" stroke="#e8ab8f"/><circle cx="994.8" cy="303.8" r="2.2" fill="#acc7e4" stroke="#a1bbd6"/><circle cx="658.3" cy="472.9" r="2.2" fill="#eb9072" stroke="#dd876b"/><circle cx="949.4" cy="327.3" r="2.2" fill="#fddac6" stroke="#eecdba"/><circle cx="882.1" cy="358" r="2.2" fill="#fbdecd" stroke="#ecd1c1"/><circle cx="942.5" cy="453.1" r="2.2" fill="#fbd0b9" stroke="#ecc4ae"/><circle cx="968.4" cy="349.2" r="2.2" fill="#eeeef0" stroke="#e0e0e2"/><circle cx="892.6" cy="511.4" r="2.2" fill="#dce4ef" stroke="#ced6e0"/><circle cx="626.3" cy="537.2" r="2.2" fill="#f6af8e" stroke="#e7a486"/><circle cx="663.5" cy="443.4" r="2.2" fill="#f8bb9f" stroke="#e9b095"/><circle cx="902.7" cy="413.3" r="2.2" fill="#f6af8f" stroke="#e7a486"/><circle cx="890.7" cy="380.9" r="2.2" fill="#fdd9c5" stroke="#eeccb9"/><circle cx="670.9" cy="567.3" r="2.2" fill="#d6614e" stroke="#c95b49"/><circle cx="622.2" cy="470.7" r="2.2" fill="#ef9a7a" stroke="#e19172"/><circle cx="896.8" cy="369.3" r="2.2" fill="#d0dded" stroke="#c4d0df"/><circle cx="947.3" cy="337.8" r="2.2" fill="#d8e2ee" stroke="#cbd4e0"/><circle cx="631.6" cy="545.3" r="2.2" fill="#fcdcc9" stroke="#edcfbd"/><circle cx="657.4" cy="423.4" r="2.2" fill="#ec9374" stroke="#de8a6d"/><circle cx="960.5" cy="288.4" r="2.2" fill="#dce4ef" stroke="#cfd6e0"/><circle cx="962.6" cy="265.5" r="2.2" fill="#93b7dc" stroke="#8aaccf"/><circle cx="688.1" cy="500.5" r="2.2" fill="#ef9979" stroke="#e09072"/><circle cx="677.2" cy="475.2" r="2.2" fill="#fbceb6" stroke="#ecc2ac"/><circle cx="934.1" cy="477.9" r="2.2" fill="#facbb2" stroke="#ebbfa8"/><circle cx="899.3" cy="364" r="2.2" fill="#fbd2bb" stroke="#ecc5b0"/><circle cx="910.3" cy="340.3" r="2.2" fill="#facab1" stroke="#ebbea7"/><circle cx="922.6" cy="451.1" r="2.2" fill="#fbcfb8" stroke="#ecc3ad"/><circle cx="620.9" cy="529.1" r="2.2" fill="#bf3338" stroke="#b43034"/><circle cx="923.8" cy="448" r="2.2" fill="#fbcfb8" stroke="#ecc3ad"/><circle cx="950.2" cy="384.9" r="2.2" fill="#bcd1e8" stroke="#b1c4da"/><circle cx="950.5" cy="417.2" r="2.2" fill="#a3c1e1" stroke="#99b5d4"/><circle cx="626.5" cy="505.2" r="2.2" fill="#fadece" stroke="#ebd1c2"/><circle cx="915.7" cy="362.8" r="2.2" fill="#f8bea2" stroke="#e9b298"/><circle cx="671.7" cy="535.7" r="2.2" fill="#b3192c" stroke="#a81829"/><circle cx="686.9" cy="604" r="2.2" fill="#f19f7d" stroke="#e39676"/><circle cx="922.1" cy="410.8" r="2.2" fill="#4a84c0" stroke="#467cb5"/><circle cx="950.7" cy="224" r="2.2" fill="#bdd1e8" stroke="#b1c4da"/><circle cx="913.9" cy="371.9" r="2.2" fill="#fcd2bc" stroke="#ecc6b1"/><circle cx="888.8" cy="534.7" r="2.2" fill="#d6e1ee" stroke="#c9d3e0"/><circle cx="958.3" cy="263.3" r="2.2" fill="#a3c1e1" stroke="#99b5d4"/><circle cx="656.5" cy="442.1" r="2.2" fill="#fcd4bf" stroke="#edc8b3"/><circle cx="853.2" cy="566.6" r="2.2" fill="#fcd4be" stroke="#edc8b3"/><circle cx="930.2" cy="404" r="2.2" fill="#b0c9e5" stroke="#a6bdd7"/><circle cx="938.4" cy="233.2" r="2.2" fill="#f9c2a7" stroke="#eab69d"/><circle cx="671.9" cy="508.8" r="2.2" fill="#e68469" stroke="#d87c62"/><circle cx="970.6" cy="372.8" r="2.2" fill="#e4e9f0" stroke="#d7dbe1"/><circle cx="938.1" cy="379.5" r="2.2" fill="#a7c4e2" stroke="#9db8d5"/><circle cx="951.1" cy="352.2" r="2.2" fill="#fac9af" stroke="#ebbca5"/><circle cx="962.2" cy="355.1" r="2.2" fill="#edeef1" stroke="#dfdfe2"/><circle cx="682.4" cy="598" r="2.2" fill="#f7e2d8" stroke="#e8d5cb"/><circle cx="641.6" cy="574.4" r="2.2" fill="#dc6f58" stroke="#cf6853"/><circle cx="711.5" cy="577.4" r="2.2" fill="#f6b394" stroke="#e8a88b"/><circle cx="962.8" cy="437.7" r="2.2" fill="#dbe3ee" stroke="#cdd5e0"/><circle cx="990.1" cy="312.3" r="2.2" fill="#f8e1d5" stroke="#e9d4c8"/><circle cx="684.8" cy="567.1" r="2.2" fill="#ec9374" stroke="#de8a6d"/><circle cx="942" cy="223.9" r="2.2" fill="#f8bfa4" stroke="#e9b49a"/><circle cx="967.2" cy="370.4" r="2.2" fill="#508ac4" stroke="#4b82b8"/><circle cx="929.2" cy="269.2" r="2.2" fill="#fadfd0" stroke="#ebd2c4"/><circle cx="936.1" cy="316.1" r="2.2" fill="#f0ecec" stroke="#e1dede"/><circle cx="957.5" cy="212.1" r="2.2" fill="#f9c4aa" stroke="#eab8a0"/><circle cx="697.7" cy="506.8" r="2.2" fill="#c2383a" stroke="#b63436"/><circle cx="851.3" cy="454.4" r="2.2" fill="#f6b090" stroke="#e7a688"/><circle cx="646.5" cy="555.6" r="2.2" fill="#f8bfa3" stroke="#e9b399"/><circle cx="852" cy="468.3" r="2.2" fill="#a9c5e3" stroke="#9fb9d5"/><circle cx="631.9" cy="563.4" r="2.2" fill="#f8bc9f" stroke="#e9b095"/><circle cx="732.9" cy="487.3" r="2.2" fill="#e27c62" stroke="#d5755d"/><circle cx="914.3" cy="504.8" r="2.2" fill="#facbb3" stroke="#ebbfa8"/><circle cx="631.6" cy="581.8" r="2.2" fill="#ee9878" stroke="#e08f71"/><circle cx="655.8" cy="591.1" r="2.2" fill="#ed9576" stroke="#df8c6f"/><circle cx="714.8" cy="504.3" r="2.2" fill="#f3a381" stroke="#e59a79"/><circle cx="679.1" cy="613.3" r="2.2" fill="#cf5246" stroke="#c34d42"/><circle cx="641.7" cy="521.8" r="2.2" fill="#f5a988" stroke="#e69f7f"/><circle cx="908.2" cy="433" r="2.2" fill="#aac5e3" stroke="#a0b9d5"/><circle cx="681.9" cy="447.5" r="2.2" fill="#f5ab89" stroke="#e6a081"/><circle cx="668.2" cy="522.3" r="2.2" fill="#fddbc8" stroke="#edcebc"/><circle cx="652.3" cy="451.8" r="2.2" fill="#d96752" stroke="#cc614d"/><circle cx="952.5" cy="294.5" r="2.2" fill="#f9c3a8" stroke="#eab79e"/><circle cx="892.2" cy="339.3" r="2.2" fill="#efedee" stroke="#e1dee0"/><circle cx="665.7" cy="599" r="2.2" fill="#f8e1d5" stroke="#e9d4c8"/><circle cx="948.2" cy="229.6" r="2.2" fill="#b72230" stroke="#ac202d"/><circle cx="888.9" cy="319.9" r="2.2" fill="#e5e9f0" stroke="#d7dbe1"/><circle cx="698" cy="546.1" r="2.2" fill="#f9c5ab" stroke="#eab9a1"/><circle cx="963.4" cy="296.3" r="2.2" fill="#e0775f" stroke="#d37059"/><circle cx="725.4" cy="524.4" r="2.2" fill="#c9d9eb" stroke="#bdccdd"/><circle cx="665.3" cy="552.6" r="2.2" fill="#ed9576" stroke="#df8c6f"/><circle cx="676.9" cy="480.2" r="2.2" fill="#f5aa89" stroke="#e6a080"/><circle cx="651.5" cy="562.1" r="2.2" fill="#f7b89b" stroke="#e8ad91"/><circle cx="632" cy="465.5" r="2.2" fill="#fac7ae" stroke="#ebbba3"/><circle cx="888" cy="530.6" r="2.2" fill="#f09c7b" stroke="#e29273"/><circle cx="912.1" cy="393.4" r="2.2" fill="#f1eae9" stroke="#e3dcdb"/><circle cx="968.2" cy="375.5" r="2.2" fill="#f8e1d5" stroke="#e9d4c8"/><circle cx="668" cy="457.3" r="2.2" fill="#fbdecd" stroke="#ecd0c0"/><circle cx="919.3" cy="418" r="2.2" fill="#fcd4be" stroke="#edc7b3"/><circle cx="704.3" cy="537.3" r="2.2" fill="#f5ad8d" stroke="#e7a384"/><circle cx="932.8" cy="396.7" r="2.2" fill="#fcddca" stroke="#edcfbe"/><circle cx="637.5" cy="447.6" r="2.2" fill="#e98b6e" stroke="#db8368"/><circle cx="918.2" cy="494.7" r="2.2" fill="#f7e3d8" stroke="#e8d5cb"/><circle cx="960.1" cy="213.9" r="2.2" fill="#fac9b0" stroke="#ebbda5"/><circle cx="990.5" cy="372.2" r="2.2" fill="#eaecf0" stroke="#dcdde2"/><circle cx="899.2" cy="401" r="2.2" fill="#fac7ad" stroke="#ebbba3"/><circle cx="658.3" cy="439.4" r="2.2" fill="#e37f64" stroke="#d6775e"/><circle cx="876.7" cy="392.5" r="2.2" fill="#f6b293" stroke="#e7a88a"/><circle cx="882.1" cy="453.6" r="2.2" fill="#e5e9f0" stroke="#d8dbe1"/><circle cx="665.4" cy="592.7" r="2.2" fill="#d8e1ee" stroke="#cbd4e0"/><circle cx="848.1" cy="469" r="2.2" fill="#cd4d44" stroke="#c04940"/><circle cx="922.3" cy="320.6" r="2.2" fill="#c9d8eb" stroke="#bdcbdd"/><circle cx="649.7" cy="491.9" r="2.2" fill="#f7b495" stroke="#e8a98c"/><circle cx="667.6" cy="515.7" r="2.2" fill="#ed9576" stroke="#df8c6f"/><circle cx="868.2" cy="395.4" r="2.2" fill="#eeeef0" stroke="#e0dfe2"/><circle cx="731" cy="545.9" r="2.2" fill="#f6b192" stroke="#e7a789"/><circle cx="909.1" cy="348.7" r="2.2" fill="#e3e8f0" stroke="#d6dae1"/><circle cx="725.1" cy="520.6" r="2.2" fill="#f6b292" stroke="#e7a789"/><circle cx="626.5" cy="591.2" r="2.2" fill="#f8bb9e" stroke="#e9b094"/><circle cx="683.8" cy="544.6" r="2.2" fill="#f3a280" stroke="#e49878"/><circle cx="898.4" cy="415" r="2.2" fill="#f5a988" stroke="#e69f7f"/><circle cx="744.4" cy="508.5" r="2.2" fill="#e7876b" stroke="#d97f65"/><circle cx="919.7" cy="428" r="2.2" fill="#fadfcf" stroke="#ebd1c3"/><circle cx="645.3" cy="472.9" r="2.2" fill="#f6b293" stroke="#e7a88a"/><circle cx="644.3" cy="516.8" r="2.2" fill="#fcd5bf" stroke="#edc8b4"/><circle cx="703.5" cy="610" r="2.2" fill="#f7b596" stroke="#e8aa8d"/><circle cx="957.2" cy="246" r="2.2" fill="#f8e1d5" stroke="#e9d4c8"/><circle cx="967.8" cy="242.1" r="2.2" fill="#bdd1e8" stroke="#b2c5da"/><circle cx="934.5" cy="322.1" r="2.2" fill="#f4a784" stroke="#e69d7d"/><circle cx="667.5" cy="566.6" r="2.2" fill="#bd2d35" stroke="#b12a32"/><circle cx="683" cy="606.6" r="2.2" fill="#fac7ad" stroke="#ebbba3"/><circle cx="986.5" cy="271.3" r="2.2" fill="#e8ebf0" stroke="#dadde2"/><circle cx="688.3" cy="527.6" r="2.2" fill="#ee9777" stroke="#df8e70"/><circle cx="666" cy="589.8" r="2.2" fill="#fcd6c0" stroke="#edc9b5"/><circle cx="981.4" cy="257.4" r="2.2" fill="#fcd3bc" stroke="#ecc6b1"/><circle cx="638.2" cy="560.8" r="2.2" fill="#f6b191" stroke="#e7a688"/><circle cx="911.8" cy="409.7" r="2.2" fill="#bf3137" stroke="#b32e34"/><circle cx="661.4" cy="465.5" r="2.2" fill="#f7b99c" stroke="#e9ae93"/><circle cx="966.2" cy="222.4" r="2.2" fill="#dce4ef" stroke="#cfd6e0"/><circle cx="694.1" cy="586.8" r="2.2" fill="#bb2a34" stroke="#b02831"/><circle cx="720.6" cy="454.9" r="2.2" fill="#b72230" stroke="#ac202d"/><circle cx="690.5" cy="439.8" r="2.2" fill="#ea8d70" stroke="#dc8569"/><circle cx="692.3" cy="583.3" r="2.2" fill="#e98b6e" stroke="#db8267"/><circle cx="920.3" cy="351.7" r="2.2" fill="#fbd0b9" stroke="#ecc4ae"/><circle cx="652.2" cy="527.2" r="2.2" fill="#f9c5ab" stroke="#eab9a1"/><circle cx="641.5" cy="548.7" r="2.2" fill="#facab1" stroke="#ebbea6"/><circle cx="945.7" cy="285" r="2.2" fill="#f9e0d3" stroke="#ead3c6"/><circle cx="991.6" cy="315.5" r="2.2" fill="#f5e5dd" stroke="#e7d7cf"/><circle cx="937.6" cy="251.1" r="2.2" fill="#f4a886" stroke="#e69e7e"/><circle cx="935.2" cy="301" r="2.2" fill="#fcd3bd" stroke="#edc6b1"/><circle cx="865.6" cy="389.1" r="2.2" fill="#f9c0a5" stroke="#eab59b"/><circle cx="964" cy="433.8" r="2.2" fill="#f1eae8" stroke="#e3dcda"/><circle cx="933.1" cy="309.3" r="2.2" fill="#fcd4be" stroke="#edc7b3"/><circle cx="691.1" cy="597.8" r="2.2" fill="#f09c7b" stroke="#e29374"/><circle cx="896.1" cy="455.1" r="2.2" fill="#f5e5dd" stroke="#e6d7d0"/><circle cx="724.5" cy="558" r="2.2" fill="#e8eaf0" stroke="#dadce2"/><circle cx="902.9" cy="341.7" r="2.2" fill="#6b9cce" stroke="#6593c1"/><circle cx="643.7" cy="496.1" r="2.2" fill="#f9c1a6" stroke="#eab69c"/><circle cx="684.2" cy="526.7" r="2.2" fill="#facbb2" stroke="#ebbfa8"/><circle cx="935.6" cy="425" r="2.2" fill="#f9c2a7" stroke="#eab69d"/><circle cx="934.5" cy="215.5" r="2.2" fill="#699bcd" stroke="#6392c1"/><circle cx="933" cy="348.3" r="2.2" fill="#a3c1e1" stroke="#99b6d4"/><circle cx="929.5" cy="234.5" r="2.2" fill="#fcdcca" stroke="#edcfbe"/><circle cx="958.8" cy="343.5" r="2.2" fill="#dde4ef" stroke="#d0d7e0"/><circle cx="626.1" cy="546" r="2.2" fill="#fbd1ba" stroke="#ecc4af"/><circle cx="630.2" cy="447.3" r="2.2" fill="#f9c0a5" stroke="#eab59b"/><circle cx="889.2" cy="528" r="2.2" fill="#c8433f" stroke="#bc3f3c"/><circle cx="943.9" cy="402.2" r="2.2" fill="#fbceb6" stroke="#ecc1ab"/><circle cx="636.7" cy="432" r="2.2" fill="#df745c" stroke="#d16d57"/><circle cx="986.8" cy="278.5" r="2.2" fill="#facab1" stroke="#ebbea7"/><circle cx="969.3" cy="357.3" r="2.2" fill="#f1ebea" stroke="#e2dddc"/><circle cx="706.1" cy="484.4" r="2.2" fill="#c2383a" stroke="#b73537"/><circle cx="947.2" cy="370.3" r="2.2" fill="#e8896d" stroke="#da8166"/><circle cx="711.7" cy="548.9" r="2.2" fill="#f09d7c" stroke="#e29374"/><circle cx="990.1" cy="324.1" r="2.2" fill="#f6b495" stroke="#e8a98c"/><circle cx="856.6" cy="421.2" r="2.2" fill="#facbb2" stroke="#ebbea7"/><circle cx="694.7" cy="513.3" r="2.2" fill="#bc2c35" stroke="#b12a31"/><circle cx="632.7" cy="510.9" r="2.2" fill="#d3594a" stroke="#c65445"/><circle cx="847.3" cy="460.5" r="2.2" fill="#f8bca0" stroke="#e9b196"/><circle cx="983.8" cy="277.6" r="2.2" fill="#f8bfa3" stroke="#e9b399"/><circle cx="979.9" cy="393.3" r="2.2" fill="#b61f2e" stroke="#ab1d2c"/><circle cx="625.3" cy="509.3" r="2.2" fill="#c43d3c" stroke="#b93939"/><circle cx="937.9" cy="304.1" r="2.2" fill="#dfe6ef" stroke="#d2d8e1"/><circle cx="923.6" cy="351.9" r="2.2" fill="#f8bc9f" stroke="#e9b095"/><circle cx="691.8" cy="539.8" r="2.2" fill="#fbddcc" stroke="#ecd0c0"/><circle cx="843.1" cy="572.4" r="2.2" fill="#be3137" stroke="#b32e33"/><circle cx="662.1" cy="519.1" r="2.2" fill="#f4a785" stroke="#e69d7d"/><circle cx="966.1" cy="234.9" r="2.2" fill="#fcdcca" stroke="#edcfbe"/><circle cx="645" cy="429.7" r="2.2" fill="#f3a280" stroke="#e49978"/><circle cx="978.8" cy="358.6" r="2.2" fill="#fac7ae" stroke="#ebbba4"/><circle cx="636.6" cy="464" r="2.2" fill="#e8886c" stroke="#da8066"/><circle cx="952.5" cy="410.1" r="2.2" fill="#f2e9e7" stroke="#e3dbd9"/><circle cx="889.9" cy="403.4" r="2.2" fill="#fbd1ba" stroke="#ecc4af"/><circle cx="913.6" cy="399.3" r="2.2" fill="#f7b798" stroke="#e8ac8f"/><circle cx="930.2" cy="294.3" r="2.2" fill="#fbd1ba" stroke="#ecc4af"/><circle cx="925.8" cy="364.5" r="2.2" fill="#ec9273" stroke="#dd896c"/><circle cx="629.6" cy="483.3" r="2.2" fill="#b4cbe6" stroke="#a9bfd8"/><circle cx="978" cy="396.4" r="2.2" fill="#b3cbe6" stroke="#a9bfd8"/><circle cx="631.5" cy="554.7" r="2.2" fill="#bd2f36" stroke="#b22c32"/><circle cx="909.9" cy="403.3" r="2.2" fill="#dee5ef" stroke="#d1d7e1"/><circle cx="899.1" cy="291.2" r="2.2" fill="#afc8e4" stroke="#a4bcd7"/><circle cx="858.2" cy="417.6" r="2.2" fill="#f7ba9d" stroke="#e9af93"/><circle cx="653.9" cy="511.4" r="2.2" fill="#facbb2" stroke="#ebbfa7"/><circle cx="695.8" cy="617.7" r="2.2" fill="#f7ba9d" stroke="#e9af93"/><circle cx="930.4" cy="382.3" r="2.2" fill="#b4cce6" stroke="#a9bfd8"/><circle cx="969.7" cy="434.8" r="2.2" fill="#fbcfb7" stroke="#ecc2ac"/><circle cx="932.8" cy="317.3" r="2.2" fill="#b51e2e" stroke="#aa1c2b"/><circle cx="954.5" cy="253.4" r="2.2" fill="#fadfcf" stroke="#ebd1c3"/><circle cx="958" cy="239.9" r="2.2" fill="#a4c2e2" stroke="#9ab6d4"/><circle cx="952.2" cy="342.4" r="2.2" fill="#fcddcb" stroke="#ecd0bf"/><circle cx="663.8" cy="521.7" r="2.2" fill="#fddbc8" stroke="#edcebc"/><circle cx="637.4" cy="563.9" r="2.2" fill="#f6b495" stroke="#e8a98c"/><circle cx="699.1" cy="493.6" r="2.2" fill="#dd6f59" stroke="#cf6853"/><circle cx="699.5" cy="619.7" r="2.2" fill="#cf5246" stroke="#c34d42"/><circle cx="928.7" cy="387.7" r="2.2" fill="#d8e1ee" stroke="#cbd4e0"/><circle cx="957.2" cy="355.3" r="2.2" fill="#aac6e3" stroke="#a0bad6"/><circle cx="691.3" cy="620.2" r="2.2" fill="#b92632" stroke="#ae242f"/><circle cx="695.9" cy="543.8" r="2.2" fill="#f5a986" stroke="#e69e7e"/><circle cx="923.5" cy="285.8" r="2.2" fill="#f6b394" stroke="#e8a88b"/><circle cx="890.5" cy="378" r="2.2" fill="#ee9777" stroke="#e08e70"/><circle cx="846.3" cy="448.2" r="2.2" fill="#f8c0a4" stroke="#eab49a"/><circle cx="894.7" cy="538.7" r="2.2" fill="#f8e1d5" stroke="#e9d4c8"/><circle cx="906.1" cy="314.2" r="2.2" fill="#e1e7ef" stroke="#d4d9e1"/><circle cx="953" cy="356.3" r="2.2" fill="#f7b495" stroke="#e8a98c"/><circle cx="967.8" cy="420.5" r="2.2" fill="#ebecf1" stroke="#dddee2"/><circle cx="896.8" cy="409.5" r="2.2" fill="#a9c5e3" stroke="#9fb9d5"/><circle cx="982.3" cy="332.8" r="2.2" fill="#e2e7ef" stroke="#d4d9e1"/><circle cx="646.9" cy="533.9" r="2.2" fill="#f9c6ac" stroke="#eabaa1"/><circle cx="958.3" cy="369.6" r="2.2" fill="#fbdecd" stroke="#ecd0c0"/><circle cx="927" cy="219" r="2.2" fill="#e1e7ef" stroke="#d3d9e1"/><circle cx="668.6" cy="598.6" r="2.2" fill="#c43c3c" stroke="#b83838"/><circle cx="894.4" cy="547.4" r="2.2" fill="#fcdcc8" stroke="#edcebc"/><circle cx="854.3" cy="466" r="2.2" fill="#edeef1" stroke="#dfdfe2"/><circle cx="903.5" cy="323.5" r="2.2" fill="#dae3ee" stroke="#cdd5e0"/><circle cx="724.2" cy="463" r="2.2" fill="#f4a481" stroke="#e59a7a"/><circle cx="971" cy="400.8" r="2.2" fill="#f7ba9d" stroke="#e9af93"/><circle cx="858.2" cy="435.8" r="2.2" fill="#f4a583" stroke="#e59c7b"/><circle cx="854.3" cy="459" r="2.2" fill="#f8bb9f" stroke="#e9b095"/><circle cx="743.1" cy="484.3" r="2.2" fill="#d86651" stroke="#cb604c"/><circle cx="720.8" cy="605" r="2.2" fill="#bb2a34" stroke="#b02831"/><circle cx="670" cy="433" r="2.2" fill="#df745c" stroke="#d16d57"/><circle cx="893.4" cy="535" r="2.2" fill="#cc4d44" stroke="#c04840"/><circle cx="665.2" cy="455.5" r="2.2" fill="#fbddcb" stroke="#ecd0bf"/><circle cx="987.8" cy="300.6" r="2.2" fill="#f7e3d9" stroke="#e8d5cc"/><circle cx="958.4" cy="366.8" r="2.2" fill="#f0ebeb" stroke="#e2dddd"/><circle cx="647.7" cy="603.2" r="2.2" fill="#ed9575" stroke="#df8c6e"/><circle cx="682.8" cy="542" r="2.2" fill="#f6ae8e" stroke="#e7a485"/><circle cx="685.4" cy="584.5" r="2.2" fill="#e98d6f" stroke="#db8469"/><circle cx="899.2" cy="433.5" r="2.2" fill="#f5ad8d" stroke="#e7a384"/><circle cx="965.5" cy="317.6" r="2.2" fill="#fcd4be" stroke="#edc7b3"/><circle cx="979.1" cy="302.5" r="2.2" fill="#afc9e5" stroke="#a5bdd7"/><circle cx="944.4" cy="366.5" r="2.2" fill="#fcd7c2" stroke="#edcab6"/><circle cx="935.3" cy="281.2" r="2.2" fill="#f8e1d4" stroke="#e9d4c8"/><circle cx="855.8" cy="448.2" r="2.2" fill="#9ebee0" stroke="#95b3d3"/><circle cx="853.5" cy="438.1" r="2.2" fill="#8bb1d9" stroke="#82a7cc"/><circle cx="657.4" cy="572.2" r="2.2" fill="#f7b99b" stroke="#e8ae92"/><circle cx="907.6" cy="338.2" r="2.2" fill="#e4e9f0" stroke="#d7dbe1"/><circle cx="869" cy="416.9" r="2.2" fill="#f2a17f" stroke="#e49777"/><circle cx="712.6" cy="561.6" r="2.2" fill="#ed9576" stroke="#df8c6e"/><circle cx="921.4" cy="396.5" r="2.2" fill="#f8bfa3" stroke="#e9b399"/><circle cx="656.9" cy="426.6" r="2.2" fill="#e37f65" stroke="#d6775f"/><circle cx="964.4" cy="248.8" r="2.2" fill="#e98c6f" stroke="#db8468"/><circle cx="942.5" cy="272.8" r="2.2" fill="#f9c3a8" stroke="#eab79e"/><circle cx="902" cy="314.4" r="2.2" fill="#e8ebf0" stroke="#dadde2"/><circle cx="984.1" cy="263.3" r="2.2" fill="#b5cce6" stroke="#aac0d8"/><circle cx="695.5" cy="594.7" r="2.2" fill="#f8bea2" stroke="#e9b398"/><circle cx="963.8" cy="409.1" r="2.2" fill="#bdd2e8" stroke="#b2c5da"/><circle cx="957.7" cy="362.7" r="2.2" fill="#e0e6ef" stroke="#d2d8e1"/><circle cx="946.7" cy="222.5" r="2.2" fill="#f5ae8d" stroke="#e7a385"/><circle cx="916.1" cy="368" r="2.2" fill="#f8c0a4" stroke="#eab49b"/><circle cx="993.1" cy="349.8" r="2.2" fill="#d9e2ee" stroke="#ccd5e0"/><circle cx="643.7" cy="563.9" r="2.2" fill="#f19d7c" stroke="#e29474"/><circle cx="634.9" cy="568.6" r="2.2" fill="#fcd7c2" stroke="#edcab6"/><circle cx="654.7" cy="601" r="2.2" fill="#dd705a" stroke="#d06a54"/><circle cx="974.4" cy="311.7" r="2.2" fill="#fbd0b9" stroke="#ecc4ae"/><circle cx="665.6" cy="586.9" r="2.2" fill="#c13739" stroke="#b63336"/><circle cx="649.5" cy="526.6" r="2.2" fill="#da6853" stroke="#cd624e"/><circle cx="952.9" cy="282.9" r="2.2" fill="#fbceb6" stroke="#ecc2ab"/><circle cx="884.2" cy="351.6" r="2.2" fill="#f7b89a" stroke="#e8ad91"/><circle cx="693.4" cy="525.6" r="2.2" fill="#b92632" stroke="#ae242f"/><circle cx="955.3" cy="391.6" r="2.2" fill="#fbcdb5" stroke="#ecc1aa"/><circle cx="629.4" cy="569.6" r="2.2" fill="#facab1" stroke="#ebbea7"/><circle cx="665.1" cy="528.5" r="2.2" fill="#f09d7c" stroke="#e29374"/><circle cx="926.4" cy="397.1" r="2.2" fill="#fcd3bc" stroke="#edc6b1"/><circle cx="869.8" cy="458.7" r="2.2" fill="#e5e9f0" stroke="#d8dbe1"/><circle cx="894.5" cy="544.9" r="2.2" fill="#fadece" stroke="#ebd1c2"/><circle cx="709.5" cy="448.8" r="2.2" fill="#ed9676" stroke="#df8d6f"/><circle cx="944.6" cy="245" r="2.2" fill="#fcddca" stroke="#edcfbe"/><circle cx="694.5" cy="503.4" r="2.2" fill="#ea8e70" stroke="#dc866a"/><circle cx="916.2" cy="271.5" r="2.2" fill="#dd715a" stroke="#d06a55"/><circle cx="908.5" cy="361.5" r="2.2" fill="#ba2933" stroke="#af2630"/><circle cx="896.1" cy="392.5" r="2.2" fill="#e2e7ef" stroke="#d5d9e1"/><circle cx="695.2" cy="451.5" r="2.2" fill="#f09b7a" stroke="#e19273"/><circle cx="959.1" cy="389.1" r="2.2" fill="#e6eaf0" stroke="#d8dce2"/><circle cx="922.4" cy="365.6" r="2.2" fill="#f7b799" stroke="#e8ac90"/><circle cx="658.5" cy="599.6" r="2.2" fill="#f7b698" stroke="#e8ab8f"/><circle cx="651.6" cy="535.4" r="2.2" fill="#f19d7c" stroke="#e29474"/><circle cx="710.1" cy="510.3" r="2.2" fill="#dd7059" stroke="#d06954"/><circle cx="884.4" cy="402.6" r="2.2" fill="#b6cde6" stroke="#abc1d8"/><circle cx="991" cy="269.8" r="2.2" fill="#f8bfa3" stroke="#e9b399"/><circle cx="651.8" cy="576.8" r="2.2" fill="#d96752" stroke="#cc614d"/><circle cx="705" cy="489" r="2.2" fill="#ba2832" stroke="#af252f"/><circle cx="653.2" cy="486.4" r="2.2" fill="#fadfd0" stroke="#ebd2c3"/><circle cx="914.7" cy="267.9" r="2.2" fill="#9abbdf" stroke="#91b0d1"/><circle cx="636.5" cy="524.7" r="2.2" fill="#f5aa88" stroke="#e6a080"/><circle cx="655.8" cy="581.7" r="2.2" fill="#e7eaf0" stroke="#d9dce2"/><circle cx="687.7" cy="530.9" r="2.2" fill="#f7ba9d" stroke="#e9af93"/><circle cx="625" cy="498.5" r="2.2" fill="#e17960" stroke="#d3725a"/><circle cx="691.8" cy="575.6" r="2.2" fill="#fcd3bd" stroke="#edc7b2"/><circle cx="616.1" cy="522.8" r="2.2" fill="#fac7ae" stroke="#ebbca4"/><circle cx="892" cy="329.7" r="2.2" fill="#efeced" stroke="#e1dedf"/><circle cx="642.6" cy="493" r="2.2" fill="#fac8af" stroke="#ebbca5"/><circle cx="878.7" cy="367.5" r="2.2" fill="#f8e2d6" stroke="#e9d4ca"/><circle cx="621.3" cy="504.6" r="2.2" fill="#f7b798" stroke="#e8ac8f"/><circle cx="910.2" cy="407.2" r="2.2" fill="#f8bb9e" stroke="#e9b095"/><circle cx="959.6" cy="296.3" r="2.2" fill="#f9c2a7" stroke="#eab69d"/><circle cx="934.6" cy="351" r="2.2" fill="#e1e6ef" stroke="#d3d9e1"/><circle cx="908.9" cy="353.9" r="2.2" fill="#e27b62" stroke="#d4735c"/><circle cx="694" cy="535.5" r="2.2" fill="#fddbc7" stroke="#eecebb"/><circle cx="701.4" cy="582.3" r="2.2" fill="#db6c56" stroke="#ce6551"/><circle cx="657.1" cy="585.9" r="2.2" fill="#e0765e" stroke="#d26f58"/><circle cx="930.1" cy="374.7" r="2.2" fill="#f3e7e2" stroke="#e5d9d5"/><circle cx="953.3" cy="416.9" r="2.2" fill="#aec8e4" stroke="#a3bcd6"/><circle cx="678.3" cy="426" r="2.2" fill="#c53f3d" stroke="#ba3b3a"/><circle cx="954.8" cy="387" r="2.2" fill="#6f9fcf" stroke="#6995c3"/><circle cx="919.2" cy="236.1" r="2.2" fill="#fadfcf" stroke="#ebd1c3"/><circle cx="925.1" cy="340.5" r="2.2" fill="#f5ac8c" stroke="#e7a283"/><circle cx="682.4" cy="530.3" r="2.2" fill="#f3e7e2" stroke="#e5d9d4"/><circle cx="983.4" cy="301.3" r="2.2" fill="#f7b698" stroke="#e8ab8f"/><circle cx="965.1" cy="381.9" r="2.2" fill="#e6e9f0" stroke="#d8dbe2"/><circle cx="973.5" cy="370" r="2.2" fill="#fcd4be" stroke="#edc7b2"/><circle cx="954" cy="394.2" r="2.2" fill="#bfd2e8" stroke="#b3c6db"/><circle cx="864.6" cy="402" r="2.2" fill="#fcd6c1" stroke="#edc9b5"/><circle cx="730.2" cy="519.1" r="2.2" fill="#be3137" stroke="#b32e33"/><circle cx="741.7" cy="478.2" r="2.2" fill="#e98b6e" stroke="#db8267"/><circle cx="661.8" cy="537" r="2.2" fill="#b92732" stroke="#ae252f"/><circle cx="697.1" cy="495.8" r="2.2" fill="#fbcdb6" stroke="#ecc1ab"/><circle cx="720.5" cy="533.9" r="2.2" fill="#fdd8c4" stroke="#edcbb8"/><circle cx="656.6" cy="485.8" r="2.2" fill="#f5aa89" stroke="#e6a080"/><circle cx="668.6" cy="595.4" r="2.2" fill="#b92531" stroke="#ae232e"/><circle cx="978.6" cy="245.7" r="2.2" fill="#fcdcca" stroke="#edcfbd"/><circle cx="643.7" cy="555.4" r="2.2" fill="#fbcfb8" stroke="#ecc3ad"/><circle cx="967.6" cy="437.1" r="2.2" fill="#f4e6e0" stroke="#e5d8d2"/><circle cx="943.1" cy="440.4" r="2.2" fill="#f9c5ab" stroke="#eab9a0"/><circle cx="683.3" cy="481.5" r="2.2" fill="#c03438" stroke="#b43035"/><circle cx="944.9" cy="352.5" r="2.2" fill="#d8e1ee" stroke="#cbd4e0"/><circle cx="950" cy="281.8" r="2.2" fill="#e3e8f0" stroke="#d6dae1"/><circle cx="961.8" cy="384.2" r="2.2" fill="#f8c0a4" stroke="#eab49b"/><circle cx="921.9" cy="383.1" r="2.2" fill="#fcd4be" stroke="#edc7b2"/><circle cx="919.6" cy="394" r="2.2" fill="#c0d3e9" stroke="#b5c7db"/><circle cx="697.4" cy="516.8" r="2.2" fill="#f09b7a" stroke="#e19273"/><circle cx="987.5" cy="328.9" r="2.2" fill="#92b6dc" stroke="#89abce"/><circle cx="665.4" cy="571.8" r="2.2" fill="#b6202f" stroke="#ab1e2c"/><circle cx="692" cy="545.4" r="2.2" fill="#f7b89b" stroke="#e8ad91"/><circle cx="897.6" cy="429.7" r="2.2" fill="#fac9b0" stroke="#ebbda5"/><circle cx="961.5" cy="228.4" r="2.2" fill="#f5e5dd" stroke="#e7d7cf"/><circle cx="856.6" cy="471.6" r="2.2" fill="#fcdcc9" stroke="#edcfbd"/><circle cx="956.7" cy="268" r="2.2" fill="#e2e7ef" stroke="#d5d9e1"/><circle cx="927.4" cy="319" r="2.2" fill="#dfe5ef" stroke="#d2d8e1"/><circle cx="953.2" cy="272.4" r="2.2" fill="#e98c6f" stroke="#db8368"/><circle cx="681.7" cy="553.3" r="2.2" fill="#fac7ae" stroke="#ebbba3"/><circle cx="956.3" cy="417.1" r="2.2" fill="#fdd9c4" stroke="#edccb8"/><circle cx="936.1" cy="334.3" r="2.2" fill="#dae3ee" stroke="#cdd5e0"/><circle cx="938.1" cy="319.1" r="2.2" fill="#b31a2c" stroke="#a81829"/><circle cx="629.1" cy="527.8" r="2.2" fill="#fac8af" stroke="#ebbca4"/><circle cx="953.2" cy="327.7" r="2.2" fill="#fac7ad" stroke="#ebbba3"/><circle cx="692.6" cy="606.4" r="2.2" fill="#f7b99b" stroke="#e8ae92"/><circle cx="675.5" cy="472.9" r="2.2" fill="#f6ae8e" stroke="#e7a485"/><circle cx="896.5" cy="332.2" r="2.2" fill="#abc6e3" stroke="#a1bad6"/><circle cx="930.8" cy="369.6" r="2.2" fill="#8bb1d9" stroke="#83a7cc"/><circle cx="614.4" cy="525.9" r="2.2" fill="#dc6d57" stroke="#cf6752"/><circle cx="662.6" cy="546.2" r="2.2" fill="#f6b090" stroke="#e7a688"/><circle cx="962.8" cy="358.9" r="2.2" fill="#fcdcca" stroke="#edcfbe"/><circle cx="723.3" cy="568.7" r="2.2" fill="#e27d63" stroke="#d5755d"/><circle cx="894.6" cy="349.7" r="2.2" fill="#f8bea2" stroke="#e9b399"/><circle cx="968.5" cy="292.3" r="2.2" fill="#f1eae8" stroke="#e3dcdb"/><circle cx="875.2" cy="414.2" r="2.2" fill="#f0ebeb" stroke="#e2dddd"/><circle cx="723" cy="552" r="2.2" fill="#f7b89b" stroke="#e8ad92"/><circle cx="932.3" cy="390.3" r="2.2" fill="#e98b6e" stroke="#db8367"/><circle cx="724.6" cy="477.3" r="2.2" fill="#d45b4b" stroke="#c75646"/><circle cx="684.8" cy="532" r="2.2" fill="#f4a885" stroke="#e69e7d"/><circle cx="961.3" cy="323.9" r="2.2" fill="#bd2e35" stroke="#b22b32"/><circle cx="879.7" cy="386.6" r="2.2" fill="#e48166" stroke="#d77960"/><circle cx="625.6" cy="480.7" r="2.2" fill="#fbceb7" stroke="#ecc2ac"/><circle cx="925.2" cy="453.4" r="2.2" fill="#aac6e3" stroke="#a0bad6"/><circle cx="721.5" cy="504.5" r="2.2" fill="#ee9878" stroke="#e08f71"/><circle cx="955.4" cy="242" r="2.2" fill="#dee5ef" stroke="#d1d7e1"/><circle cx="849.7" cy="445.9" r="2.2" fill="#f19e7d" stroke="#e39575"/><circle cx="929.4" cy="283.8" r="2.2" fill="#dae3ee" stroke="#cdd5e0"/><circle cx="923.3" cy="370" r="2.2" fill="#f7b697" stroke="#e8ab8e"/><circle cx="652.1" cy="441.3" r="2.2" fill="#d96752" stroke="#cc614d"/><circle cx="954.8" cy="414" r="2.2" fill="#fbccb4" stroke="#ecc0a9"/><circle cx="658.1" cy="469.8" r="2.2" fill="#ec9475" stroke="#de8b6e"/><circle cx="951.5" cy="419.9" r="2.2" fill="#d7e1ee" stroke="#cbd4e0"/><circle cx="707.3" cy="447" r="2.2" fill="#fadfd0" stroke="#ebd1c3"/><circle cx="973" cy="223.4" r="2.2" fill="#f9c4aa" stroke="#eab8a0"/><circle cx="947.4" cy="351" r="2.2" fill="#f6b495" stroke="#e8a98c"/><circle cx="670" cy="604.7" r="2.2" fill="#d55e4c" stroke="#c85847"/><circle cx="659.6" cy="481.4" r="2.2" fill="#facbb2" stroke="#ebbfa8"/><circle cx="939.4" cy="194.8" r="2.2" fill="#e8896d" stroke="#da8166"/><circle cx="887.7" cy="509.1" r="2.2" fill="#e6e9f0" stroke="#d8dbe2"/><circle cx="692" cy="497.4" r="2.2" fill="#f4a583" stroke="#e59b7b"/><circle cx="994.8" cy="293.8" r="2.2" fill="#facab1" stroke="#ebbea6"/><circle cx="723.5" cy="449.1" r="2.2" fill="#ef9978" stroke="#e08f71"/><circle cx="662.4" cy="543.3" r="2.2" fill="#f9c2a7" stroke="#eab69d"/><circle cx="970.7" cy="277.2" r="2.2" fill="#e7886b" stroke="#d98065"/><circle cx="933.1" cy="339.6" r="2.2" fill="#d96853" stroke="#cc624e"/><circle cx="954.7" cy="340" r="2.2" fill="#ec9273" stroke="#de896c"/><circle cx="713.2" cy="539.5" r="2.2" fill="#fbcfb7" stroke="#ecc2ac"/><circle cx="727.3" cy="480.8" r="2.2" fill="#ef9979" stroke="#e19072"/><circle cx="645.8" cy="519.7" r="2.2" fill="#f8bb9e" stroke="#e9b095"/><circle cx="701.5" cy="453.5" r="2.2" fill="#e2e7ef" stroke="#d4d9e1"/><circle cx="686.2" cy="453.4" r="2.2" fill="#f9c1a5" stroke="#eab59b"/><circle cx="976" cy="407.8" r="2.2" fill="#aac5e3" stroke="#a0b9d5"/><circle cx="921" cy="264.1" r="2.2" fill="#e9ebf0" stroke="#dbdde2"/><circle cx="729.9" cy="482.6" r="2.2" fill="#c33a3b" stroke="#b73738"/><circle cx="917.3" cy="252" r="2.2" fill="#fcddca" stroke="#edcfbe"/><circle cx="974.3" cy="299.3" r="2.2" fill="#f2e9e6" stroke="#e3dbd9"/><circle cx="728.4" cy="472.1" r="2.2" fill="#bd2e36" stroke="#b22c32"/><circle cx="699.2" cy="549.3" r="2.2" fill="#c3393b" stroke="#b73637"/><circle cx="887.6" cy="397.1" r="2.2" fill="#e2e7ef" stroke="#d5dae1"/><circle cx="643.6" cy="434.5" r="2.2" fill="#de725a" stroke="#d06b55"/><circle cx="916.3" cy="274.7" r="2.2" fill="#f9c2a7" stroke="#eab69d"/><circle cx="886.5" cy="454.4" r="2.2" fill="#eeeef1" stroke="#dfe0e2"/><circle cx="701.5" cy="517.8" r="2.2" fill="#d05447" stroke="#c34f43"/><circle cx="972.2" cy="251.1" r="2.2" fill="#dee5ef" stroke="#d0d7e1"/><circle cx="653.2" cy="543" r="2.2" fill="#be3036" stroke="#b32d33"/><circle cx="919.5" cy="298" r="2.2" fill="#fcd6c1" stroke="#edc9b5"/><circle cx="619.2" cy="508.7" r="2.2" fill="#f4a683" stroke="#e59c7b"/><circle cx="736" cy="585.4" r="2.2" fill="#e98c6f" stroke="#db8368"/><circle cx="711.7" cy="530.5" r="2.2" fill="#f5a987" stroke="#e69f7f"/><circle cx="659.3" cy="448.3" r="2.2" fill="#fac9b0" stroke="#ebbda6"/><circle cx="697" cy="464.6" r="2.2" fill="#f5a987" stroke="#e69f7f"/><circle cx="967.6" cy="277.8" r="2.2" fill="#edeef1" stroke="#dfdfe2"/><circle cx="633.6" cy="456.1" r="2.2" fill="#ea8f71" stroke="#dc866a"/><circle cx="929.1" cy="428.6" r="2.2" fill="#fac7ad" stroke="#ebbba2"/><circle cx="659" cy="494.5" r="2.2" fill="#fbcfb7" stroke="#ecc2ac"/><circle cx="704.2" cy="548.2" r="2.2" fill="#e27d63" stroke="#d5755d"/><circle cx="616.9" cy="488.8" r="2.2" fill="#e37e64" stroke="#d5765e"/><circle cx="883.9" cy="531.2" r="2.2" fill="#e8896d" stroke="#da8166"/><circle cx="903.1" cy="334.5" r="2.2" fill="#bc2c35" stroke="#b12931"/><circle cx="944.7" cy="229.7" r="2.2" fill="#fac9b0" stroke="#ebbda5"/><circle cx="945.6" cy="456.5" r="2.2" fill="#fcd8c3" stroke="#edcbb7"/><circle cx="714.3" cy="556.1" r="2.2" fill="#c6403e" stroke="#ba3c3a"/><circle cx="932.8" cy="212.5" r="2.2" fill="#fdd9c4" stroke="#edccb8"/><circle cx="922.8" cy="414.9" r="2.2" fill="#f1eae7" stroke="#e3dcda"/><circle cx="950.4" cy="242" r="2.2" fill="#a7c3e2" stroke="#9db8d5"/><circle cx="898.8" cy="333.8" r="2.2" fill="#fcd6c0" stroke="#edc9b5"/><circle cx="695.2" cy="578.6" r="2.2" fill="#e88a6d" stroke="#da8267"/><circle cx="968.6" cy="250.6" r="2.2" fill="#f2eae7" stroke="#e3dcd9"/><circle cx="668.2" cy="611.9" r="2.2" fill="#f7b99b" stroke="#e8ae92"/><circle cx="658" cy="478.4" r="2.2" fill="#f6e4da" stroke="#e7d6cd"/><circle cx="954.6" cy="244.7" r="2.2" fill="#bf3237" stroke="#b42f34"/><circle cx="937.5" cy="248.1" r="2.2" fill="#e9ebf0" stroke="#dbdde2"/><circle cx="962.6" cy="379.6" r="2.2" fill="#e9ebf0" stroke="#dbdde2"/><circle cx="673.7" cy="537.8" r="2.2" fill="#ed9676" stroke="#df8d6f"/><circle cx="648.6" cy="536.6" r="2.2" fill="#fbddcc" stroke="#ecd0c0"/><circle cx="957.1" cy="333.1" r="2.2" fill="#f7b597" stroke="#e8ab8e"/><circle cx="743.3" cy="495.5" r="2.2" fill="#b82330" stroke="#ad212d"/><circle cx="689.7" cy="464.9" r="2.2" fill="#fadfcf" stroke="#ebd1c3"/><circle cx="689.9" cy="457.6" r="2.2" fill="#fcd4be" stroke="#edc7b2"/><circle cx="691.3" cy="513" r="2.2" fill="#f7e2d7" stroke="#e8d5ca"/><circle cx="702" cy="491.7" r="2.2" fill="#f19f7d" stroke="#e39576"/><circle cx="682.8" cy="618.9" r="2.2" fill="#e68469" stroke="#d87c63"/><circle cx="941.8" cy="300.6" r="2.2" fill="#b4cbe6" stroke="#a9bfd8"/><circle cx="914.3" cy="352.5" r="2.2" fill="#dae3ee" stroke="#cdd5e0"/><circle cx="971.4" cy="266" r="2.2" fill="#f8bea2" stroke="#e9b399"/><circle cx="943.6" cy="466.8" r="2.2" fill="#f7e3d9" stroke="#e8d6cc"/><circle cx="631.1" cy="478.1" r="2.2" fill="#f5ad8c" stroke="#e7a283"/><circle cx="677.4" cy="543.8" r="2.2" fill="#fcd3bd" stroke="#edc7b2"/><circle cx="917.9" cy="325.2" r="2.2" fill="#f5ac8a" stroke="#e6a182"/><circle cx="636.3" cy="572.1" r="2.2" fill="#fbccb4" stroke="#ecc0aa"/><circle cx="735.6" cy="475.9" r="2.2" fill="#f8bfa3" stroke="#e9b499"/><circle cx="962.6" cy="376.5" r="2.2" fill="#fbcdb5" stroke="#ecc1ab"/><circle cx="915.6" cy="412.1" r="2.2" fill="#ebecf1" stroke="#dddee2"/><circle cx="638.2" cy="569" r="2.2" fill="#d05347" stroke="#c34e43"/><circle cx="918.1" cy="282.8" r="2.2" fill="#fac8af" stroke="#ebbca4"/><circle cx="906.4" cy="324.5" r="2.2" fill="#e8eaf0" stroke="#dadce2"/><circle cx="704.6" cy="453.5" r="2.2" fill="#e0775f" stroke="#d37059"/><circle cx="638.6" cy="593.6" r="2.2" fill="#f7ba9d" stroke="#e9af93"/><circle cx="968.6" cy="307.4" r="2.2" fill="#b82531" stroke="#ad222e"/><circle cx="888.2" cy="367.2" r="2.2" fill="#fddac6" stroke="#eecdba"/><circle cx="664.6" cy="492.3" r="2.2" fill="#fadfd1" stroke="#ebd2c4"/><circle cx="894.5" cy="458.7" r="2.2" fill="#fcd7c2" stroke="#edcab7"/><circle cx="921.4" cy="425.2" r="2.2" fill="#f9c4aa" stroke="#eab9a0"/><circle cx="658.3" cy="504.1" r="2.2" fill="#f6b293" stroke="#e7a88a"/><circle cx="653.6" cy="585.6" r="2.2" fill="#f8bea2" stroke="#e9b399"/><circle cx="986.1" cy="275.5" r="2.2" fill="#f5aa89" stroke="#e6a080"/><circle cx="704.7" cy="450.2" r="2.2" fill="#fbcfb8" stroke="#ecc3ad"/><circle cx="883.7" cy="415.7" r="2.2" fill="#fbcdb6" stroke="#ecc1ab"/><circle cx="715.7" cy="572.3" r="2.2" fill="#f2a17f" stroke="#e49777"/><circle cx="633" cy="453.5" r="2.2" fill="#f6b091" stroke="#e7a688"/><circle cx="673.5" cy="579.6" r="2.2" fill="#f7b99c" stroke="#e9ae92"/><circle cx="690.1" cy="609.2" r="2.2" fill="#db6c56" stroke="#ce6651"/><circle cx="941.6" cy="305.1" r="2.2" fill="#a8c4e3" stroke="#9eb9d5"/><circle cx="921.6" cy="391.3" r="2.2" fill="#efeced" stroke="#e1dedf"/><circle cx="857.4" cy="429.7" r="2.2" fill="#a4c2e2" stroke="#9bb6d4"/><circle cx="934.9" cy="319.3" r="2.2" fill="#d8e2ee" stroke="#cbd4e0"/><circle cx="849.4" cy="567.8" r="2.2" fill="#f6af8e" stroke="#e7a486"/><circle cx="989.3" cy="275.8" r="2.2" fill="#f8bda1" stroke="#e9b297"/><circle cx="934.6" cy="220.7" r="2.2" fill="#fddac6" stroke="#eecdba"/><circle cx="921.7" cy="309.9" r="2.2" fill="#bcd1e8" stroke="#b1c4da"/><circle cx="672.1" cy="516.6" r="2.2" fill="#f8ba9d" stroke="#e9af94"/><circle cx="944.3" cy="425.4" r="2.2" fill="#f8bb9e" stroke="#e9b094"/><circle cx="848.1" cy="462.8" r="2.2" fill="#dce4ef" stroke="#ced6e0"/><circle cx="648" cy="598.6" r="2.2" fill="#fddcc8" stroke="#edcebc"/><circle cx="936.4" cy="471.8" r="2.2" fill="#70a0d0" stroke="#6a96c3"/><circle cx="975.5" cy="389.6" r="2.2" fill="#fcd7c2" stroke="#edcab6"/><circle cx="896.3" cy="341.2" r="2.2" fill="#fadfd0" stroke="#ebd1c3"/><circle cx="940" cy="239.9" r="2.2" fill="#fbcdb5" stroke="#ecc0aa"/><circle cx="900.9" cy="386.3" r="2.2" fill="#fbcdb5" stroke="#ecc0aa"/><circle cx="928.1" cy="338.7" r="2.2" fill="#dae3ee" stroke="#cdd5e0"/><circle cx="978.7" cy="390.2" r="2.2" fill="#e0e6ef" stroke="#d2d8e1"/><circle cx="942.3" cy="422.2" r="2.2" fill="#d7624e" stroke="#ca5c4a"/><circle cx="924.6" cy="311.9" r="2.2" fill="#f8bfa3" stroke="#e9b49a"/><circle cx="897.9" cy="545.7" r="2.2" fill="#b2192b" stroke="#a81729"/><circle cx="730.8" cy="451.9" r="2.2" fill="#f7b597" stroke="#e8aa8e"/><circle cx="684.6" cy="589.1" r="2.2" fill="#fbd2bb" stroke="#ecc5b0"/><circle cx="946.4" cy="453.1" r="2.2" fill="#e98b6e" stroke="#db8367"/><circle cx="724.2" cy="472.7" r="2.2" fill="#fdd9c4" stroke="#eeccb9"/><circle cx="676.9" cy="463.7" r="2.2" fill="#f5aa88" stroke="#e69f80"/><circle cx="653.5" cy="557.1" r="2.2" fill="#ee9878" stroke="#e08f71"/><circle cx="686.8" cy="512.9" r="2.2" fill="#e37e64" stroke="#d5775e"/><circle cx="736.9" cy="543.5" r="2.2" fill="#f8bda1" stroke="#e9b297"/><circle cx="659.3" cy="591.6" r="2.2" fill="#b92732" stroke="#ae242f"/><circle cx="932.8" cy="332.9" r="2.2" fill="#f6ae8e" stroke="#e7a486"/><circle cx="677.3" cy="585.2" r="2.2" fill="#c2383a" stroke="#b63436"/><circle cx="722" cy="602.1" r="2.2" fill="#be3137" stroke="#b32e34"/><circle cx="719.3" cy="447" r="2.2" fill="#f7b496" stroke="#e8a98d"/><circle cx="668.7" cy="471.8" r="2.2" fill="#e68469" stroke="#d87c62"/><circle cx="688.7" cy="582.5" r="2.2" fill="#e88a6d" stroke="#da8166"/><circle cx="625.2" cy="464.8" r="2.2" fill="#f7b89a" stroke="#e8ad91"/><circle cx="657.7" cy="445.9" r="2.2" fill="#fbcdb5" stroke="#ecc1aa"/><circle cx="969.2" cy="222.9" r="2.2" fill="#b4cbe6" stroke="#a9bfd8"/><circle cx="918.3" cy="387.9" r="2.2" fill="#fddbc8" stroke="#eecebc"/><circle cx="929.8" cy="355.2" r="2.2" fill="#aac5e3" stroke="#a0b9d5"/><circle cx="916.1" cy="249.5" r="2.2" fill="#da6853" stroke="#cd624e"/><circle cx="656.3" cy="543.3" r="2.2" fill="#ec9475" stroke="#de8b6e"/><circle cx="642.7" cy="452.7" r="2.2" fill="#fcd4be" stroke="#edc7b3"/><circle cx="838.9" cy="574.3" r="2.2" fill="#e88a6d" stroke="#da8267"/><circle cx="707.7" cy="551.8" r="2.2" fill="#f5ac8b" stroke="#e6a283"/><circle cx="919.4" cy="414.9" r="2.2" fill="#f6e3d9" stroke="#e8d6cc"/><circle cx="910.9" cy="356.3" r="2.2" fill="#f5ad8d" stroke="#e7a384"/><circle cx="959.5" cy="449.9" r="2.2" fill="#fcdcca" stroke="#edcfbe"/><circle cx="709.9" cy="434.1" r="2.2" fill="#e17a61" stroke="#d4725b"/><circle cx="716" cy="600.9" r="2.2" fill="#f8bb9e" stroke="#e9af94"/><circle cx="647.7" cy="544.2" r="2.2" fill="#e8886c" stroke="#da8066"/><circle cx="984.3" cy="298.1" r="2.2" fill="#e3e8f0" stroke="#d5dae1"/><circle cx="953.9" cy="459.3" r="2.2" fill="#fcdcca" stroke="#edcfbe"/><circle cx="888" cy="523.4" r="2.2" fill="#eb9173" stroke="#dd896c"/><circle cx="893.4" cy="531.2" r="2.2" fill="#f5a886" stroke="#e69e7e"/><circle cx="968.6" cy="324.4" r="2.2" fill="#a0bfe1" stroke="#96b4d3"/><circle cx="970.1" cy="331.3" r="2.2" fill="#a4c2e2" stroke="#9ab6d4"/><circle cx="925" cy="290.6" r="2.2" fill="#c5d6ea" stroke="#b9c9dc"/><circle cx="645.7" cy="552.2" r="2.2" fill="#f5a988" stroke="#e69f80"/><circle cx="619.8" cy="541.6" r="2.2" fill="#e88a6d" stroke="#da8267"/><circle cx="714.2" cy="597.7" r="2.2" fill="#f5ab89" stroke="#e6a181"/><circle cx="938.5" cy="370.3" r="2.2" fill="#ea8d70" stroke="#dc8569"/><circle cx="945.3" cy="327.9" r="2.2" fill="#fcdcc9" stroke="#edcfbd"/><circle cx="642.4" cy="527" r="2.2" fill="#fbd2bb" stroke="#ecc5b0"/><circle cx="688.9" cy="612.3" r="2.2" fill="#f6af8f" stroke="#e7a486"/><circle cx="968.5" cy="423.9" r="2.2" fill="#b1cae5" stroke="#a7bed7"/><circle cx="719.5" cy="597.1" r="2.2" fill="#f9c3a9" stroke="#eab89f"/><circle cx="908.8" cy="334" r="2.2" fill="#fadfd0" stroke="#ebd2c3"/><circle cx="976.9" cy="341.2" r="2.2" fill="#f8bb9e" stroke="#e9af94"/><circle cx="695.7" cy="560.9" r="2.2" fill="#e88a6d" stroke="#da8267"/><circle cx="646.3" cy="525.2" r="2.2" fill="#c53f3d" stroke="#ba3b3a"/><circle cx="970.7" cy="369.8" r="2.2" fill="#fbcfb8" stroke="#ecc3ad"/><circle cx="715.8" cy="515.9" r="2.2" fill="#f3a481" stroke="#e59a79"/><circle cx="905.1" cy="362.4" r="2.2" fill="#e7eaf0" stroke="#d9dce2"/><circle cx="665.4" cy="463.9" r="2.2" fill="#ba2832" stroke="#af252f"/><circle cx="961.3" cy="293.5" r="2.2" fill="#fbd1ba" stroke="#ecc5af"/><circle cx="962.5" cy="221.9" r="2.2" fill="#f5aa88" stroke="#e6a080"/><circle cx="636.6" cy="583.4" r="2.2" fill="#c2383a" stroke="#b63537"/><circle cx="653.8" cy="546.7" r="2.2" fill="#f9c1a6" stroke="#eab59c"/><circle cx="913.4" cy="324.9" r="2.2" fill="#e37e64" stroke="#d6775e"/><circle cx="704.1" cy="616.6" r="2.2" fill="#bf3338" stroke="#b43034"/><circle cx="724.3" cy="605.5" r="2.2" fill="#f9c3a8" stroke="#eab79e"/><circle cx="659.8" cy="506.6" r="2.2" fill="#da6a54" stroke="#cd634f"/><circle cx="635.9" cy="600.5" r="2.2" fill="#d35b4b" stroke="#c75546"/><circle cx="950.4" cy="278.2" r="2.2" fill="#efeced" stroke="#e1dedf"/><circle cx="705.2" cy="519.7" r="2.2" fill="#f19d7c" stroke="#e29475"/><circle cx="652.3" cy="476.4" r="2.2" fill="#f5a886" stroke="#e69e7e"/><circle cx="930.8" cy="453.6" r="2.2" fill="#f5ac8c" stroke="#e7a283"/><circle cx="975.8" cy="323.3" r="2.2" fill="#fcddcb" stroke="#edcfbf"/><circle cx="900" cy="502.1" r="2.2" fill="#fcd7c1" stroke="#edcab6"/><circle cx="718.8" cy="451.8" r="2.2" fill="#f7b89b" stroke="#e8ad91"/><circle cx="939.7" cy="208.8" r="2.2" fill="#fbd1ba" stroke="#ecc4af"/><circle cx="652.1" cy="425.9" r="2.2" fill="#ee9878" stroke="#e08f71"/><circle cx="680.7" cy="468.8" r="2.2" fill="#fac9b0" stroke="#ebbda6"/><circle cx="905.9" cy="419.1" r="2.2" fill="#fcd4bd" stroke="#edc7b2"/><circle cx="690.9" cy="501" r="2.2" fill="#df755d" stroke="#d26e58"/><circle cx="734.1" cy="548.5" r="2.2" fill="#fac8af" stroke="#ebbca5"/><circle cx="907.8" cy="440.2" r="2.2" fill="#fcd2bc" stroke="#ecc6b0"/><circle cx="940.3" cy="354.6" r="2.2" fill="#f5ac8b" stroke="#e6a283"/><circle cx="690.9" cy="493.7" r="2.2" fill="#f7b596" stroke="#e8aa8d"/><circle cx="687.7" cy="509.8" r="2.2" fill="#f9e0d1" stroke="#ead2c4"/><circle cx="662.5" cy="595.7" r="2.2" fill="#f9c5ab" stroke="#eab9a1"/><circle cx="934.8" cy="384.4" r="2.2" fill="#fdd9c4" stroke="#edccb9"/><circle cx="974.9" cy="396.5" r="2.2" fill="#f6af8e" stroke="#e7a486"/><circle cx="863.5" cy="423.5" r="2.2" fill="#9ebee0" stroke="#95b3d3"/><circle cx="979.8" cy="346.8" r="2.2" fill="#fac9b0" stroke="#ebbda6"/><circle cx="899.2" cy="422.7" r="2.2" fill="#dd715a" stroke="#d06a55"/><circle cx="879.1" cy="448.2" r="2.2" fill="#fbddcc" stroke="#ecd0c0"/><circle cx="903" cy="360.5" r="2.2" fill="#f9c1a6" stroke="#eab69c"/><circle cx="916.5" cy="259.5" r="2.2" fill="#fbcfb8" stroke="#ecc2ad"/><circle cx="650.7" cy="580.5" r="2.2" fill="#faccb4" stroke="#ebc0a9"/><circle cx="885.3" cy="527.8" r="2.2" fill="#f9e0d2" stroke="#ead3c6"/><circle cx="701.3" cy="589.7" r="2.2" fill="#c13639" stroke="#b53236"/><circle cx="619.3" cy="493.7" r="2.2" fill="#b51e2e" stroke="#aa1c2b"/><circle cx="919.4" cy="405.3" r="2.2" fill="#dce4ef" stroke="#cfd6e0"/><circle cx="975.8" cy="372.2" r="2.2" fill="#fbddcb" stroke="#ecd0bf"/><circle cx="691" cy="486.8" r="2.2" fill="#d86551" stroke="#cb5f4c"/><circle cx="715.7" cy="480.3" r="2.2" fill="#f7b99b" stroke="#e8ad92"/><circle cx="909.6" cy="278.7" r="2.2" fill="#f6e4da" stroke="#e7d6cd"/><circle cx="679.9" cy="494.4" r="2.2" fill="#e58167" stroke="#d77a60"/><circle cx="672.2" cy="456.6" r="2.2" fill="#dd715a" stroke="#d06a55"/><circle cx="639.9" cy="566" r="2.2" fill="#b7212f" stroke="#ac1f2d"/><circle cx="953.3" cy="299.1" r="2.2" fill="#fcdcc9" stroke="#edcfbd"/><circle cx="662.5" cy="588.8" r="2.2" fill="#f7b89a" stroke="#e8ad91"/><circle cx="683.5" cy="497" r="2.2" fill="#facbb3" stroke="#ebbfa8"/><circle cx="619.6" cy="548.1" r="2.2" fill="#f29f7e" stroke="#e39676"/><circle cx="698.1" cy="449" r="2.2" fill="#ec9274" stroke="#de8a6d"/><circle cx="671.5" cy="472.6" r="2.2" fill="#e37e64" stroke="#d6775e"/><circle cx="662" cy="421.6" r="2.2" fill="#f7b799" stroke="#e8ac90"/><circle cx="885.9" cy="356" r="2.2" fill="#fac7ad" stroke="#ebbba3"/><circle cx="939.9" cy="472.8" r="2.2" fill="#b82431" stroke="#ad222e"/><circle cx="882.8" cy="354.8" r="2.2" fill="#abc6e3" stroke="#a1bad6"/><circle cx="674.2" cy="466.6" r="2.2" fill="#f2a17f" stroke="#e49777"/><circle cx="919.4" cy="239.3" r="2.2" fill="#f7b99b" stroke="#e8ae92"/><circle cx="729.3" cy="485.8" r="2.2" fill="#ee9677" stroke="#df8d6f"/><circle cx="960.1" cy="439" r="2.2" fill="#fadece" stroke="#ebd1c2"/><circle cx="897.8" cy="324.2" r="2.2" fill="#cbdaec" stroke="#becddd"/><circle cx="621.4" cy="512.3" r="2.2" fill="#f3a280" stroke="#e49878"/><circle cx="643.4" cy="441.8" r="2.2" fill="#d05448" stroke="#c44f43"/><circle cx="650.9" cy="548.1" r="2.2" fill="#f9c3a8" stroke="#eab79e"/><circle cx="966.3" cy="408" r="2.2" fill="#fcd7c2" stroke="#edcab6"/><circle cx="732.2" cy="568.2" r="2.2" fill="#f6b394" stroke="#e8a88b"/><circle cx="968.6" cy="259.8" r="2.2" fill="#dfe6ef" stroke="#d2d8e1"/><circle cx="641.4" cy="486.4" r="2.2" fill="#b31b2c" stroke="#a9192a"/><circle cx="666.1" cy="519.3" r="2.2" fill="#ed9475" stroke="#df8b6e"/><circle cx="742.6" cy="504.7" r="2.2" fill="#da6a55" stroke="#cd6450"/><circle cx="841.2" cy="573.3" r="2.2" fill="#f9c3a8" stroke="#eab79e"/><circle cx="972.8" cy="220.6" r="2.2" fill="#fbd0b8" stroke="#ecc3ad"/><circle cx="909.8" cy="416.3" r="2.2" fill="#e1e7ef" stroke="#d4d9e1"/><circle cx="703.9" cy="476" r="2.2" fill="#f7b798" stroke="#e8ac8f"/><circle cx="897.6" cy="386.4" r="2.2" fill="#f7b799" stroke="#e8ac90"/><circle cx="986.3" cy="307.5" r="2.2" fill="#8fb4db" stroke="#86a9cd"/><circle cx="692.9" cy="453.9" r="2.2" fill="#f3a381" stroke="#e59a79"/><circle cx="892.6" cy="549.6" r="2.2" fill="#e68569" stroke="#d87d63"/><circle cx="674.9" cy="493.5" r="2.2" fill="#f4a583" stroke="#e59c7b"/><circle cx="921.4" cy="386.8" r="2.2" fill="#a8c4e3" stroke="#9eb9d5"/><circle cx="698.1" cy="575.7" r="2.2" fill="#fcd3bc" stroke="#edc6b1"/><circle cx="685.5" cy="487.9" r="2.2" fill="#ee9777" stroke="#df8d70"/><circle cx="985" cy="286.8" r="2.2" fill="#e1e7ef" stroke="#d4d9e1"/><circle cx="711.1" cy="515.8" r="2.2" fill="#fac7ae" stroke="#ebbba3"/><circle cx="908.9" cy="502.1" r="2.2" fill="#fbddcc" stroke="#ecd0bf"/><circle cx="957.6" cy="440.7" r="2.2" fill="#d9e2ee" stroke="#ccd4e0"/><circle cx="632.2" cy="473.3" r="2.2" fill="#f4a582" stroke="#e59b7a"/><circle cx="684.2" cy="572.4" r="2.2" fill="#c03438" stroke="#b43135"/><circle cx="683.4" cy="443.5" r="2.2" fill="#ecedf1" stroke="#dedfe2"/><circle cx="905.4" cy="307.4" r="2.2" fill="#dee5ef" stroke="#d1d7e1"/><circle cx="724.1" cy="596.9" r="2.2" fill="#f5aa88" stroke="#e6a080"/><circle cx="942.6" cy="334.6" r="2.2" fill="#fac9b0" stroke="#ebbda6"/><circle cx="850.5" cy="456.7" r="2.2" fill="#ee9878" stroke="#e08e70"/><circle cx="707.5" cy="574.8" r="2.2" fill="#fadfcf" stroke="#ebd1c3"/><circle cx="881.9" cy="515.7" r="2.2" fill="#eaecf0" stroke="#dcdee2"/><circle cx="621.8" cy="575.9" r="2.2" fill="#df755d" stroke="#d26e58"/><circle cx="655.9" cy="489.9" r="2.2" fill="#f7b698" stroke="#e8ab8f"/><circle cx="687.9" cy="586.7" r="2.2" fill="#f7ba9c" stroke="#e9af93"/><circle cx="895.7" cy="549.8" r="2.2" fill="#f6b394" stroke="#e8a98c"/><circle cx="710.1" cy="554.2" r="2.2" fill="#c2373a" stroke="#b63436"/><circle cx="990.5" cy="296.8" r="2.2" fill="#b8cee7" stroke="#adc2d9"/><circle cx="955.7" cy="461.4" r="2.2" fill="#f2e8e4" stroke="#e4dad7"/><circle cx="911.6" cy="271.9" r="2.2" fill="#fdd8c3" stroke="#edcbb8"/><circle cx="697.2" cy="605.4" r="2.2" fill="#f9c2a7" stroke="#eab69d"/><circle cx="668.2" cy="592.4" r="2.2" fill="#f6af8f" stroke="#e7a486"/><circle cx="638.8" cy="553.1" r="2.2" fill="#f6b091" stroke="#e7a688"/><circle cx="674.3" cy="461.6" r="2.2" fill="#fbd0b9" stroke="#ecc4ae"/><circle cx="961.1" cy="345.9" r="2.2" fill="#fcdcca" stroke="#edcfbe"/><circle cx="993.8" cy="278.5" r="2.2" fill="#b7cee7" stroke="#acc1d9"/><circle cx="892.7" cy="540.2" r="2.2" fill="#fcd3bd" stroke="#edc6b1"/><circle cx="867.5" cy="384.8" r="2.2" fill="#eeeef1" stroke="#e0e0e2"/><circle cx="961.4" cy="328" r="2.2" fill="#facbb3" stroke="#ebbfa8"/><circle cx="735.4" cy="489.4" r="2.2" fill="#fcd7c1" stroke="#edcab6"/><circle cx="686.4" cy="482.1" r="2.2" fill="#e17960" stroke="#d3725a"/><circle cx="993.9" cy="340.8" r="2.2" fill="#4782be" stroke="#437ab3"/><circle cx="693.9" cy="494.5" r="2.2" fill="#f2a17f" stroke="#e49777"/><circle cx="983.4" cy="390.8" r="2.2" fill="#f9c1a5" stroke="#eab59b"/><circle cx="635.3" cy="482.6" r="2.2" fill="#ef9979" stroke="#e09072"/><circle cx="947.9" cy="283" r="2.2" fill="#b7cde6" stroke="#acc1d9"/><circle cx="921.5" cy="233.7" r="2.2" fill="#e1e7ef" stroke="#d4d9e1"/><circle cx="663.9" cy="436.9" r="2.2" fill="#bc2c34" stroke="#b12931"/><circle cx="691.3" cy="442.9" r="2.2" fill="#fadfcf" stroke="#ebd1c2"/><circle cx="975.4" cy="361.1" r="2.2" fill="#f5e5dd" stroke="#e7d7d0"/><circle cx="658.6" cy="461.6" r="2.2" fill="#fddbc7" stroke="#eecebb"/><circle cx="641.4" cy="462.2" r="2.2" fill="#f19e7d" stroke="#e39575"/><circle cx="951.7" cy="414.6" r="2.2" fill="#fdd9c4" stroke="#edccb8"/><circle cx="901.7" cy="389.4" r="2.2" fill="#f9c2a8" stroke="#eab79e"/><circle cx="926.2" cy="412.9" r="2.2" fill="#bed2e8" stroke="#b2c5da"/><circle cx="690.7" cy="515.7" r="2.2" fill="#b51e2e" stroke="#aa1c2b"/><circle cx="674.9" cy="553.6" r="2.2" fill="#fbd0b9" stroke="#ecc4ae"/><circle cx="921.3" cy="313.8" r="2.2" fill="#f0ebea" stroke="#e2dddc"/><circle cx="921.6" cy="271.7" r="2.2" fill="#fac7ad" stroke="#ebbba3"/><circle cx="891.2" cy="333.8" r="2.2" fill="#fbcdb5" stroke="#ecc1ab"/><circle cx="852.7" cy="433.5" r="2.2" fill="#f9c3a8" stroke="#eab79e"/><circle cx="632.1" cy="592.7" r="2.2" fill="#fac6ad" stroke="#ebbaa2"/><circle cx="945.3" cy="464.1" r="2.2" fill="#fac8ae" stroke="#ebbca4"/><circle cx="896.1" cy="327.8" r="2.2" fill="#f0ebea" stroke="#e2dddc"/><circle cx="894.1" cy="552.2" r="2.2" fill="#d5e0ee" stroke="#c8d2df"/><circle cx="944.6" cy="448.8" r="2.2" fill="#e3e8f0" stroke="#d5dae1"/><circle cx="935.7" cy="478" r="2.2" fill="#ecedf1" stroke="#dedfe2"/><circle cx="924.4" cy="373.3" r="2.2" fill="#fac9b0" stroke="#ebbda6"/><circle cx="643.9" cy="534.1" r="2.2" fill="#f9c1a6" stroke="#eab59c"/><circle cx="936.2" cy="414.5" r="2.2" fill="#e9ebf0" stroke="#dbdde2"/><circle cx="891.6" cy="362.1" r="2.2" fill="#fac7ad" stroke="#ebbba3"/><circle cx="683.9" cy="492.7" r="2.2" fill="#db6c56" stroke="#ce6551"/><circle cx="893.7" cy="397.9" r="2.2" fill="#fbd0ba" stroke="#ecc4ae"/><circle cx="961.8" cy="252" r="2.2" fill="#f7b697" stroke="#e8ab8e"/><circle cx="977.8" cy="326.3" r="2.2" fill="#f5a987" stroke="#e69f7f"/><circle cx="948.5" cy="233.5" r="2.2" fill="#f1eae8" stroke="#e3dcda"/><circle cx="900.1" cy="343.9" r="2.2" fill="#ededf1" stroke="#dfdfe2"/><circle cx="916.1" cy="290.6" r="2.2" fill="#f5ab89" stroke="#e6a181"/><circle cx="961.3" cy="285.1" r="2.2" fill="#fddcc8" stroke="#edcebc"/><circle cx="963" cy="290.2" r="2.2" fill="#fcdcca" stroke="#edcfbe"/><circle cx="722.2" cy="536" r="2.2" fill="#d45c4b" stroke="#c75646"/><circle cx="945" cy="437.4" r="2.2" fill="#f7b799" stroke="#e8ac90"/><circle cx="908.9" cy="387.5" r="2.2" fill="#f9e0d2" stroke="#ead2c5"/><circle cx="881.4" cy="364.2" r="2.2" fill="#adc7e4" stroke="#a2bbd6"/><circle cx="678" cy="598.3" r="2.2" fill="#facab2" stroke="#ebbea7"/><circle cx="963.7" cy="280.9" r="2.2" fill="#f6af8f" stroke="#e7a486"/><circle cx="696.8" cy="540.9" r="2.2" fill="#f4a683" stroke="#e69c7c"/><circle cx="741" cy="500.4" r="2.2" fill="#e0785f" stroke="#d37059"/><circle cx="624.2" cy="549.7" r="2.2" fill="#b82431" stroke="#ad222e"/><circle cx="959.2" cy="243.7" r="2.2" fill="#f5ae8d" stroke="#e7a385"/><circle cx="954.1" cy="225.7" r="2.2" fill="#fdd9c4" stroke="#edccb8"/><circle cx="972.9" cy="391.5" r="2.2" fill="#f0ecec" stroke="#e2dddd"/><circle cx="895.4" cy="542.5" r="2.2" fill="#f4a785" stroke="#e69d7d"/><circle cx="959.7" cy="357" r="2.2" fill="#fcd6c0" stroke="#edc9b4"/><circle cx="650.3" cy="498.8" r="2.2" fill="#facab1" stroke="#ebbea6"/><circle cx="683.5" cy="586.5" r="2.2" fill="#fcd7c2" stroke="#edcab6"/><circle cx="668.2" cy="570.9" r="2.2" fill="#bb2933" stroke="#b02730"/><circle cx="901.7" cy="528.1" r="2.2" fill="#efecee" stroke="#e1dedf"/><circle cx="971.3" cy="404.7" r="2.2" fill="#f9c6ac" stroke="#eabaa1"/><circle cx="992.7" cy="346.1" r="2.2" fill="#f0ebea" stroke="#e2dddc"/><circle cx="940.4" cy="289.3" r="2.2" fill="#c9d8eb" stroke="#bccbdd"/><circle cx="738.9" cy="494.4" r="2.2" fill="#fcd4be" stroke="#edc7b3"/><circle cx="727.4" cy="532.1" r="2.2" fill="#c33b3b" stroke="#b83738"/><circle cx="970.3" cy="294.6" r="2.2" fill="#c9d8eb" stroke="#bdcbdd"/><circle cx="986.7" cy="315.2" r="2.2" fill="#fbd0b9" stroke="#ecc4ae"/><circle cx="718.5" cy="478.8" r="2.2" fill="#fcd7c2" stroke="#edcab7"/><circle cx="943.8" cy="337.5" r="2.2" fill="#fcdcc9" stroke="#edcfbd"/><circle cx="673" cy="440.3" r="2.2" fill="#f9c4a9" stroke="#eab89f"/><circle cx="719.3" cy="561.1" r="2.2" fill="#d05347" stroke="#c34e43"/><circle cx="928.5" cy="410.6" r="2.2" fill="#f8bfa4" stroke="#eab49a"/><circle cx="951.6" cy="348" r="2.2" fill="#bcd1e8" stroke="#b1c4da"/><circle cx="949.6" cy="373.5" r="2.2" fill="#e4e8f0" stroke="#d7dbe1"/><circle cx="958" cy="385.9" r="2.2" fill="#f7b99b" stroke="#e8ae92"/><circle cx="966.6" cy="432.5" r="2.2" fill="#d8e2ee" stroke="#cbd4e0"/><circle cx="653.8" cy="500.3" r="2.2" fill="#bb2a34" stroke="#b02831"/><circle cx="683" cy="422.2" r="2.2" fill="#f5ad8d" stroke="#e7a384"/><circle cx="622.4" cy="507.8" r="2.2" fill="#f3a481" stroke="#e59a79"/><circle cx="633" cy="547.9" r="2.2" fill="#b92631" stroke="#ae232e"/><circle cx="912.9" cy="439.5" r="2.2" fill="#c8d8eb" stroke="#bccbdd"/><circle cx="713.7" cy="509.5" r="2.2" fill="#e27b62" stroke="#d4735c"/><circle cx="943.5" cy="408.4" r="2.2" fill="#fac6ad" stroke="#ebbba2"/><circle cx="943.3" cy="307.8" r="2.2" fill="#fadfd0" stroke="#ebd2c3"/><circle cx="689.4" cy="552.4" r="2.2" fill="#c13539" stroke="#b53235"/><circle cx="645.8" cy="530.5" r="2.2" fill="#ba2732" stroke="#ae252f"/><circle cx="912.3" cy="471.2" r="2.2" fill="#aec8e4" stroke="#a4bcd7"/><circle cx="985.6" cy="260" r="2.2" fill="#c2383a" stroke="#b63537"/><circle cx="677.9" cy="469.4" r="2.2" fill="#f6e4db" stroke="#e7d6ce"/><circle cx="963.3" cy="238.8" r="2.2" fill="#f8bb9e" stroke="#e9b094"/><circle cx="916" cy="265.1" r="2.2" fill="#b9cee7" stroke="#aec2d9"/><circle cx="930.2" cy="347.5" r="2.2" fill="#fac8af" stroke="#ebbca5"/><circle cx="693.3" cy="464" r="2.2" fill="#f4e7e1" stroke="#e5d9d3"/><circle cx="630.7" cy="468.1" r="2.2" fill="#f7b697" stroke="#e8ab8e"/><circle cx="694" cy="541.7" r="2.2" fill="#d6604d" stroke="#c95b49"/><circle cx="710.4" cy="438.3" r="2.2" fill="#f7b596" stroke="#e8aa8d"/><circle cx="942.6" cy="428.5" r="2.2" fill="#fbceb7" stroke="#ecc2ac"/><circle cx="689.2" cy="434.8" r="2.2" fill="#f8c0a4" stroke="#eab49a"/><circle cx="956.7" cy="326.7" r="2.2" fill="#acc7e4" stroke="#a1bbd6"/><circle cx="613.8" cy="555.9" r="2.2" fill="#f9e0d3" stroke="#ead3c6"/><circle cx="651.8" cy="489" r="2.2" fill="#f5ae8d" stroke="#e7a385"/><circle cx="708.6" cy="483" r="2.2" fill="#f6e4da" stroke="#e7d6cd"/><circle cx="614" cy="551.9" r="2.2" fill="#d65f4d" stroke="#c95948"/><circle cx="667.9" cy="441.1" r="2.2" fill="#ee9677" stroke="#df8d70"/><circle cx="636.9" cy="428" r="2.2" fill="#f6b394" stroke="#e8a88b"/><circle cx="890.3" cy="355" r="2.2" fill="#fcd6c0" stroke="#edc9b5"/><circle cx="984.7" cy="342.3" r="2.2" fill="#fddac6" stroke="#eecdba"/><circle cx="977.6" cy="249.9" r="2.2" fill="#c3d5ea" stroke="#b7c8dc"/><circle cx="919.1" cy="422.9" r="2.2" fill="#efedee" stroke="#e1dee0"/><circle cx="961.2" cy="320" r="2.2" fill="#aec8e4" stroke="#a4bcd7"/><circle cx="863.1" cy="408.4" r="2.2" fill="#f9c1a5" stroke="#eab59b"/><circle cx="693.6" cy="508.8" r="2.2" fill="#f8bda0" stroke="#e9b196"/><circle cx="659.5" cy="443" r="2.2" fill="#facab1" stroke="#ebbea6"/><circle cx="731.9" cy="514.5" r="2.2" fill="#f7b89a" stroke="#e8ad91"/><circle cx="717" cy="539.2" r="2.2" fill="#fcdcca" stroke="#edcfbe"/><circle cx="907.9" cy="331.1" r="2.2" fill="#b6cde6" stroke="#acc1d9"/><circle cx="630.9" cy="596.7" r="2.2" fill="#d25749" stroke="#c55245"/><circle cx="727.3" cy="448.7" r="2.2" fill="#f7b697" stroke="#e8ab8e"/><circle cx="672.1" cy="529.4" r="2.2" fill="#fcd3bd" stroke="#edc6b1"/><circle cx="672" cy="492.4" r="2.2" fill="#e68569" stroke="#d87d63"/><circle cx="957.8" cy="411" r="2.2" fill="#f7b89a" stroke="#e8ad91"/><circle cx="902.7" cy="394.1" r="2.2" fill="#fac8af" stroke="#ebbca5"/><circle cx="940.1" cy="340.7" r="2.2" fill="#dfe6ef" stroke="#d2d8e1"/><circle cx="740.6" cy="571.6" r="2.2" fill="#fac9b0" stroke="#ebbda5"/><circle cx="920.4" cy="402" r="2.2" fill="#7ba7d4" stroke="#749dc7"/><circle cx="689.6" cy="423.5" r="2.2" fill="#f9e0d2" stroke="#ead3c5"/><circle cx="627.9" cy="470.8" r="2.2" fill="#f5aa89" stroke="#e6a081"/><circle cx="946" cy="434.8" r="2.2" fill="#b4cce6" stroke="#a9bfd8"/><circle cx="944.6" cy="209.7" r="2.2" fill="#fcdcca" stroke="#edcfbe"/><circle cx="950.7" cy="322.5" r="2.2" fill="#fbceb6" stroke="#ecc1ab"/><circle cx="675.7" cy="534.5" r="2.2" fill="#fcd4be" stroke="#edc8b3"/><circle cx="668" cy="608.8" r="2.2" fill="#e58267" stroke="#d77a61"/><circle cx="926.9" cy="393.4" r="2.2" fill="#f7b697" stroke="#e8ab8e"/><circle cx="938.4" cy="469.1" r="2.2" fill="#fbcdb5" stroke="#ecc0aa"/><circle cx="638.7" cy="507.9" r="2.2" fill="#c03338" stroke="#b43035"/><circle cx="655" cy="566.7" r="2.2" fill="#d65f4d" stroke="#c95948"/><circle cx="690.8" cy="616.7" r="2.2" fill="#f09c7b" stroke="#e29273"/><circle cx="626.7" cy="566.8" r="2.2" fill="#facbb3" stroke="#ebbfa8"/><circle cx="907" cy="415.8" r="2.2" fill="#f6b191" stroke="#e7a689"/><circle cx="891.5" cy="359.1" r="2.2" fill="#f9c3a8" stroke="#eab79e"/><circle cx="946.2" cy="469.5" r="2.2" fill="#f9c4a9" stroke="#eab89f"/><circle cx="860.5" cy="441.9" r="2.2" fill="#d6e1ee" stroke="#c9d3e0"/><circle cx="704.8" cy="492.7" r="2.2" fill="#b51d2d" stroke="#aa1b2b"/><circle cx="903.3" cy="292.7" r="2.2" fill="#f9c0a5" stroke="#eab59b"/><circle cx="705.3" cy="564.4" r="2.2" fill="#c43d3c" stroke="#b93939"/><circle cx="929.8" cy="424.3" r="2.2" fill="#fddbc8" stroke="#edcebc"/><circle cx="669" cy="584.6" r="2.2" fill="#f3a280" stroke="#e49978"/><circle cx="687.8" cy="538" r="2.2" fill="#fac9b0" stroke="#ebbda5"/><circle cx="904.7" cy="422.4" r="2.2" fill="#fac9b0" stroke="#ebbda6"/><circle cx="939.9" cy="253.7" r="2.2" fill="#f9c6ac" stroke="#ebbaa2"/><circle cx="630.6" cy="431.4" r="2.2" fill="#f6b090" stroke="#e7a587"/><circle cx="650.7" cy="544.9" r="2.2" fill="#f7b89a" stroke="#e8ad91"/><circle cx="885.1" cy="537.7" r="2.2" fill="#e4e8f0" stroke="#d6dae1"/><circle cx="700.7" cy="577.7" r="2.2" fill="#f9e0d3" stroke="#ead3c6"/><circle cx="950.6" cy="298.5" r="2.2" fill="#f9c2a7" stroke="#eab69d"/><circle cx="753" cy="576.3" r="2.2" fill="#f7b99c" stroke="#e9ae92"/><circle cx="692.4" cy="519.1" r="2.2" fill="#f7b89a" stroke="#e8ad91"/><circle cx="907.7" cy="410.7" r="2.2" fill="#fac7ad" stroke="#ebbba3"/><circle cx="949" cy="320" r="2.2" fill="#a5c3e2" stroke="#9cb7d4"/><circle cx="952.5" cy="345.2" r="2.2" fill="#f8e2d6" stroke="#e9d4c9"/><circle cx="906.1" cy="311.2" r="2.2" fill="#f6b394" stroke="#e8a98b"/><circle cx="921.8" cy="325.4" r="2.2" fill="#fadece" stroke="#ebd1c2"/><circle cx="681.2" cy="550.4" r="2.2" fill="#e48166" stroke="#d77960"/><circle cx="641.9" cy="542.3" r="2.2" fill="#d86450" stroke="#cb5e4b"/><circle cx="922.5" cy="362.1" r="2.2" fill="#dfe6ef" stroke="#d2d8e1"/><circle cx="994.1" cy="300.8" r="2.2" fill="#facbb2" stroke="#ebbea7"/><circle cx="691.1" cy="451.4" r="2.2" fill="#bdd2e8" stroke="#b2c5da"/><circle cx="947.2" cy="366.9" r="2.2" fill="#fbd0b9" stroke="#ecc4ae"/><circle cx="670.2" cy="448.1" r="2.2" fill="#fcd3bd" stroke="#edc6b1"/><circle cx="617.6" cy="526.5" r="2.2" fill="#fcd2bc" stroke="#ecc6b1"/><circle cx="619.5" cy="525.8" r="2.2" fill="#c03438" stroke="#b43135"/><circle cx="635.2" cy="518.2" r="2.2" fill="#fbcdb5" stroke="#ecc0aa"/><circle cx="976.7" cy="349.7" r="2.2" fill="#f8bfa3" stroke="#e9b49a"/><circle cx="623.1" cy="500.8" r="2.2" fill="#f6af8f" stroke="#e7a586"/><circle cx="899.4" cy="354" r="2.2" fill="#eeedf0" stroke="#e0dfe1"/><circle cx="967.1" cy="213.8" r="2.2" fill="#a4c2e2" stroke="#9ab6d4"/><circle cx="699.3" cy="513.7" r="2.2" fill="#ed9475" stroke="#de8b6e"/><circle cx="681.7" cy="520.6" r="2.2" fill="#c2383a" stroke="#b63537"/><circle cx="679.3" cy="608.2" r="2.2" fill="#fbceb6" stroke="#ecc1ab"/><circle cx="899.7" cy="393.8" r="2.2" fill="#fbceb6" stroke="#ecc1ab"/><circle cx="940.4" cy="281.1" r="2.2" fill="#fcd7c2" stroke="#edcab7"/><circle cx="888.4" cy="539.9" r="2.2" fill="#fcd3bd" stroke="#edc6b1"/><circle cx="683.9" cy="609.3" r="2.2" fill="#be3036" stroke="#b32d33"/><circle cx="647.5" cy="561.5" r="2.2" fill="#fbd0b8" stroke="#ecc3ad"/><circle cx="852.7" cy="441.9" r="2.2" fill="#f9c2a8" stroke="#eab79e"/><circle cx="984.5" cy="254.1" r="2.2" fill="#e6eaf0" stroke="#d8dce2"/><circle cx="734.4" cy="534.2" r="2.2" fill="#f9c1a6" stroke="#eab69c"/><circle cx="962.9" cy="213.3" r="2.2" fill="#f9c3a9" stroke="#eab89f"/><circle cx="645.6" cy="585.8" r="2.2" fill="#f5aa89" stroke="#e6a081"/><circle cx="975.3" cy="227.3" r="2.2" fill="#e7eaf0" stroke="#d9dce2"/><circle cx="973.7" cy="303.8" r="2.2" fill="#f6b293" stroke="#e7a78a"/><circle cx="684.5" cy="474.2" r="2.2" fill="#d25849" stroke="#c65345"/><circle cx="934" cy="304.3" r="2.2" fill="#e3e8ef" stroke="#d5dae1"/><circle cx="974.2" cy="270.3" r="2.2" fill="#fbceb7" stroke="#ecc2ac"/><circle cx="956.1" cy="274.5" r="2.2" fill="#eeedf0" stroke="#e0dfe1"/><circle cx="736" cy="457.6" r="2.2" fill="#c13539" stroke="#b53235"/><circle cx="949.3" cy="331.2" r="2.2" fill="#f6b191" stroke="#e7a688"/><circle cx="964.9" cy="361.9" r="2.2" fill="#fcd7c2" stroke="#edcab6"/><circle cx="663.1" cy="608.3" r="2.2" fill="#c2383a" stroke="#b73537"/><circle cx="663.6" cy="511.9" r="2.2" fill="#c03438" stroke="#b43135"/><circle cx="678.1" cy="581" r="2.2" fill="#b3192c" stroke="#a81829"/><circle cx="695.7" cy="566" r="2.2" fill="#e27c63" stroke="#d5755d"/><circle cx="906.1" cy="340.9" r="2.2" fill="#fddac5" stroke="#eecdba"/><circle cx="960.4" cy="276.5" r="2.2" fill="#c8d8eb" stroke="#bccbdd"/><circle cx="621.2" cy="498.4" r="2.2" fill="#fbcdb5" stroke="#ecc1ab"/><circle cx="956.3" cy="376.1" r="2.2" fill="#fddbc8" stroke="#eecebc"/><circle cx="930.4" cy="304.7" r="2.2" fill="#ededf1" stroke="#dfdfe2"/><circle cx="670.1" cy="563.6" r="2.2" fill="#f7b597" stroke="#e8ab8e"/><circle cx="628.7" cy="442.8" r="2.2" fill="#facab1" stroke="#ebbda6"/><circle cx="644.5" cy="480.1" r="2.2" fill="#f4a582" stroke="#e59b7a"/><circle cx="913.1" cy="419.4" r="2.2" fill="#dde4ef" stroke="#d0d7e0"/><circle cx="682.9" cy="510.9" r="2.2" fill="#f7b99b" stroke="#e8ae92"/><circle cx="638.3" cy="482.1" r="2.2" fill="#fbceb6" stroke="#ecc1ab"/><circle cx="978.1" cy="296.5" r="2.2" fill="#e5e9f0" stroke="#d7dbe1"/><circle cx="966.3" cy="231.7" r="2.2" fill="#ea8f71" stroke="#dc866a"/><circle cx="660.4" cy="578.1" r="2.2" fill="#f9c5ab" stroke="#eab9a1"/><circle cx="708.3" cy="479.3" r="2.2" fill="#dde5ef" stroke="#d0d7e0"/><circle cx="719.8" cy="524.9" r="2.2" fill="#fcd8c3" stroke="#edcbb7"/><circle cx="716.7" cy="535.4" r="2.2" fill="#be2f36" stroke="#b22d33"/><circle cx="947.7" cy="465.8" r="2.2" fill="#fbcdb5" stroke="#ecc1aa"/><circle cx="901.3" cy="287.7" r="2.2" fill="#b4cce6" stroke="#a9bfd8"/><circle cx="630.2" cy="459.8" r="2.2" fill="#f5ad8d" stroke="#e7a384"/><circle cx="924.1" cy="294.3" r="2.2" fill="#facab2" stroke="#ebbea7"/><circle cx="719.1" cy="439.8" r="2.2" fill="#b61f2e" stroke="#ab1d2c"/><circle cx="973.1" cy="247.6" r="2.2" fill="#be3137" stroke="#b32e33"/><circle cx="964.9" cy="372.7" r="2.2" fill="#abc6e3" stroke="#a1bad6"/><circle cx="961.7" cy="412.1" r="2.2" fill="#dbe3ee" stroke="#ced6e0"/><circle cx="920.5" cy="455.6" r="2.2" fill="#f7b89a" stroke="#e8ad91"/><circle cx="978.5" cy="305.3" r="2.2" fill="#fbdece" stroke="#ecd1c1"/><circle cx="966.9" cy="404.6" r="2.2" fill="#fcd4be" stroke="#edc7b3"/><circle cx="662" cy="457.2" r="2.2" fill="#c43c3c" stroke="#b83838"/><circle cx="925.4" cy="367.3" r="2.2" fill="#fdd8c3" stroke="#edcbb8"/><circle cx="923.6" cy="433.2" r="2.2" fill="#dde4ef" stroke="#cfd6e0"/><circle cx="635.6" cy="503" r="2.2" fill="#f09c7b" stroke="#e29274"/><circle cx="705.9" cy="428.1" r="2.2" fill="#f6af8e" stroke="#e7a486"/><circle cx="720.9" cy="492.5" r="2.2" fill="#f2a07e" stroke="#e39677"/><circle cx="657.7" cy="563.1" r="2.2" fill="#ea8e70" stroke="#dc866a"/><circle cx="926.2" cy="439.6" r="2.2" fill="#4983bf" stroke="#447bb4"/><circle cx="653.9" cy="448.5" r="2.2" fill="#f6b191" stroke="#e7a688"/><circle cx="914.3" cy="345.3" r="2.2" fill="#d7e1ee" stroke="#cad4e0"/><circle cx="923.3" cy="244.6" r="2.2" fill="#fac7ae" stroke="#ebbba3"/><circle cx="902.1" cy="377.2" r="2.2" fill="#f1eae8" stroke="#e3dcda"/><circle cx="956.5" cy="248.9" r="2.2" fill="#facbb3" stroke="#ebbfa8"/><circle cx="683.1" cy="467" r="2.2" fill="#d65f4d" stroke="#c95a48"/><circle cx="974.1" cy="344.5" r="2.2" fill="#edeef1" stroke="#dfdfe2"/><circle cx="922.2" cy="290.7" r="2.2" fill="#e2e7ef" stroke="#d5dae1"/><circle cx="628.2" cy="574.6" r="2.2" fill="#d15648" stroke="#c45044"/><circle cx="669.7" cy="587.8" r="2.2" fill="#fddbc7" stroke="#eecebb"/><circle cx="950.8" cy="428.8" r="2.2" fill="#bbd0e8" stroke="#b0c3da"/><circle cx="896.8" cy="355.7" r="2.2" fill="#fbd0b9" stroke="#ecc4ae"/><circle cx="947.2" cy="238.4" r="2.2" fill="#d7e1ee" stroke="#cad4e0"/><circle cx="654.5" cy="479.1" r="2.2" fill="#bc2b34" stroke="#b02931"/><circle cx="977.6" cy="269.1" r="2.2" fill="#e37f65" stroke="#d6775f"/><circle cx="655.5" cy="503.1" r="2.2" fill="#fbd1ba" stroke="#ecc4af"/><circle cx="861.3" cy="437.4" r="2.2" fill="#fbdecd" stroke="#ecd0c1"/><circle cx="638.8" cy="436" r="2.2" fill="#eb9172" stroke="#dd886b"/><circle cx="963.5" cy="276.7" r="2.2" fill="#adc8e4" stroke="#a3bcd6"/><circle cx="726.4" cy="466.3" r="2.2" fill="#f8bea2" stroke="#e9b298"/><circle cx="927.2" cy="383.3" r="2.2" fill="#fbddcc" stroke="#ecd0c0"/><circle cx="704.3" cy="571.9" r="2.2" fill="#f5ac8b" stroke="#e6a283"/><circle cx="980.9" cy="230.8" r="2.2" fill="#fac7ad" stroke="#ebbba3"/><circle cx="617.5" cy="485.9" r="2.2" fill="#f7b698" stroke="#e8ab8f"/><circle cx="711.3" cy="505.4" r="2.2" fill="#eb9072" stroke="#dd876b"/><circle cx="894.4" cy="314.3" r="2.2" fill="#d9e2ee" stroke="#ccd4e0"/><circle cx="912.8" cy="303.1" r="2.2" fill="#bad0e7" stroke="#afc3da"/><circle cx="992.6" cy="327.5" r="2.2" fill="#f5e5dd" stroke="#e6d7d0"/><circle cx="689.6" cy="483.7" r="2.2" fill="#ec9374" stroke="#de8a6d"/><circle cx="661.8" cy="479.7" r="2.2" fill="#f3e8e3" stroke="#e4dad6"/><circle cx="926.9" cy="371.5" r="2.2" fill="#b2cae5" stroke="#a7bed7"/><circle cx="970.2" cy="360.6" r="2.2" fill="#e2e7ef" stroke="#d5d9e1"/><circle cx="676.3" cy="600.8" r="2.2" fill="#c3393b" stroke="#b73637"/><circle cx="651.1" cy="496.1" r="2.2" fill="#e58267" stroke="#d77a61"/><circle cx="971" cy="386.4" r="2.2" fill="#f7b597" stroke="#e8aa8e"/><circle cx="891.7" cy="545.6" r="2.2" fill="#fcdcc9" stroke="#edcfbd"/><circle cx="712.1" cy="551.9" r="2.2" fill="#ecedf1" stroke="#dedfe2"/><circle cx="637.1" cy="441.3" r="2.2" fill="#ec9374" stroke="#de8a6d"/><circle cx="662.3" cy="484.4" r="2.2" fill="#d45d4c" stroke="#c85747"/><circle cx="682" cy="582.8" r="2.2" fill="#ec9274" stroke="#de896d"/><circle cx="863.5" cy="457.2" r="2.2" fill="#e6eaf0" stroke="#d8dce2"/><circle cx="968.6" cy="239.4" r="2.2" fill="#fac9b1" stroke="#ebbda6"/><circle cx="961" cy="431.9" r="2.2" fill="#dbe3ee" stroke="#ced6e0"/><circle cx="698.7" cy="584.3" r="2.2" fill="#bc2c35" stroke="#b12a31"/><circle cx="685.5" cy="577.1" r="2.2" fill="#fddbc8" stroke="#edcebc"/><circle cx="665.3" cy="580" r="2.2" fill="#f2a17f" stroke="#e49777"/><circle cx="922.9" cy="241.8" r="2.2" fill="#bdd1e8" stroke="#b2c5da"/><circle cx="689.9" cy="548.5" r="2.2" fill="#f7b79a" stroke="#e8ac90"/><circle cx="938.7" cy="351.9" r="2.2" fill="#d6e1ee" stroke="#cad3e0"/><circle cx="884.5" cy="327.6" r="2.2" fill="#fddbc7" stroke="#eecebb"/><circle cx="908.7" cy="322.3" r="2.2" fill="#ec9374" stroke="#de8a6d"/><circle cx="641.1" cy="501.6" r="2.2" fill="#ed9475" stroke="#de8b6e"/><circle cx="711.3" cy="465.6" r="2.2" fill="#f9c3a9" stroke="#eab89f"/><circle cx="988.1" cy="269" r="2.2" fill="#f2e8e5" stroke="#e4dad7"/><circle cx="932" cy="267.7" r="2.2" fill="#e6eaf0" stroke="#d9dce2"/><circle cx="916.2" cy="342" r="2.2" fill="#c8d8eb" stroke="#bccbdd"/><circle cx="849.7" cy="465.2" r="2.2" fill="#f8bea1" stroke="#e9b298"/><circle cx="728.8" cy="454.7" r="2.2" fill="#f8bb9e" stroke="#e9b094"/><circle cx="713.3" cy="583.8" r="2.2" fill="#f7b99b" stroke="#e8ae92"/><circle cx="954.5" cy="256.3" r="2.2" fill="#f5a886" stroke="#e69e7e"/><circle cx="964.6" cy="228.9" r="2.2" fill="#b3cbe5" stroke="#a8bfd8"/><circle cx="667.8" cy="444.2" r="2.2" fill="#ec9374" stroke="#de8a6d"/><circle cx="894.5" cy="418.8" r="2.2" fill="#e2e7ef" stroke="#d5d9e1"/><circle cx="939.3" cy="452.2" r="2.2" fill="#b7cde6" stroke="#acc1d9"/><circle cx="711" cy="602.1" r="2.2" fill="#dc6e58" stroke="#cf6752"/><circle cx="699.3" cy="565.9" r="2.2" fill="#f09c7b" stroke="#e29374"/><circle cx="895.2" cy="338.5" r="2.2" fill="#f2e9e5" stroke="#e4dbd8"/><circle cx="701.3" cy="535.9" r="2.2" fill="#e37f65" stroke="#d6775f"/><circle cx="918.2" cy="382.5" r="2.2" fill="#f3a481" stroke="#e59a79"/><circle cx="667.5" cy="541.6" r="2.2" fill="#b72230" stroke="#ac202d"/><circle cx="919.7" cy="371.7" r="2.2" fill="#e3e8f0" stroke="#d6dae1"/><circle cx="958.2" cy="394" r="2.2" fill="#fdd9c5" stroke="#eeccb9"/><circle cx="955.3" cy="318.2" r="2.2" fill="#f9c3a9" stroke="#eab89f"/><circle cx="923.7" cy="265.2" r="2.2" fill="#f9e1d4" stroke="#ead3c7"/><circle cx="956.9" cy="445.8" r="2.2" fill="#b6202f" stroke="#ab1e2c"/><circle cx="936.8" cy="209.1" r="2.2" fill="#d6e0ee" stroke="#c9d3e0"/><circle cx="942.3" cy="238.3" r="2.2" fill="#b2cae5" stroke="#a7bed7"/><circle cx="662.3" cy="489.8" r="2.2" fill="#ed9475" stroke="#de8b6e"/><circle cx="941.7" cy="450.1" r="2.2" fill="#e0e6ef" stroke="#d3d8e1"/><circle cx="961.8" cy="309.8" r="2.2" fill="#e68569" stroke="#d87d63"/><circle cx="983.3" cy="280.8" r="2.2" fill="#f0ecec" stroke="#e1dede"/><circle cx="710.8" cy="580.9" r="2.2" fill="#dc6e58" stroke="#cf6853"/><circle cx="726.6" cy="517" r="2.2" fill="#fcd8c3" stroke="#edcbb7"/><circle cx="674" cy="612.2" r="2.2" fill="#e37d64" stroke="#d5765e"/><circle cx="706.2" cy="568.2" r="2.2" fill="#db6b56" stroke="#ce6550"/><circle cx="662.1" cy="440.5" r="2.2" fill="#fadfd0" stroke="#ebd2c4"/><circle cx="948.2" cy="437.3" r="2.2" fill="#f6b292" stroke="#e7a789"/><circle cx="708.9" cy="506.9" r="2.2" fill="#f9c4a9" stroke="#eab89f"/><circle cx="703.5" cy="542" r="2.2" fill="#f7b799" stroke="#e8ac90"/><circle cx="916" cy="355.3" r="2.2" fill="#d9e2ee" stroke="#ccd5e0"/><circle cx="975.6" cy="237" r="2.2" fill="#e48166" stroke="#d77960"/><circle cx="645.3" cy="501.6" r="2.2" fill="#f09b7a" stroke="#e19273"/><circle cx="887.6" cy="377.9" r="2.2" fill="#f8bb9d" stroke="#e9af94"/><circle cx="743.1" cy="487.8" r="2.2" fill="#f09c7b" stroke="#e29374"/><circle cx="939.2" cy="455" r="2.2" fill="#e3e8f0" stroke="#d5dae1"/><circle cx="970" cy="316.1" r="2.2" fill="#fcd3bd" stroke="#edc6b1"/><circle cx="876.1" cy="509.1" r="2.2" fill="#dbe3ee" stroke="#ced6e0"/><circle cx="887.6" cy="327.5" r="2.2" fill="#f7e2d7" stroke="#e9d5ca"/><circle cx="669.5" cy="468.7" r="2.2" fill="#f6af8f" stroke="#e7a486"/><circle cx="903.4" cy="417.4" r="2.2" fill="#fac8ae" stroke="#ebbca4"/><circle cx="962.3" cy="331.9" r="2.2" fill="#fdd9c4" stroke="#edccb8"/><circle cx="890.8" cy="365.3" r="2.2" fill="#f5ac8b" stroke="#e7a283"/><circle cx="633.3" cy="558.7" r="2.2" fill="#f7b596" stroke="#e8aa8d"/><circle cx="715.8" cy="519.3" r="2.2" fill="#df745c" stroke="#d16d57"/><circle cx="691.1" cy="468.2" r="2.2" fill="#f9c5ab" stroke="#eab9a1"/><circle cx="668.2" cy="482.4" r="2.2" fill="#ba2833" stroke="#af262f"/><circle cx="953.5" cy="373.9" r="2.2" fill="#dbe3ef" stroke="#ced6e0"/><circle cx="904.2" cy="319.5" r="2.2" fill="#fadfcf" stroke="#ebd1c3"/><circle cx="926.1" cy="279.5" r="2.2" fill="#cedcec" stroke="#c2cede"/><circle cx="742" cy="479" r="2.2" fill="#e47f65" stroke="#d6785f"/><circle cx="678.9" cy="446.5" r="2.2" fill="#b61f2e" stroke="#ab1d2c"/><circle cx="687" cy="462" r="2.2" fill="#c43c3c" stroke="#b83838"/><circle cx="669.4" cy="532.8" r="2.2" fill="#fac9b0" stroke="#ebbda5"/><circle cx="977.5" cy="253.7" r="2.2" fill="#f8bc9f" stroke="#e9b095"/><circle cx="852" cy="452" r="2.2" fill="#f9c3a9" stroke="#eab79e"/><circle cx="879.1" cy="436.6" r="2.2" fill="#f7b799" stroke="#e8ac90"/><circle cx="641.8" cy="505.1" r="2.2" fill="#fcd4bd" stroke="#edc7b2"/><circle cx="919.9" cy="253.2" r="2.2" fill="#e2e7ef" stroke="#d5dae1"/><circle cx="957.5" cy="454.6" r="2.2" fill="#b7cee7" stroke="#acc1d9"/><circle cx="683.9" cy="458.5" r="2.2" fill="#f7b596" stroke="#e8aa8d"/><circle cx="950.4" cy="312.6" r="2.2" fill="#f5aa88" stroke="#e6a080"/><circle cx="891.7" cy="542.6" r="2.2" fill="#fcd2bc" stroke="#ecc6b1"/><circle cx="621.2" cy="564.8" r="2.2" fill="#b2182b" stroke="#a71728"/><circle cx="923.8" cy="275.3" r="2.2" fill="#dce4ef" stroke="#ced6e0"/><circle cx="917.1" cy="391.6" r="2.2" fill="#aac5e3" stroke="#9fb9d5"/><circle cx="891.5" cy="321.7" r="2.2" fill="#fac8af" stroke="#ebbca4"/><circle cx="923" cy="328.2" r="2.2" fill="#fbcfb8" stroke="#ecc3ad"/><circle cx="680" cy="557.1" r="2.2" fill="#d6614e" stroke="#ca5b49"/><circle cx="889.4" cy="519.5" r="2.2" fill="#f9c0a5" stroke="#eab59b"/><circle cx="658.7" cy="525.8" r="2.2" fill="#f4a582" stroke="#e59b7a"/><circle cx="705.8" cy="585.2" r="2.2" fill="#fddbc7" stroke="#eecebb"/><circle cx="680.3" cy="462.3" r="2.2" fill="#e27c62" stroke="#d4745c"/><circle cx="661.6" cy="446.4" r="2.2" fill="#f7b697" stroke="#e8ab8e"/><circle cx="961.9" cy="349.9" r="2.2" fill="#fcdcca" stroke="#edcfbe"/><circle cx="913" cy="396" r="2.2" fill="#f9c4aa" stroke="#eab89f"/><circle cx="674.4" cy="469.7" r="2.2" fill="#fddbc6" stroke="#eecdbb"/><circle cx="655.3" cy="597.8" r="2.2" fill="#fbd0ba" stroke="#ecc4ae"/><circle cx="641.3" cy="594.2" r="2.2" fill="#fdd9c4" stroke="#edccb8"/><circle cx="620.3" cy="538.7" r="2.2" fill="#fcd4be" stroke="#edc7b3"/><circle cx="888.6" cy="306.9" r="2.2" fill="#a4c2e2" stroke="#9ab6d4"/><circle cx="936" cy="454.4" r="2.2" fill="#fddbc7" stroke="#eecebb"/><circle cx="639.3" cy="475.6" r="2.2" fill="#fadfd0" stroke="#ebd2c3"/><circle cx="863.6" cy="489" r="2.2" fill="#ebecf1" stroke="#dddee2"/><circle cx="942.6" cy="242.6" r="2.2" fill="#f8e2d6" stroke="#e9d4c9"/><circle cx="689.4" cy="429.9" r="2.2" fill="#e0775f" stroke="#d37059"/><circle cx="985.3" cy="332" r="2.2" fill="#fcd3bd" stroke="#edc6b2"/><circle cx="699.1" cy="431.1" r="2.2" fill="#d15749" stroke="#c55244"/><circle cx="894.4" cy="323.5" r="2.2" fill="#fbd1ba" stroke="#ecc4af"/><circle cx="651.7" cy="552.4" r="2.2" fill="#e8896c" stroke="#da8166"/><circle cx="951.1" cy="394.8" r="2.2" fill="#efedee" stroke="#e1dfe0"/><circle cx="642" cy="585.1" r="2.2" fill="#db6c56" stroke="#ce6651"/><circle cx="929.6" cy="221.1" r="2.2" fill="#fbccb4" stroke="#ebc0a9"/><circle cx="642.3" cy="427.9" r="2.2" fill="#e48166" stroke="#d77960"/><circle cx="677.8" cy="539.8" r="2.2" fill="#de735b" stroke="#d16c56"/><circle cx="890.9" cy="531.7" r="2.2" fill="#fcd6c0" stroke="#edc9b5"/><circle cx="681.2" cy="562.1" r="2.2" fill="#f7b99b" stroke="#e8ae92"/><circle cx="611.3" cy="527.1" r="2.2" fill="#fddbc8" stroke="#eecebc"/><circle cx="965.8" cy="255.9" r="2.2" fill="#d6e0ee" stroke="#c9d3e0"/><circle cx="886.8" cy="341.7" r="2.2" fill="#f0ebeb" stroke="#e2dddc"/><circle cx="878" cy="514.1" r="2.2" fill="#f5ae8d" stroke="#e7a385"/><circle cx="894.2" cy="335.2" r="2.2" fill="#fcd6c1" stroke="#edcab6"/><circle cx="686.3" cy="618.7" r="2.2" fill="#f9e0d3" stroke="#ead3c6"/><circle cx="694.5" cy="516.3" r="2.2" fill="#b2192b" stroke="#a81729"/><circle cx="680.4" cy="497.5" r="2.2" fill="#e48066" stroke="#d6785f"/><circle cx="960.1" cy="407.3" r="2.2" fill="#fddbc7" stroke="#eecebb"/><circle cx="970.7" cy="269.7" r="2.2" fill="#fbcdb5" stroke="#ecc1aa"/><circle cx="977.1" cy="392.6" r="2.2" fill="#cfdded" stroke="#c3cfdf"/><circle cx="687.3" cy="459.2" r="2.2" fill="#f9c5aa" stroke="#eab9a0"/><circle cx="650.7" cy="603.9" r="2.2" fill="#fbd0b9" stroke="#ecc3ad"/><circle cx="659.5" cy="532.1" r="2.2" fill="#f6b090" stroke="#e7a688"/><circle cx="946.5" cy="333.7" r="2.2" fill="#cbdaec" stroke="#becddd"/><circle cx="983.6" cy="272.3" r="2.2" fill="#b0c9e5" stroke="#a5bdd7"/><circle cx="655.8" cy="451.4" r="2.2" fill="#fbcdb5" stroke="#ecc1aa"/><circle cx="887.5" cy="536.9" r="2.2" fill="#b2182b" stroke="#a71728"/><circle cx="656.9" cy="500.7" r="2.2" fill="#ec9274" stroke="#de8a6d"/><circle cx="890.7" cy="538" r="2.2" fill="#f8bda1" stroke="#e9b297"/><circle cx="960.5" cy="419.3" r="2.2" fill="#f8bea1" stroke="#e9b298"/><circle cx="896.3" cy="302.9" r="2.2" fill="#d1dded" stroke="#c4d0df"/><circle cx="875.6" cy="366.3" r="2.2" fill="#f19f7d" stroke="#e39676"/><circle cx="940.6" cy="415.9" r="2.2" fill="#f8bc9f" stroke="#e9b095"/><circle cx="684.4" cy="560" r="2.2" fill="#fac7ae" stroke="#ebbba3"/><circle cx="935.3" cy="337.4" r="2.2" fill="#fbceb6" stroke="#ecc2ab"/><circle cx="940.6" cy="278.1" r="2.2" fill="#e1e7ef" stroke="#d4d9e1"/><circle cx="719.4" cy="565.3" r="2.2" fill="#be3036" stroke="#b32d33"/><circle cx="918.3" cy="319.4" r="2.2" fill="#f8bfa3" stroke="#e9b399"/><circle cx="941.3" cy="396.8" r="2.2" fill="#fcd5bf" stroke="#edc8b3"/><circle cx="970.2" cy="366.4" r="2.2" fill="#f4a582" stroke="#e59b7a"/><circle cx="939.9" cy="394.3" r="2.2" fill="#fdd8c3" stroke="#edcbb8"/><circle cx="705.4" cy="596.8" r="2.2" fill="#bf3237" stroke="#b42f34"/><circle cx="991.5" cy="343.4" r="2.2" fill="#f3e8e4" stroke="#e4dad6"/><circle cx="725.8" cy="453.6" r="2.2" fill="#f7b89a" stroke="#e8ad91"/><circle cx="661.3" cy="460.8" r="2.2" fill="#e98b6e" stroke="#db8267"/><circle cx="884.3" cy="522.3" r="2.2" fill="#b92732" stroke="#ae252f"/><circle cx="664.6" cy="468.1" r="2.2" fill="#f7b596" stroke="#e8aa8d"/><circle cx="656.2" cy="557.8" r="2.2" fill="#df745d" stroke="#d16d57"/><circle cx="874.1" cy="381.7" r="2.2" fill="#afc9e4" stroke="#a5bdd7"/><circle cx="948.8" cy="286" r="2.2" fill="#dfe5ef" stroke="#d1d8e1"/><circle cx="888.9" cy="542.4" r="2.2" fill="#fcd5bf" stroke="#edc8b4"/><circle cx="917.6" cy="338" r="2.2" fill="#fac7ad" stroke="#ebbba3"/><circle cx="955.1" cy="264.7" r="2.2" fill="#e1e7ef" stroke="#d3d9e1"/><circle cx="631.9" cy="498.7" r="2.2" fill="#f3e8e3" stroke="#e4dad6"/><circle cx="888.1" cy="323.4" r="2.2" fill="#fcd2bc" stroke="#ecc6b1"/><circle cx="929" cy="247.4" r="2.2" fill="#c33b3b" stroke="#b83738"/><circle cx="694.8" cy="483.5" r="2.2" fill="#f6ae8e" stroke="#e7a485"/><circle cx="721.3" cy="584.5" r="2.2" fill="#fdd9c5" stroke="#eeccb9"/><circle cx="937.1" cy="395.6" r="2.2" fill="#a4c2e2" stroke="#9ab6d4"/><circle cx="688.8" cy="543.8" r="2.2" fill="#e0765e" stroke="#d26f59"/><circle cx="975.3" cy="282.2" r="2.2" fill="#fbcfb7" stroke="#ecc2ac"/><circle cx="926.9" cy="314.5" r="2.2" fill="#cddbec" stroke="#c1cede"/><circle cx="904.1" cy="366.9" r="2.2" fill="#d0dded" stroke="#c4d0df"/><circle cx="965.3" cy="314.3" r="2.2" fill="#fcd7c1" stroke="#edcab6"/><circle cx="665.4" cy="544.4" r="2.2" fill="#f19f7d" stroke="#e39576"/><circle cx="946.4" cy="280.3" r="2.2" fill="#fcdcc9" stroke="#edcfbd"/><circle cx="721.3" cy="557.7" r="2.2" fill="#e7876b" stroke="#d97f65"/><circle cx="967.9" cy="400.9" r="2.2" fill="#c2d5e9" stroke="#b7c8db"/><circle cx="722" cy="465.2" r="2.2" fill="#fcd5c0" stroke="#edc8b4"/><circle cx="959.7" cy="303.3" r="2.2" fill="#bfd2e9" stroke="#b3c6db"/><circle cx="942.3" cy="370.4" r="2.2" fill="#ebecf1" stroke="#dddee2"/><circle cx="724.2" cy="445.8" r="2.2" fill="#fbcfb8" stroke="#ecc3ad"/><circle cx="919" cy="316.3" r="2.2" fill="#dfe5ef" stroke="#d1d8e1"/><circle cx="928.7" cy="216.7" r="2.2" fill="#be3036" stroke="#b32d33"/><circle cx="737.3" cy="472.5" r="2.2" fill="#b72230" stroke="#ac202d"/><circle cx="894.5" cy="405" r="2.2" fill="#fddac6" stroke="#eecdba"/><circle cx="949.9" cy="406.2" r="2.2" fill="#facab2" stroke="#ebbea7"/><circle cx="977.8" cy="337.8" r="2.2" fill="#fcd4be" stroke="#edc7b2"/><circle cx="923.6" cy="490" r="2.2" fill="#fddac6" stroke="#eecdba"/><circle cx="937.4" cy="403" r="2.2" fill="#fac6ad" stroke="#ebbba2"/><circle cx="938.8" cy="300.4" r="2.2" fill="#f8bb9f" stroke="#e9b095"/><circle cx="742.3" cy="566.6" r="2.2" fill="#b41d2d" stroke="#aa1b2b"/><circle cx="967.2" cy="310.1" r="2.2" fill="#f4a582" stroke="#e59b7b"/><circle cx="704.3" cy="575.2" r="2.2" fill="#e27b61" stroke="#d4735c"/><circle cx="718.9" cy="475.5" r="2.2" fill="#fddbc8" stroke="#edcebc"/><circle cx="689.4" cy="605.3" r="2.2" fill="#bd2e35" stroke="#b22b32"/><circle cx="922.8" cy="238.8" r="2.2" fill="#f8c0a4" stroke="#eab49a"/><circle cx="939.2" cy="399.9" r="2.2" fill="#9cbddf" stroke="#93b2d2"/><circle cx="631.7" cy="442.6" r="2.2" fill="#f6b293" stroke="#e7a78a"/><circle cx="967.8" cy="440.5" r="2.2" fill="#e88a6d" stroke="#da8166"/><circle cx="913.8" cy="339.1" r="2.2" fill="#fbd1ba" stroke="#ecc5af"/><circle cx="911" cy="443.6" r="2.2" fill="#bcd0e8" stroke="#b0c4da"/><circle cx="665.7" cy="480.6" r="2.2" fill="#db6b55" stroke="#ce6550"/><circle cx="717.7" cy="501.7" r="2.2" fill="#f8bda0" stroke="#e9b197"/><circle cx="637.4" cy="589.5" r="2.2" fill="#facab1" stroke="#ebbea7"/><circle cx="935" cy="372.3" r="2.2" fill="#fcd3bd" stroke="#edc6b1"/><circle cx="666.3" cy="525.5" r="2.2" fill="#f19e7d" stroke="#e29475"/><circle cx="704.5" cy="479.7" r="2.2" fill="#f5e5dd" stroke="#e6d7d0"/><circle cx="931.3" cy="359.8" r="2.2" fill="#fadfcf" stroke="#ebd1c3"/><circle cx="972.7" cy="261" r="2.2" fill="#fcd5bf" stroke="#edc8b3"/><circle cx="695.9" cy="583.7" r="2.2" fill="#d86551" stroke="#cb5f4c"/><circle cx="730.3" cy="496.7" r="2.2" fill="#f09c7b" stroke="#e29374"/><circle cx="614.4" cy="519.7" r="2.2" fill="#f5ac8b" stroke="#e6a283"/><circle cx="655" cy="552.5" r="2.2" fill="#fdd8c4" stroke="#edcbb8"/><circle cx="707.5" cy="556.8" r="2.2" fill="#f4a583" stroke="#e59c7b"/><circle cx="852" cy="447.4" r="2.2" fill="#f0ebea" stroke="#e2dddc"/><circle cx="844.2" cy="452.8" r="2.2" fill="#f6b191" stroke="#e7a689"/><circle cx="668.6" cy="464.8" r="2.2" fill="#f19e7c" stroke="#e29475"/><circle cx="677.3" cy="490.9" r="2.2" fill="#d96752" stroke="#cc614d"/><circle cx="652.8" cy="607" r="2.2" fill="#f6b292" stroke="#e7a789"/><circle cx="624.5" cy="578.8" r="2.2" fill="#f7b698" stroke="#e8ab8f"/><circle cx="705.1" cy="601.6" r="2.2" fill="#fac7ad" stroke="#ebbba2"/><circle cx="692" cy="579.4" r="2.2" fill="#f7b89a" stroke="#e8ad91"/><circle cx="917.4" cy="407.3" r="2.2" fill="#b3cbe6" stroke="#a9bfd8"/><circle cx="934.3" cy="379.9" r="2.2" fill="#fac8ae" stroke="#ebbca4"/><circle cx="723.8" cy="565" r="2.2" fill="#bd2e35" stroke="#b12b32"/><circle cx="912.7" cy="415.6" r="2.2" fill="#b31a2c" stroke="#a81829"/><circle cx="933.4" cy="273.8" r="2.2" fill="#dde4ef" stroke="#d0d7e0"/><circle cx="945.7" cy="235.2" r="2.2" fill="#f2e9e6" stroke="#e3dbd8"/><circle cx="694.3" cy="620.8" r="2.2" fill="#f9c5ab" stroke="#eab9a1"/><circle cx="930.7" cy="299.4" r="2.2" fill="#fcd5c0" stroke="#edc8b4"/><circle cx="686.6" cy="558.1" r="2.2" fill="#f6b495" stroke="#e8a98c"/><circle cx="951.9" cy="404.2" r="2.2" fill="#f7b89a" stroke="#e8ad91"/><circle cx="912.7" cy="348.1" r="2.2" fill="#bdd1e8" stroke="#b2c5da"/><circle cx="978.1" cy="257.5" r="2.2" fill="#fcddcb" stroke="#edd0bf"/><circle cx="680.9" cy="439.6" r="2.2" fill="#c2393a" stroke="#b73537"/><circle cx="639.7" cy="571.4" r="2.2" fill="#f9c3a9" stroke="#eab89f"/><circle cx="692.6" cy="460.8" r="2.2" fill="#f6ae8e" stroke="#e7a486"/><circle cx="942" cy="297.8" r="2.2" fill="#dae3ee" stroke="#cdd5e0"/><circle cx="876.7" cy="357.3" r="2.2" fill="#dce4ef" stroke="#cfd6e0"/><circle cx="909.3" cy="396.1" r="2.2" fill="#fac7ae" stroke="#ebbba3"/><circle cx="964.8" cy="430.3" r="2.2" fill="#f6b191" stroke="#e7a689"/><circle cx="971.3" cy="257.9" r="2.2" fill="#f9c2a7" stroke="#eab69d"/><circle cx="699" cy="520.1" r="2.2" fill="#f09b7a" stroke="#e19173"/><circle cx="958.5" cy="286" r="2.2" fill="#a1c0e1" stroke="#97b4d3"/><circle cx="627.8" cy="463.9" r="2.2" fill="#f7b99c" stroke="#e9ae93"/><circle cx="892.5" cy="370.6" r="2.2" fill="#f3e8e4" stroke="#e4dad7"/><circle cx="949.5" cy="295.4" r="2.2" fill="#b0c9e5" stroke="#a5bdd7"/><circle cx="926.1" cy="287.9" r="2.2" fill="#c9d9eb" stroke="#bdccdd"/><circle cx="886.8" cy="407.2" r="2.2" fill="#b0c9e5" stroke="#a5bdd7"/><circle cx="675.7" cy="446.1" r="2.2" fill="#f9c4aa" stroke="#eab9a0"/><circle cx="966.4" cy="329.2" r="2.2" fill="#faccb3" stroke="#ebbfa9"/><circle cx="997.9" cy="296.2" r="2.2" fill="#fac8af" stroke="#ebbca5"/><circle cx="901.5" cy="443.5" r="2.2" fill="#d7e1ee" stroke="#cad3e0"/><circle cx="709.7" cy="457.6" r="2.2" fill="#c2d4e9" stroke="#b6c7db"/><circle cx="962.5" cy="305" r="2.2" fill="#eeeef1" stroke="#e0e0e2"/><circle cx="707.4" cy="605.5" r="2.2" fill="#eb8f71" stroke="#dc876a"/><circle cx="988.2" cy="320.3" r="2.2" fill="#e2e7ef" stroke="#d4d9e1"/><circle cx="969.9" cy="231.7" r="2.2" fill="#f9c0a5" stroke="#eab59b"/><circle cx="889.2" cy="351.3" r="2.2" fill="#bbd0e7" stroke="#b0c3da"/><circle cx="893.4" cy="366.2" r="2.2" fill="#d7e1ee" stroke="#cad3e0"/><circle cx="621.5" cy="536" r="2.2" fill="#fcd5bf" stroke="#edc8b4"/><circle cx="898.1" cy="548.6" r="2.2" fill="#ef9a7a" stroke="#e19172"/><circle cx="696.4" cy="526" r="2.2" fill="#c43b3c" stroke="#b83838"/><circle cx="721.6" cy="508.2" r="2.2" fill="#dd715a" stroke="#d06a55"/><circle cx="638.1" cy="549.7" r="2.2" fill="#e58267" stroke="#d77b61"/><circle cx="729.1" cy="524" r="2.2" fill="#c03539" stroke="#b53235"/><circle cx="910" cy="429.6" r="2.2" fill="#de725b" stroke="#d06b55"/><circle cx="978.3" cy="332.4" r="2.2" fill="#f8ba9d" stroke="#e9af94"/><circle cx="737.8" cy="540.2" r="2.2" fill="#f4a784" stroke="#e69d7c"/><circle cx="717.3" cy="585.2" r="2.2" fill="#f7b89b" stroke="#e8ad91"/><circle cx="919.1" cy="366.2" r="2.2" fill="#f7ba9c" stroke="#e9ae93"/><circle cx="953.3" cy="312" r="2.2" fill="#d7e1ee" stroke="#cbd4e0"/><circle cx="656.9" cy="578.6" r="2.2" fill="#eb8f71" stroke="#dd876b"/><circle cx="700.2" cy="612.2" r="2.2" fill="#fbd1bb" stroke="#ecc5af"/><circle cx="634.2" cy="493.5" r="2.2" fill="#ed9475" stroke="#de8b6e"/><circle cx="842.7" cy="447.7" r="2.2" fill="#fcd6c0" stroke="#edc9b4"/><circle cx="693.8" cy="602.9" r="2.2" fill="#eb9173" stroke="#dd896c"/><circle cx="849.8" cy="565.6" r="2.2" fill="#fbddcc" stroke="#ecd0c0"/><circle cx="943.7" cy="330.4" r="2.2" fill="#bdd1e8" stroke="#b2c5da"/><circle cx="713.8" cy="594.9" r="2.2" fill="#f6af8f" stroke="#e7a586"/><circle cx="939" cy="422.2" r="2.2" fill="#bcd1e8" stroke="#b1c4da"/><circle cx="953" cy="324.2" r="2.2" fill="#f9e0d1" stroke="#ead2c5"/><circle cx="949.2" cy="342" r="2.2" fill="#a7c4e2" stroke="#9db8d5"/><circle cx="656.9" cy="455.1" r="2.2" fill="#f6e4da" stroke="#e7d6cd"/><circle cx="922.2" cy="247.2" r="2.2" fill="#b1cae5" stroke="#a7bed7"/><circle cx="904" cy="329.1" r="2.2" fill="#f9c1a6" stroke="#eab59c"/><circle cx="973.1" cy="255.7" r="2.2" fill="#eeeef1" stroke="#e0e0e2"/><circle cx="968.5" cy="236.5" r="2.2" fill="#ea8d70" stroke="#dc8569"/><circle cx="981" cy="336.7" r="2.2" fill="#ec9374" stroke="#de8a6d"/><circle cx="929.1" cy="391.4" r="2.2" fill="#c6d7eb" stroke="#bbcadc"/><circle cx="708.2" cy="518.4" r="2.2" fill="#f6b191" stroke="#e7a689"/><circle cx="953.6" cy="259.9" r="2.2" fill="#f7b496" stroke="#e8aa8d"/><circle cx="930.8" cy="378.7" r="2.2" fill="#fbcfb7" stroke="#ecc2ac"/><circle cx="968.6" cy="344.7" r="2.2" fill="#a3c1e1" stroke="#99b5d4"/><circle cx="616.9" cy="544.5" r="2.2" fill="#e27b62" stroke="#d4735c"/><circle cx="649.1" cy="571.3" r="2.2" fill="#f7ba9c" stroke="#e9ae93"/><circle cx="988.7" cy="290.9" r="2.2" fill="#fcd2bc" stroke="#ecc5b0"/><circle cx="931.1" cy="393.8" r="2.2" fill="#f8bea2" stroke="#e9b298"/><circle cx="953" cy="211.9" r="2.2" fill="#f6e3d9" stroke="#e8d6cc"/><circle cx="923.7" cy="376.8" r="2.2" fill="#d7e1ee" stroke="#cad3e0"/><circle cx="979.9" cy="344" r="2.2" fill="#eaecf0" stroke="#dcdee2"/><circle cx="680.5" cy="576" r="2.2" fill="#c5d6ea" stroke="#b9c9dc"/><circle cx="659.9" cy="491.4" r="2.2" fill="#fbceb6" stroke="#ecc2ab"/><circle cx="929.2" cy="263.8" r="2.2" fill="#f2a17f" stroke="#e49777"/><circle cx="930.2" cy="319.9" r="2.2" fill="#f7b89b" stroke="#e8ad92"/><circle cx="644.4" cy="589.3" r="2.2" fill="#fac8af" stroke="#ebbca5"/><circle cx="890.4" cy="490" r="2.2" fill="#f8bc9f" stroke="#e9b196"/><circle cx="962.4" cy="401.4" r="2.2" fill="#fbcfb7" stroke="#ecc2ac"/><circle cx="958.4" cy="435.7" r="2.2" fill="#fcd6c0" stroke="#edc9b5"/><circle cx="684.1" cy="503.3" r="2.2" fill="#f8bfa3" stroke="#e9b399"/><circle cx="965.5" cy="263.5" r="2.2" fill="#98bade" stroke="#8fafd1"/><circle cx="954.8" cy="363.8" r="2.2" fill="#f7b697" stroke="#e8ab8e"/><circle cx="980" cy="252.3" r="2.2" fill="#dde4ef" stroke="#d0d7e0"/><circle cx="952.7" cy="280" r="2.2" fill="#f9c1a6" stroke="#eab69c"/><circle cx="620.7" cy="544.5" r="2.2" fill="#f6b191" stroke="#e7a688"/><circle cx="949.7" cy="246.2" r="2.2" fill="#f6af8f" stroke="#e7a486"/><circle cx="730.7" cy="536.5" r="2.2" fill="#f5aa89" stroke="#e6a081"/><circle cx="951.8" cy="285.9" r="2.2" fill="#f9c6ac" stroke="#eabaa1"/><circle cx="708.6" cy="612" r="2.2" fill="#b82431" stroke="#ad222e"/><circle cx="903" cy="521.9" r="2.2" fill="#edeef1" stroke="#dfdfe2"/><circle cx="626.1" cy="501.5" r="2.2" fill="#f9c4a9" stroke="#eab89f"/><circle cx="961.8" cy="312.7" r="2.2" fill="#fbcfb8" stroke="#ecc3ad"/><circle cx="964.2" cy="423.2" r="2.2" fill="#e8ebf0" stroke="#dadde2"/><circle cx="955.8" cy="261.8" r="2.2" fill="#fddbc8" stroke="#eecebc"/><circle cx="735.1" cy="551.3" r="2.2" fill="#d55d4c" stroke="#c85847"/><circle cx="966.3" cy="285.2" r="2.2" fill="#f9e0d1" stroke="#ead2c5"/><circle cx="942.4" cy="470.4" r="2.2" fill="#f8e1d5" stroke="#e9d4c8"/><circle cx="988" cy="287.7" r="2.2" fill="#efedef" stroke="#e0dfe1"/><circle cx="611.5" cy="519.7" r="2.2" fill="#da6853" stroke="#cc624e"/><circle cx="927" cy="282.4" r="2.2" fill="#f9c4a9" stroke="#eab89f"/><circle cx="945.7" cy="288.3" r="2.2" fill="#f8bea3" stroke="#e9b399"/><circle cx="944.4" cy="250.6" r="2.2" fill="#f8bfa4" stroke="#e9b49a"/><circle cx="728.5" cy="475" r="2.2" fill="#e58368" stroke="#d77b62"/><circle cx="916.7" cy="374.6" r="2.2" fill="#f9c0a5" stroke="#eab59b"/><circle cx="981.4" cy="304" r="2.2" fill="#f1ebea" stroke="#e2dddc"/><circle cx="726" cy="560.5" r="2.2" fill="#f5ab89" stroke="#e6a181"/><circle cx="733.1" cy="456.2" r="2.2" fill="#d45d4b" stroke="#c85747"/><circle cx="955.4" cy="335.3" r="2.2" fill="#bed2e8" stroke="#b3c5da"/><circle cx="966.4" cy="397.8" r="2.2" fill="#a6c3e2" stroke="#9cb7d5"/><circle cx="693.8" cy="500" r="2.2" fill="#f9c6ac" stroke="#ebbaa2"/><circle cx="660.5" cy="541" r="2.2" fill="#c53f3d" stroke="#ba3b3a"/><circle cx="687.9" cy="579.2" r="2.2" fill="#e48166" stroke="#d77960"/><circle cx="942.1" cy="326.6" r="2.2" fill="#f4a582" stroke="#e59b7a"/><circle cx="961" cy="363.3" r="2.2" fill="#f5a988" stroke="#e69f80"/><circle cx="665.7" cy="532" r="2.2" fill="#f09b7b" stroke="#e19273"/><circle cx="897.5" cy="348.9" r="2.2" fill="#bdd1e8" stroke="#b1c4da"/><circle cx="659.4" cy="551.2" r="2.2" fill="#f4a481" stroke="#e59a79"/><circle cx="978.1" cy="387.4" r="2.2" fill="#e9ebf0" stroke="#dbdde2"/><circle cx="947.2" cy="421" r="2.2" fill="#f8bea2" stroke="#e9b298"/><circle cx="712.4" cy="511.9" r="2.2" fill="#ee9778" stroke="#e08e70"/><circle cx="714.1" cy="489.9" r="2.2" fill="#fac7ae" stroke="#ebbba3"/><circle cx="686.1" cy="621.9" r="2.2" fill="#d05448" stroke="#c44f43"/><circle cx="903.9" cy="347.3" r="2.2" fill="#b0c9e5" stroke="#a5bdd7"/><circle cx="697.5" cy="459" r="2.2" fill="#b51e2e" stroke="#aa1c2b"/><circle cx="689.1" cy="520.8" r="2.2" fill="#c2d4e9" stroke="#b6c7db"/><circle cx="684.7" cy="450.3" r="2.2" fill="#e7866a" stroke="#d97e64"/><circle cx="964.6" cy="241.5" r="2.2" fill="#a2c0e1" stroke="#98b5d3"/><circle cx="640.3" cy="478.3" r="2.2" fill="#f6b090" stroke="#e7a587"/><circle cx="953.5" cy="422" r="2.2" fill="#e2e7ef" stroke="#d5dae1"/><circle cx="957.6" cy="414.2" r="2.2" fill="#c0d3e9" stroke="#b5c7db"/><circle cx="625.9" cy="473.5" r="2.2" fill="#b41d2d" stroke="#aa1b2a"/><circle cx="641.4" cy="577.7" r="2.2" fill="#f5a987" stroke="#e69f7f"/><circle cx="688" cy="569.9" r="2.2" fill="#f8bfa4" stroke="#e9b49a"/><circle cx="696.8" cy="530.3" r="2.2" fill="#df755d" stroke="#d26e58"/><circle cx="647.7" cy="477.9" r="2.2" fill="#fddbc8" stroke="#eecebc"/><circle cx="727.2" cy="596.6" r="2.2" fill="#facab1" stroke="#ebbda6"/><circle cx="624.8" cy="487" r="2.2" fill="#f19f7e" stroke="#e39676"/><circle cx="895.8" cy="516.8" r="2.2" fill="#efedef" stroke="#e0dfe1"/><circle cx="622.7" cy="476.9" r="2.2" fill="#e98b6e" stroke="#db8267"/><circle cx="957.3" cy="293.8" r="2.2" fill="#fac7ad" stroke="#ebbba3"/><circle cx="735.5" cy="481.6" r="2.2" fill="#fddcc8" stroke="#edcebc"/><circle cx="655.7" cy="476.2" r="2.2" fill="#be3137" stroke="#b32e33"/><circle cx="740.7" cy="470.1" r="2.2" fill="#f9c4aa" stroke="#eab89f"/><circle cx="859" cy="463.6" r="2.2" fill="#f8bea2" stroke="#e9b398"/><circle cx="710" cy="538.4" r="2.2" fill="#fcd4be" stroke="#edc7b2"/><circle cx="965.9" cy="306.4" r="2.2" fill="#fddbc7" stroke="#eecebb"/><circle cx="957.4" cy="423.3" r="2.2" fill="#fbccb4" stroke="#ecc0a9"/><circle cx="679.2" cy="604.2" r="2.2" fill="#fbd0b9" stroke="#ecc4ae"/><circle cx="716.7" cy="473.3" r="2.2" fill="#f5ac8b" stroke="#e6a182"/><circle cx="626.9" cy="571.7" r="2.2" fill="#f6b394" stroke="#e8a98b"/><circle cx="950.2" cy="316.9" r="2.2" fill="#ebecf1" stroke="#dddee2"/><circle cx="701" cy="475" r="2.2" fill="#b2182b" stroke="#a71729"/><circle cx="851.7" cy="564.7" r="2.2" fill="#c63f3e" stroke="#ba3b3a"/><circle cx="662.9" cy="558.9" r="2.2" fill="#f8ba9d" stroke="#e9af93"/><circle cx="649" cy="585.5" r="2.2" fill="#f4a784" stroke="#e69d7d"/><circle cx="855.8" cy="457.5" r="2.2" fill="#f5ab8a" stroke="#e6a181"/><circle cx="661.4" cy="528.1" r="2.2" fill="#f5a886" stroke="#e69e7e"/><circle cx="981.4" cy="357.3" r="2.2" fill="#d8e1ee" stroke="#cbd4e0"/><circle cx="928.4" cy="260.9" r="2.2" fill="#f9c4aa" stroke="#eab9a0"/><circle cx="965.6" cy="303.2" r="2.2" fill="#fac9b0" stroke="#ebbda6"/><circle cx="907" cy="317.3" r="2.2" fill="#efedef" stroke="#e0dfe1"/><circle cx="660.2" cy="426.8" r="2.2" fill="#fcd4be" stroke="#edc7b2"/><circle cx="965.2" cy="401.6" r="2.2" fill="#fac7ae" stroke="#ebbba3"/><circle cx="892.2" cy="411.1" r="2.2" fill="#eeeef1" stroke="#dfdfe2"/><circle cx="938.1" cy="229.3" r="2.2" fill="#f5ab8a" stroke="#e6a181"/><circle cx="631" cy="573.3" r="2.2" fill="#eb9172" stroke="#dd886b"/><circle cx="845.5" cy="569.3" r="2.2" fill="#f9c5ab" stroke="#eab9a0"/><circle cx="943.1" cy="227.1" r="2.2" fill="#dfe5ef" stroke="#d1d8e1"/><circle cx="684.6" cy="564.2" r="2.2" fill="#fddbc8" stroke="#eecebc"/><circle cx="947.3" cy="381.6" r="2.2" fill="#e8896c" stroke="#da8166"/><circle cx="721" cy="486" r="2.2" fill="#ee9777" stroke="#e08e70"/><circle cx="901.1" cy="351.3" r="2.2" fill="#e8ebf0" stroke="#dadce2"/><circle cx="617.8" cy="481.6" r="2.2" fill="#e58267" stroke="#d77b61"/><circle cx="924.8" cy="308.5" r="2.2" fill="#b5cce6" stroke="#aac0d8"/><circle cx="897.6" cy="385.9" r="2.2" fill="#fcd6c0" stroke="#edc9b5"/><circle cx="697.6" cy="489.3" r="2.2" fill="#df745d" stroke="#d26d57"/><circle cx="886.2" cy="533.7" r="2.2" fill="#e68468" stroke="#d87c62"/><circle cx="914.1" cy="335.1" r="2.2" fill="#dfe6ef" stroke="#d2d8e1"/><circle cx="710.3" cy="572" r="2.2" fill="#f8bea2" stroke="#e9b399"/><circle cx="913.4" cy="365.7" r="2.2" fill="#f9c1a5" stroke="#eab59b"/><circle cx="966.5" cy="274.9" r="2.2" fill="#dde4ef" stroke="#cfd6e0"/><circle cx="695.8" cy="523" r="2.2" fill="#c13639" stroke="#b53236"/><circle cx="895.6" cy="318.3" r="2.2" fill="#fbceb6" stroke="#ecc2ab"/><circle cx="996.8" cy="339.9" r="2.2" fill="#e2e7ef" stroke="#d5dae1"/><circle cx="963.9" cy="233.1" r="2.2" fill="#f9c2a7" stroke="#eab79d"/><circle cx="677.4" cy="588.7" r="2.2" fill="#f2a17f" stroke="#e49777"/><circle cx="661.8" cy="470.1" r="2.2" fill="#ef9b7a" stroke="#e19173"/><circle cx="739.7" cy="485.4" r="2.2" fill="#f8bda1" stroke="#e9b297"/><circle cx="924.2" cy="315.6" r="2.2" fill="#dee5ef" stroke="#d0d7e0"/><circle cx="958.6" cy="383.1" r="2.2" fill="#f3e8e4" stroke="#e4dad6"/><circle cx="615.4" cy="541.8" r="2.2" fill="#d9e2ee" stroke="#ccd4e0"/><circle cx="961.8" cy="369.5" r="2.2" fill="#dfe5ef" stroke="#d1d8e1"/><circle cx="936.1" cy="434.7" r="2.2" fill="#fcd3bd" stroke="#edc6b1"/><circle cx="628.5" cy="498.7" r="2.2" fill="#f6b192" stroke="#e7a789"/><circle cx="900.8" cy="384.8" r="2.2" fill="#e9ebf0" stroke="#dbdde2"/><circle cx="939.1" cy="297.3" r="2.2" fill="#f9c1a6" stroke="#eab69c"/><circle cx="642.4" cy="552.8" r="2.2" fill="#e98b6e" stroke="#db8368"/><circle cx="620.2" cy="532.6" r="2.2" fill="#f5aa88" stroke="#e6a080"/><circle cx="674.6" cy="549.8" r="2.2" fill="#c9d9eb" stroke="#bdccdd"/><circle cx="931.8" cy="422.1" r="2.2" fill="#d8e1ee" stroke="#cbd4e0"/><circle cx="914.3" cy="281.2" r="2.2" fill="#cbdaec" stroke="#bfcdde"/><circle cx="720" cy="538.2" r="2.2" fill="#f5a886" stroke="#e69e7e"/><circle cx="915" cy="316.1" r="2.2" fill="#bad0e7" stroke="#afc3d9"/><circle cx="973" cy="275.4" r="2.2" fill="#dae2ee" stroke="#ccd5e0"/><circle cx="741.1" cy="540.7" r="2.2" fill="#d7634f" stroke="#ca5d4b"/><circle cx="979.1" cy="311.3" r="2.2" fill="#f9c1a5" stroke="#eab59b"/><circle cx="702.2" cy="562.1" r="2.2" fill="#ed9475" stroke="#de8b6e"/><circle cx="955.7" cy="281.4" r="2.2" fill="#fcdcca" stroke="#edcfbe"/><circle cx="636.3" cy="418.3" r="2.2" fill="#f4e6e0" stroke="#e5d8d2"/><circle cx="930.6" cy="241.4" r="2.2" fill="#fcdcca" stroke="#edcfbe"/><circle cx="638.7" cy="522.8" r="2.2" fill="#fbcfb7" stroke="#ecc2ac"/><circle cx="642.8" cy="474.5" r="2.2" fill="#c03539" stroke="#b53235"/><circle cx="740.1" cy="545.4" r="2.2" fill="#f8bda1" stroke="#e9b297"/><circle cx="616.5" cy="538.8" r="2.2" fill="#fbcfb8" stroke="#ecc3ad"/><circle cx="911" cy="283.8" r="2.2" fill="#d7e1ee" stroke="#cad4e0"/><circle cx="911.6" cy="333.2" r="2.2" fill="#d9e2ee" stroke="#ccd5e0"/><circle cx="937" cy="255" r="2.2" fill="#fcd6c1" stroke="#edcab6"/><circle cx="642.1" cy="448" r="2.2" fill="#fac8af" stroke="#ebbca5"/><circle cx="669.9" cy="494.8" r="2.2" fill="#fcd2bc" stroke="#ecc6b0"/><circle cx="970.9" cy="290.7" r="2.2" fill="#f8ba9d" stroke="#e9af94"/><circle cx="973.8" cy="241.8" r="2.2" fill="#fac6ad" stroke="#ebbaa2"/><circle cx="646.8" cy="498.1" r="2.2" fill="#f7b698" stroke="#e8ab8f"/><circle cx="885.5" cy="473.7" r="2.2" fill="#f9c5ab" stroke="#eabaa1"/><circle cx="702.4" cy="483.1" r="2.2" fill="#bd2d35" stroke="#b12a32"/><circle cx="958.3" cy="348.9" r="2.2" fill="#f9c2a7" stroke="#eab79d"/><circle cx="687" cy="447.4" r="2.2" fill="#f6af8f" stroke="#e7a587"/><circle cx="979.2" cy="380.7" r="2.2" fill="#e98c6f" stroke="#db8468"/><circle cx="642.9" cy="545.3" r="2.2" fill="#b6212f" stroke="#ab1f2c"/><circle cx="943.4" cy="282.2" r="2.2" fill="#ee9777" stroke="#e08e70"/><circle cx="671.3" cy="497.6" r="2.2" fill="#f6af8e" stroke="#e7a486"/><circle cx="998.2" cy="306.4" r="2.2" fill="#f7e2d7" stroke="#e8d5ca"/><circle cx="881.6" cy="522.9" r="2.2" fill="#e6e9f0" stroke="#d8dbe2"/><circle cx="934.7" cy="429.3" r="2.2" fill="#fcddcb" stroke="#ecd0bf"/><circle cx="926.3" cy="327.2" r="2.2" fill="#e6e9f0" stroke="#d8dbe2"/><circle cx="922.6" cy="299.1" r="2.2" fill="#f9c3a9" stroke="#eab89f"/><circle cx="697.1" cy="580.6" r="2.2" fill="#f6b192" stroke="#e7a789"/><circle cx="654.6" cy="422.6" r="2.2" fill="#fbceb6" stroke="#ecc1ab"/><circle cx="943.8" cy="278.7" r="2.2" fill="#fadfd0" stroke="#ebd2c4"/><circle cx="867" cy="391.8" r="2.2" fill="#e6eaf0" stroke="#d8dce2"/><circle cx="681.9" cy="601.7" r="2.2" fill="#facab1" stroke="#ebbea6"/><circle cx="920.2" cy="294.4" r="2.2" fill="#f3e8e4" stroke="#e4dad6"/><circle cx="940.2" cy="307.8" r="2.2" fill="#fcd7c2" stroke="#edcab7"/><circle cx="709.4" cy="426.9" r="2.2" fill="#f8bfa4" stroke="#eab49a"/><circle cx="639.5" cy="499.3" r="2.2" fill="#f6b394" stroke="#e8a88b"/><circle cx="979.4" cy="299.3" r="2.2" fill="#c03438" stroke="#b43035"/><circle cx="876" cy="389.4" r="2.2" fill="#a8c4e3" stroke="#9eb8d5"/><circle cx="914" cy="262.2" r="2.2" fill="#ecedf1" stroke="#dedee2"/><circle cx="945.2" cy="259.4" r="2.2" fill="#fbceb7" stroke="#ecc2ac"/><circle cx="639.5" cy="433.2" r="2.2" fill="#f6ae8e" stroke="#e7a486"/><circle cx="630.3" cy="451.8" r="2.2" fill="#f6af8e" stroke="#e7a486"/><circle cx="625.5" cy="467.9" r="2.2" fill="#f09c7b" stroke="#e29374"/><circle cx="701.7" cy="429.2" r="2.2" fill="#f5aa89" stroke="#e6a080"/><circle cx="666.1" cy="461" r="2.2" fill="#faccb4" stroke="#ebc0a9"/><circle cx="948.4" cy="356" r="2.2" fill="#cedced" stroke="#c2cfde"/><circle cx="976.5" cy="276.4" r="2.2" fill="#f5ad8c" stroke="#e7a384"/><circle cx="936.4" cy="311.7" r="2.2" fill="#fbdecd" stroke="#ecd1c1"/><circle cx="969.6" cy="216.1" r="2.2" fill="#f7e2d7" stroke="#e9d5ca"/><circle cx="651.4" cy="600.6" r="2.2" fill="#fcd4bf" stroke="#edc8b3"/><circle cx="724" cy="482.3" r="2.2" fill="#fac9b0" stroke="#ebbda6"/><circle cx="929.4" cy="363.7" r="2.2" fill="#fbcfb7" stroke="#ecc2ac"/><circle cx="974" cy="366.5" r="2.2" fill="#f5e5de" stroke="#e6d8d1"/><circle cx="904.4" cy="331.8" r="2.2" fill="#f9c0a5" stroke="#eab59b"/><circle cx="873.1" cy="407.2" r="2.2" fill="#e9ebf0" stroke="#dbdde2"/><circle cx="683.1" cy="548" r="2.2" fill="#b2182b" stroke="#a81729"/><circle cx="944.8" cy="200.6" r="2.2" fill="#e2e7ef" stroke="#d4d9e1"/><circle cx="650.6" cy="473" r="2.2" fill="#fddbc7" stroke="#eecebb"/><circle cx="682.4" cy="451.9" r="2.2" fill="#ba2833" stroke="#af2630"/><circle cx="685.1" cy="554" r="2.2" fill="#d2594a" stroke="#c65345"/><circle cx="942.8" cy="445.8" r="2.2" fill="#a9c5e3" stroke="#9fb9d5"/><circle cx="692.6" cy="551.6" r="2.2" fill="#eb9173" stroke="#dd886c"/><circle cx="915.5" cy="422.6" r="2.2" fill="#f9c5ac" stroke="#eabaa1"/><circle cx="917.5" cy="262.1" r="2.2" fill="#e5e9f0" stroke="#d7dbe1"/><circle cx="972.9" cy="358.2" r="2.2" fill="#4b85c1" stroke="#467db5"/><circle cx="953.1" cy="240.4" r="2.2" fill="#e9ebf0" stroke="#dbdde2"/><circle cx="854.3" cy="425" r="2.2" fill="#ededf1" stroke="#dfdfe2"/><circle cx="891.5" cy="415.7" r="2.2" fill="#c0d3e9" stroke="#b5c7db"/><circle cx="685.6" cy="598.5" r="2.2" fill="#fac9b0" stroke="#ebbda6"/><circle cx="951.9" cy="338.8" r="2.2" fill="#c4d6ea" stroke="#b8c9dc"/><circle cx="964.2" cy="344.9" r="2.2" fill="#b5cce6" stroke="#aac0d8"/><circle cx="942.7" cy="381.4" r="2.2" fill="#f7ba9c" stroke="#e9ae93"/><circle cx="927" cy="426.6" r="2.2" fill="#e7eaf0" stroke="#dadce2"/><circle cx="944.9" cy="304.5" r="2.2" fill="#bcd0e8" stroke="#b0c4da"/><circle cx="695.8" cy="431.4" r="2.2" fill="#f4a784" stroke="#e69d7c"/><circle cx="924.4" cy="424.5" r="2.2" fill="#facbb3" stroke="#ebbfa8"/><circle cx="693.9" cy="433.6" r="2.2" fill="#b51d2d" stroke="#aa1b2b"/><circle cx="717.7" cy="527.6" r="2.2" fill="#db6d57" stroke="#ce6651"/><circle cx="852.7" cy="461.3" r="2.2" fill="#f8bda1" stroke="#e9b298"/><circle cx="642.4" cy="604.5" r="2.2" fill="#d7614e" stroke="#ca5c49"/><circle cx="910.6" cy="344.4" r="2.2" fill="#f8bca0" stroke="#e9b196"/><circle cx="930.2" cy="385.3" r="2.2" fill="#fbdecd" stroke="#ecd1c1"/><circle cx="661.9" cy="523.8" r="2.2" fill="#fcd4bd" stroke="#edc7b2"/><circle cx="647.4" cy="503.9" r="2.2" fill="#c3393b" stroke="#b73637"/><circle cx="947.9" cy="244" r="2.2" fill="#a4c2e2" stroke="#9ab6d4"/><circle cx="643.5" cy="499.2" r="2.2" fill="#f9c2a7" stroke="#eab69d"/><circle cx="627.6" cy="557.7" r="2.2" fill="#c53e3d" stroke="#b93a39"/><circle cx="696.3" cy="491.9" r="2.2" fill="#eb8f71" stroke="#dc876a"/><circle cx="972.5" cy="362.8" r="2.2" fill="#f9c4a9" stroke="#eab89f"/><circle cx="958.9" cy="255.5" r="2.2" fill="#f9c3a8" stroke="#eab79e"/><circle cx="955.5" cy="296.6" r="2.2" fill="#f9e0d2" stroke="#ead3c6"/><circle cx="962.6" cy="417.1" r="2.2" fill="#c2383a" stroke="#b63537"/><circle cx="719.1" cy="463.8" r="2.2" fill="#ef9979" stroke="#e19072"/><circle cx="939.1" cy="274.9" r="2.2" fill="#b31b2c" stroke="#a9192a"/><circle cx="910.5" cy="485.9" r="2.2" fill="#f8bda0" stroke="#e9b197"/><circle cx="689.5" cy="454.3" r="2.2" fill="#cf5246" stroke="#c34d42"/><circle cx="964" cy="325.3" r="2.2" fill="#f6b495" stroke="#e8a98c"/><circle cx="971.9" cy="375.3" r="2.2" fill="#e9ebf0" stroke="#dbdde2"/><circle cx="646.7" cy="451.1" r="2.2" fill="#cfdded" stroke="#c3cfdf"/><circle cx="674.8" cy="545.3" r="2.2" fill="#d55d4c" stroke="#c85847"/><circle cx="936.9" cy="278.5" r="2.2" fill="#facbb3" stroke="#ebbfa8"/><circle cx="946.8" cy="206.4" r="2.2" fill="#fadfcf" stroke="#ebd1c3"/><circle cx="664" cy="534.8" r="2.2" fill="#f7ba9d" stroke="#e9af93"/><circle cx="669.1" cy="538.5" r="2.2" fill="#f7b799" stroke="#e8ac8f"/><circle cx="739.6" cy="568.3" r="2.2" fill="#be3137" stroke="#b32e33"/><circle cx="873.6" cy="403.4" r="2.2" fill="#e2e7ef" stroke="#d4d9e1"/><circle cx="956.5" cy="216.8" r="2.2" fill="#b2cae5" stroke="#a7bed7"/><circle cx="699.6" cy="607.2" r="2.2" fill="#ed9676" stroke="#df8d6f"/><circle cx="883.7" cy="381.7" r="2.2" fill="#f8bea2" stroke="#e9b398"/><circle cx="968.6" cy="390.7" r="2.2" fill="#fac8af" stroke="#ebbca5"/><circle cx="936" cy="446.9" r="2.2" fill="#f6af8e" stroke="#e7a486"/><circle cx="622.8" cy="531.2" r="2.2" fill="#b41b2c" stroke="#a9192a"/><circle cx="751.5" cy="535.7" r="2.2" fill="#c43c3c" stroke="#b83939"/><circle cx="945.3" cy="414.4" r="2.2" fill="#b0c9e5" stroke="#a6bdd7"/><circle cx="653.5" cy="539.4" r="2.2" fill="#e3e8f0" stroke="#d6dae1"/><circle cx="644.1" cy="596.8" r="2.2" fill="#f8bfa3" stroke="#e9b399"/><circle cx="637.7" cy="519.9" r="2.2" fill="#f7b697" stroke="#e8ab8e"/><circle cx="662.5" cy="555.3" r="2.2" fill="#f9c1a6" stroke="#eab69c"/><circle cx="915.9" cy="441.5" r="2.2" fill="#f19f7d" stroke="#e39576"/><circle cx="945.6" cy="315.1" r="2.2" fill="#ebedf1" stroke="#dddee2"/><circle cx="712.5" cy="474" r="2.2" fill="#f5ad8d" stroke="#e7a384"/><circle cx="692.9" cy="610.2" r="2.2" fill="#f9e0d1" stroke="#ead2c5"/><circle cx="707.1" cy="416.8" r="2.2" fill="#fcd7c1" stroke="#edcab6"/><circle cx="946.2" cy="254.5" r="2.2" fill="#f9c1a6" stroke="#eab69c"/><circle cx="680.6" cy="586" r="2.2" fill="#f8bea2" stroke="#e9b398"/><circle cx="620.4" cy="525.7" r="2.2" fill="#f8bc9f" stroke="#e9b095"/><circle cx="653.8" cy="492.9" r="2.2" fill="#f7b799" stroke="#e8ac8f"/><circle cx="946.6" cy="296.9" r="2.2" fill="#fddbc7" stroke="#eecdbb"/><circle cx="628.8" cy="502.6" r="2.2" fill="#d86551" stroke="#cb5f4c"/><circle cx="710.9" cy="494" r="2.2" fill="#e7876b" stroke="#d97f64"/><circle cx="961" cy="232.6" r="2.2" fill="#fddac5" stroke="#eecdba"/><circle cx="653.8" cy="571.2" r="2.2" fill="#fbccb4" stroke="#ecc0aa"/><circle cx="703.6" cy="530.9" r="2.2" fill="#fbd0ba" stroke="#ecc4ae"/><circle cx="658.5" cy="560.4" r="2.2" fill="#fbcfb8" stroke="#ecc3ad"/><circle cx="647.8" cy="494.8" r="2.2" fill="#e17961" stroke="#d4725b"/><circle cx="955.9" cy="342.9" r="2.2" fill="#fcd7c2" stroke="#edcab7"/><circle cx="939.7" cy="437.9" r="2.2" fill="#fbd2bb" stroke="#ecc5b0"/><circle cx="956.9" cy="379.5" r="2.2" fill="#f9dfd1" stroke="#ead2c4"/><circle cx="941.6" cy="251.1" r="2.2" fill="#fadfcf" stroke="#ebd1c2"/><circle cx="662.6" cy="549.9" r="2.2" fill="#f2a07e" stroke="#e39777"/><circle cx="641.2" cy="438.1" r="2.2" fill="#ec9273" stroke="#de896c"/><circle cx="879.6" cy="356.6" r="2.2" fill="#fbcdb5" stroke="#ecc0aa"/><circle cx="959.4" cy="235.9" r="2.2" fill="#df745d" stroke="#d26d57"/><circle cx="938.1" cy="265.2" r="2.2" fill="#dee5ef" stroke="#d1d7e1"/><circle cx="649.8" cy="574.8" r="2.2" fill="#e8886c" stroke="#da8066"/><circle cx="707.2" cy="511.6" r="2.2" fill="#e88a6d" stroke="#da8267"/><circle cx="880.6" cy="415" r="2.2" fill="#f7b799" stroke="#e8ac90"/><circle cx="905.2" cy="275.7" r="2.2" fill="#eeeef1" stroke="#e0e0e2"/><circle cx="692.1" cy="554.9" r="2.2" fill="#ec9475" stroke="#de8b6e"/><circle cx="958.7" cy="308.6" r="2.2" fill="#6b9cce" stroke="#6492c1"/><circle cx="678.9" cy="485.2" r="2.2" fill="#f6b293" stroke="#e7a78a"/><circle cx="932.9" cy="425.8" r="2.2" fill="#facab2" stroke="#ebbea7"/><circle cx="955.6" cy="347.2" r="2.2" fill="#94b7dc" stroke="#8baccf"/><circle cx="948.4" cy="263.5" r="2.2" fill="#ed9475" stroke="#df8b6e"/><circle cx="625.8" cy="493.7" r="2.2" fill="#f4a582" stroke="#e59b7a"/><circle cx="702.9" cy="458.4" r="2.2" fill="#f5ac8b" stroke="#e6a283"/><circle cx="655.6" cy="508" r="2.2" fill="#fbd1bb" stroke="#ecc5af"/><circle cx="696.8" cy="500.8" r="2.2" fill="#f9c5ab" stroke="#eab9a1"/><circle cx="939.6" cy="375.8" r="2.2" fill="#fadece" stroke="#ebd1c2"/><circle cx="956.4" cy="271" r="2.2" fill="#a6c3e2" stroke="#9cb7d5"/><circle cx="984.6" cy="290.5" r="2.2" fill="#4d87c2" stroke="#487fb6"/><circle cx="659.8" cy="497.3" r="2.2" fill="#df745d" stroke="#d16d57"/><circle cx="982.8" cy="251.2" r="2.2" fill="#f8ba9d" stroke="#e9af94"/><circle cx="985.5" cy="381.5" r="2.2" fill="#4681be" stroke="#4279b2"/><circle cx="672.2" cy="463.5" r="2.2" fill="#f3a381" stroke="#e59a79"/><circle cx="914.9" cy="246" r="2.2" fill="#c2d5e9" stroke="#b7c8db"/><circle cx="729.3" cy="588" r="2.2" fill="#fcd6c0" stroke="#edc9b5"/><circle cx="961.1" cy="316.3" r="2.2" fill="#8fb4db" stroke="#87a9ce"/><circle cx="623.8" cy="525.7" r="2.2" fill="#f5ad8c" stroke="#e7a284"/><circle cx="973.1" cy="350.5" r="2.2" fill="#ecedf1" stroke="#dedfe2"/><circle cx="996.8" cy="343.4" r="2.2" fill="#fac7ad" stroke="#ebbba3"/><circle cx="658.9" cy="451.8" r="2.2" fill="#be2f36" stroke="#b22d33"/><circle cx="892" cy="529" r="2.2" fill="#bdd1e8" stroke="#b2c5da"/><circle cx="641.2" cy="562.5" r="2.2" fill="#d3594a" stroke="#c65445"/><circle cx="906.7" cy="406.3" r="2.2" fill="#c33a3b" stroke="#b73738"/><circle cx="905" cy="355.4" r="2.2" fill="#e0e6ef" stroke="#d3d8e1"/><circle cx="910.3" cy="286.6" r="2.2" fill="#dde4ef" stroke="#d0d7e0"/><circle cx="636.6" cy="596.8" r="2.2" fill="#f5a987" stroke="#e69f7f"/><circle cx="710.9" cy="477.7" r="2.2" fill="#eaecf1" stroke="#dcdee2"/><circle cx="899.3" cy="330.9" r="2.2" fill="#f1eae8" stroke="#e3dcda"/><circle cx="896.6" cy="359.1" r="2.2" fill="#fbd1bb" stroke="#ecc5b0"/><circle cx="869.8" cy="482" r="2.2" fill="#f8bca0" stroke="#e9b196"/><circle cx="716.2" cy="605.1" r="2.2" fill="#dc6e57" stroke="#cf6752"/><circle cx="701.2" cy="462" r="2.2" fill="#fbd0b9" stroke="#ecc4ae"/><circle cx="885.3" cy="524.5" r="2.2" fill="#bf3338" stroke="#b43034"/><circle cx="922.8" cy="282.6" r="2.2" fill="#e7eaf0" stroke="#d9dce2"/><circle cx="645.8" cy="492.8" r="2.2" fill="#ea8d6f" stroke="#db8469"/><circle cx="648.8" cy="530.4" r="2.2" fill="#db6d57" stroke="#ce6651"/><circle cx="957.9" cy="258.9" r="2.2" fill="#dee5ef" stroke="#d1d7e1"/><circle cx="961" cy="249.2" r="2.2" fill="#f2e9e6" stroke="#e4dbd8"/><circle cx="910.8" cy="459.8" r="2.2" fill="#e0e6ef" stroke="#d3d8e1"/><circle cx="975.6" cy="329.6" r="2.2" fill="#f9c5aa" stroke="#eab9a0"/><circle cx="700.5" cy="531.7" r="2.2" fill="#fddbc7" stroke="#eecebb"/><circle cx="862.9" cy="399.1" r="2.2" fill="#bbd0e8" stroke="#b0c3da"/><circle cx="701.9" cy="593" r="2.2" fill="#f7b89a" stroke="#e8ad91"/><circle cx="671.9" cy="444.9" r="2.2" fill="#d15548" stroke="#c45044"/><circle cx="670" cy="505.3" r="2.2" fill="#f5a987" stroke="#e69f7f"/><circle cx="674.1" cy="595.2" r="2.2" fill="#f4a482" stroke="#e59b7a"/><circle cx="726.9" cy="565.6" r="2.2" fill="#f5a886" stroke="#e69e7e"/><circle cx="721.8" cy="474.2" r="2.2" fill="#fac7ad" stroke="#ebbba3"/><circle cx="967.6" cy="363.9" r="2.2" fill="#fdd8c4" stroke="#edcbb8"/><circle cx="720.1" cy="471.8" r="2.2" fill="#f9c5ab" stroke="#eab9a1"/><circle cx="658.4" cy="588.9" r="2.2" fill="#ef9979" stroke="#e19072"/><circle cx="949.7" cy="226.8" r="2.2" fill="#b3cbe5" stroke="#a8bfd8"/><circle cx="687.3" cy="495.5" r="2.2" fill="#f3a481" stroke="#e59a79"/><circle cx="951.6" cy="274.9" r="2.2" fill="#e4e8f0" stroke="#d6dae1"/><circle cx="906" cy="335.4" r="2.2" fill="#508ac4" stroke="#4b82b8"/><circle cx="628.8" cy="506.9" r="2.2" fill="#cf5247" stroke="#c34e42"/><circle cx="659.7" cy="436.1" r="2.2" fill="#fdd9c4" stroke="#edccb8"/><circle cx="988.5" cy="293.9" r="2.2" fill="#f8bda1" stroke="#e9b297"/><circle cx="971.8" cy="323.8" r="2.2" fill="#eaecf0" stroke="#dcdee2"/><circle cx="628.4" cy="516.5" r="2.2" fill="#f19f7e" stroke="#e39676"/><circle cx="695.2" cy="538.4" r="2.2" fill="#f19f7d" stroke="#e39576"/><circle cx="640.1" cy="590.1" r="2.2" fill="#fcd3bd" stroke="#edc6b2"/></g>
</svg>
</body></html>
